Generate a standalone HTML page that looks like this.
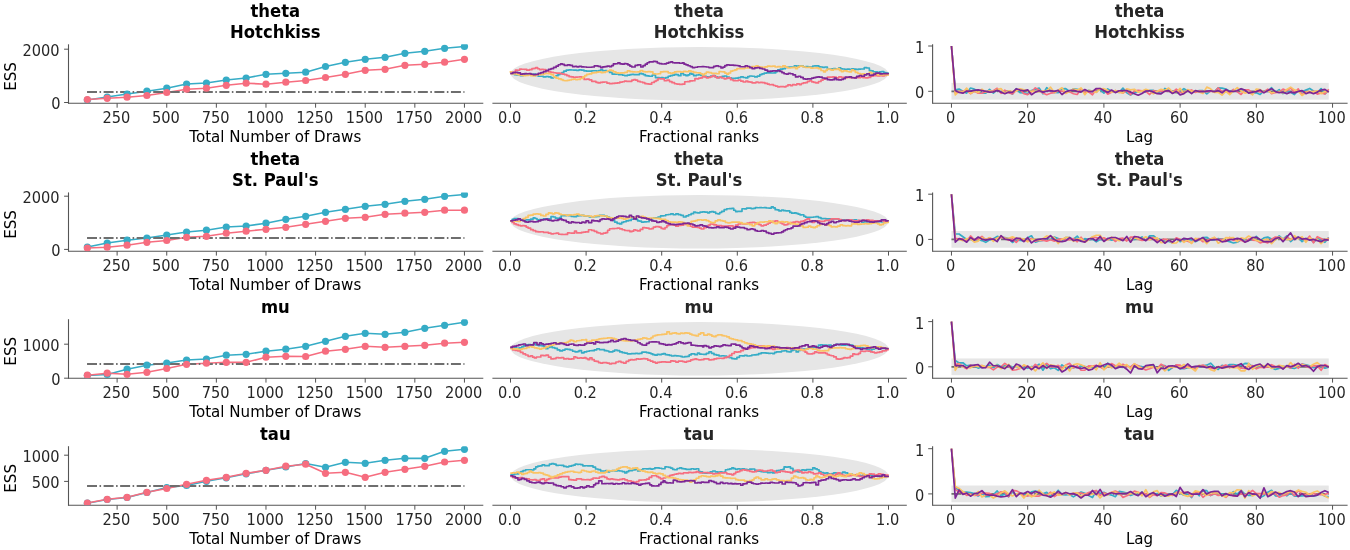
<!DOCTYPE html>
<html lang="en"><head><meta charset="utf-8"><title>ESS / rank / autocorrelation diagnostics</title>
<style>html,body{margin:0;padding:0;background:#fff;}body{width:1350px;height:550px;overflow:hidden;}svg{display:block;}</style>
</head><body>
<svg width="1350" height="550" viewBox="0 0 1350 550" font-family="'DejaVu Sans', 'Liberation Sans', sans-serif">
<rect width="1350" height="550" fill="#ffffff"/>
<defs>
<clipPath id="c00"><rect x="68.5" y="44.3" width="414.80" height="59.00"/></clipPath>
<clipPath id="c01"><rect x="492.4" y="44.3" width="414.40" height="59.00"/></clipPath>
<clipPath id="c02"><rect x="932.6" y="44.3" width="415.00" height="59.00"/></clipPath>
<clipPath id="c10"><rect x="68.5" y="192.4" width="414.80" height="58.80"/></clipPath>
<clipPath id="c11"><rect x="492.4" y="192.4" width="414.40" height="58.80"/></clipPath>
<clipPath id="c12"><rect x="932.6" y="192.4" width="415.00" height="58.80"/></clipPath>
<clipPath id="c20"><rect x="68.5" y="319.2" width="414.80" height="59.00"/></clipPath>
<clipPath id="c21"><rect x="492.4" y="319.2" width="414.40" height="59.00"/></clipPath>
<clipPath id="c22"><rect x="932.6" y="319.2" width="415.00" height="59.00"/></clipPath>
<clipPath id="c30"><rect x="68.5" y="446.2" width="414.80" height="59.10"/></clipPath>
<clipPath id="c31"><rect x="492.4" y="446.2" width="414.40" height="59.10"/></clipPath>
<clipPath id="c32"><rect x="932.6" y="446.2" width="415.00" height="59.10"/></clipPath>
</defs>
<text transform="translate(275.3,37.8) scale(1,1.06)" font-size="16.45" text-anchor="middle" font-weight="bold" fill="#000000">Hotchkiss</text>
<text transform="translate(275.3,16.7) scale(1,1.06)" font-size="16.45" text-anchor="middle" font-weight="bold" fill="#000000">theta</text>
<line x1="68.5" y1="103.3" x2="483.3" y2="103.3" stroke="#555555" stroke-width="1.1"/>
<text transform="translate(275.3,141.9) scale(1,1.03)" font-size="15.1" text-anchor="middle" fill="#000000">Total Number of Draws</text>
<text transform="translate(699,37.8) scale(1,1.06)" font-size="16.45" text-anchor="middle" font-weight="bold" fill="#262626">Hotchkiss</text>
<text transform="translate(699,16.7) scale(1,1.06)" font-size="16.45" text-anchor="middle" font-weight="bold" fill="#262626">theta</text>
<line x1="492.4" y1="103.3" x2="906.8" y2="103.3" stroke="#555555" stroke-width="1.1"/>
<text transform="translate(699,141.9) scale(1,1.03)" font-size="15.1" text-anchor="middle" fill="#000000">Fractional ranks</text>
<text transform="translate(1139.5,37.8) scale(1,1.06)" font-size="16.45" text-anchor="middle" font-weight="bold" fill="#262626">Hotchkiss</text>
<text transform="translate(1139.5,16.7) scale(1,1.06)" font-size="16.45" text-anchor="middle" font-weight="bold" fill="#262626">theta</text>
<line x1="932.6" y1="103.3" x2="1347.6" y2="103.3" stroke="#555555" stroke-width="1.1"/>
<text transform="translate(1139.5,141.9) scale(1,1.03)" font-size="15.1" text-anchor="middle" fill="#000000">Lag</text>
<text transform="translate(275.3,185.9) scale(1,1.06)" font-size="16.45" text-anchor="middle" font-weight="bold" fill="#000000">St. Paul's</text>
<text transform="translate(275.3,164.8) scale(1,1.06)" font-size="16.45" text-anchor="middle" font-weight="bold" fill="#000000">theta</text>
<line x1="68.5" y1="251.2" x2="483.3" y2="251.2" stroke="#555555" stroke-width="1.1"/>
<text transform="translate(275.3,289.8) scale(1,1.03)" font-size="15.1" text-anchor="middle" fill="#000000">Total Number of Draws</text>
<text transform="translate(699,185.9) scale(1,1.06)" font-size="16.45" text-anchor="middle" font-weight="bold" fill="#262626">St. Paul's</text>
<text transform="translate(699,164.8) scale(1,1.06)" font-size="16.45" text-anchor="middle" font-weight="bold" fill="#262626">theta</text>
<line x1="492.4" y1="251.2" x2="906.8" y2="251.2" stroke="#555555" stroke-width="1.1"/>
<text transform="translate(699,289.8) scale(1,1.03)" font-size="15.1" text-anchor="middle" fill="#000000">Fractional ranks</text>
<text transform="translate(1139.5,185.9) scale(1,1.06)" font-size="16.45" text-anchor="middle" font-weight="bold" fill="#262626">St. Paul's</text>
<text transform="translate(1139.5,164.8) scale(1,1.06)" font-size="16.45" text-anchor="middle" font-weight="bold" fill="#262626">theta</text>
<line x1="932.6" y1="251.2" x2="1347.6" y2="251.2" stroke="#555555" stroke-width="1.1"/>
<text transform="translate(1139.5,289.8) scale(1,1.03)" font-size="15.1" text-anchor="middle" fill="#000000">Lag</text>
<text transform="translate(275.3,312.7) scale(1,1.06)" font-size="16.45" text-anchor="middle" font-weight="bold" fill="#000000">mu</text>
<line x1="68.5" y1="378.2" x2="483.3" y2="378.2" stroke="#555555" stroke-width="1.1"/>
<text transform="translate(275.3,416.8) scale(1,1.03)" font-size="15.1" text-anchor="middle" fill="#000000">Total Number of Draws</text>
<text transform="translate(699,312.7) scale(1,1.06)" font-size="16.45" text-anchor="middle" font-weight="bold" fill="#262626">mu</text>
<line x1="492.4" y1="378.2" x2="906.8" y2="378.2" stroke="#555555" stroke-width="1.1"/>
<text transform="translate(699,416.8) scale(1,1.03)" font-size="15.1" text-anchor="middle" fill="#000000">Fractional ranks</text>
<text transform="translate(1139.5,312.7) scale(1,1.06)" font-size="16.45" text-anchor="middle" font-weight="bold" fill="#262626">mu</text>
<line x1="932.6" y1="378.2" x2="1347.6" y2="378.2" stroke="#555555" stroke-width="1.1"/>
<text transform="translate(1139.5,416.8) scale(1,1.03)" font-size="15.1" text-anchor="middle" fill="#000000">Lag</text>
<text transform="translate(275.3,439.7) scale(1,1.06)" font-size="16.45" text-anchor="middle" font-weight="bold" fill="#000000">tau</text>
<line x1="68.5" y1="505.3" x2="483.3" y2="505.3" stroke="#555555" stroke-width="1.1"/>
<text transform="translate(275.3,543.9) scale(1,1.03)" font-size="15.1" text-anchor="middle" fill="#000000">Total Number of Draws</text>
<text transform="translate(699,439.7) scale(1,1.06)" font-size="16.45" text-anchor="middle" font-weight="bold" fill="#262626">tau</text>
<line x1="492.4" y1="505.3" x2="906.8" y2="505.3" stroke="#555555" stroke-width="1.1"/>
<text transform="translate(699,543.9) scale(1,1.03)" font-size="15.1" text-anchor="middle" fill="#000000">Fractional ranks</text>
<text transform="translate(1139.5,439.7) scale(1,1.06)" font-size="16.45" text-anchor="middle" font-weight="bold" fill="#262626">tau</text>
<line x1="932.6" y1="505.3" x2="1347.6" y2="505.3" stroke="#555555" stroke-width="1.1"/>
<text transform="translate(1139.5,543.9) scale(1,1.03)" font-size="15.1" text-anchor="middle" fill="#000000">Lag</text>
<line x1="68.5" y1="44.3" x2="68.5" y2="103.85" stroke="#555555" stroke-width="1.1"/>
<line x1="117.12" y1="103.3" x2="117.12" y2="107.7" stroke="#4a4a4a" stroke-width="0.95"/>
<text transform="translate(116.32,122.8) scale(1,1.09)" font-size="14.6" text-anchor="middle" fill="#262626">250</text>
<line x1="166.74" y1="103.3" x2="166.74" y2="107.7" stroke="#4a4a4a" stroke-width="0.95"/>
<text transform="translate(165.94,122.8) scale(1,1.09)" font-size="14.6" text-anchor="middle" fill="#262626">500</text>
<line x1="216.36" y1="103.3" x2="216.36" y2="107.7" stroke="#4a4a4a" stroke-width="0.95"/>
<text transform="translate(215.56,122.8) scale(1,1.09)" font-size="14.6" text-anchor="middle" fill="#262626">750</text>
<line x1="265.98" y1="103.3" x2="265.98" y2="107.7" stroke="#4a4a4a" stroke-width="0.95"/>
<text transform="translate(265.18,122.8) scale(1,1.09)" font-size="14.6" text-anchor="middle" fill="#262626">1000</text>
<line x1="315.59" y1="103.3" x2="315.59" y2="107.7" stroke="#4a4a4a" stroke-width="0.95"/>
<text transform="translate(314.79,122.8) scale(1,1.09)" font-size="14.6" text-anchor="middle" fill="#262626">1250</text>
<line x1="365.21" y1="103.3" x2="365.21" y2="107.7" stroke="#4a4a4a" stroke-width="0.95"/>
<text transform="translate(364.41,122.8) scale(1,1.09)" font-size="14.6" text-anchor="middle" fill="#262626">1500</text>
<line x1="414.83" y1="103.3" x2="414.83" y2="107.7" stroke="#4a4a4a" stroke-width="0.95"/>
<text transform="translate(414.03,122.8) scale(1,1.09)" font-size="14.6" text-anchor="middle" fill="#262626">1750</text>
<line x1="464.45" y1="103.3" x2="464.45" y2="107.7" stroke="#4a4a4a" stroke-width="0.95"/>
<text transform="translate(463.65,122.8) scale(1,1.09)" font-size="14.6" text-anchor="middle" fill="#262626">2000</text>
<line x1="64.1" y1="49.2" x2="68.5" y2="49.2" stroke="#4a4a4a" stroke-width="0.95"/>
<text transform="translate(59.6,55.6) scale(1,1.09)" font-size="14.6" text-anchor="end" fill="#262626">2000</text>
<line x1="64.1" y1="102.5" x2="68.5" y2="102.5" stroke="#4a4a4a" stroke-width="0.95"/>
<text transform="translate(60.5,108.9) scale(1,1.09)" font-size="14.6" text-anchor="end" fill="#262626">0</text>
<text transform="translate(16,76.4) rotate(-90) scale(1,1.03)" font-size="15.1" text-anchor="middle" fill="#000000">ESS</text>
<g clip-path="url(#c00)">
<path d="M87.35 100 L107.2 97 L127.05 94 L146.9 91.2 L166.74 88.2 L186.59 84 L206.44 83 L226.28 80 L246.13 78 L265.98 74.3 L285.82 73.3 L305.67 72.2 L325.52 66.5 L345.36 62.3 L365.21 59.3 L385.06 57.3 L404.9 53.3 L424.75 51.3 L444.6 48.3 L464.45 46.5" fill="none" stroke="#36acc6" stroke-width="1.65" stroke-linejoin="round" stroke-linecap="butt"/>
<path d="M87.35 99.5 L107.2 98.3 L127.05 97.2 L146.9 95.5 L166.74 92.5 L186.59 89.2 L206.44 88.2 L226.28 85.3 L246.13 83.2 L265.98 84.2 L285.82 82.2 L305.67 80.5 L325.52 77.5 L345.36 74.3 L365.21 70.3 L385.06 69.3 L404.9 65.3 L424.75 64.3 L444.6 62.2 L464.45 59.3" fill="none" stroke="#f66d7f" stroke-width="1.65" stroke-linejoin="round" stroke-linecap="butt"/>
<line x1="87.05" y1="92.0" x2="464.45" y2="92.0" stroke="#6e6e6e" stroke-width="1.85" stroke-dasharray="9.98 2.50 1.56 2.50"/>
<circle cx="87.35" cy="100" r="3.6" fill="#36acc6"/>
<circle cx="107.2" cy="97" r="3.6" fill="#36acc6"/>
<circle cx="127.05" cy="94" r="3.6" fill="#36acc6"/>
<circle cx="146.9" cy="91.2" r="3.6" fill="#36acc6"/>
<circle cx="166.74" cy="88.2" r="3.6" fill="#36acc6"/>
<circle cx="186.59" cy="84" r="3.6" fill="#36acc6"/>
<circle cx="206.44" cy="83" r="3.6" fill="#36acc6"/>
<circle cx="226.28" cy="80" r="3.6" fill="#36acc6"/>
<circle cx="246.13" cy="78" r="3.6" fill="#36acc6"/>
<circle cx="265.98" cy="74.3" r="3.6" fill="#36acc6"/>
<circle cx="285.82" cy="73.3" r="3.6" fill="#36acc6"/>
<circle cx="305.67" cy="72.2" r="3.6" fill="#36acc6"/>
<circle cx="325.52" cy="66.5" r="3.6" fill="#36acc6"/>
<circle cx="345.36" cy="62.3" r="3.6" fill="#36acc6"/>
<circle cx="365.21" cy="59.3" r="3.6" fill="#36acc6"/>
<circle cx="385.06" cy="57.3" r="3.6" fill="#36acc6"/>
<circle cx="404.9" cy="53.3" r="3.6" fill="#36acc6"/>
<circle cx="424.75" cy="51.3" r="3.6" fill="#36acc6"/>
<circle cx="444.6" cy="48.3" r="3.6" fill="#36acc6"/>
<circle cx="464.45" cy="46.5" r="3.6" fill="#36acc6"/>
<circle cx="87.35" cy="99.5" r="3.6" fill="#f66d7f"/>
<circle cx="107.2" cy="98.3" r="3.6" fill="#f66d7f"/>
<circle cx="127.05" cy="97.2" r="3.6" fill="#f66d7f"/>
<circle cx="146.9" cy="95.5" r="3.6" fill="#f66d7f"/>
<circle cx="166.74" cy="92.5" r="3.6" fill="#f66d7f"/>
<circle cx="186.59" cy="89.2" r="3.6" fill="#f66d7f"/>
<circle cx="206.44" cy="88.2" r="3.6" fill="#f66d7f"/>
<circle cx="226.28" cy="85.3" r="3.6" fill="#f66d7f"/>
<circle cx="246.13" cy="83.2" r="3.6" fill="#f66d7f"/>
<circle cx="265.98" cy="84.2" r="3.6" fill="#f66d7f"/>
<circle cx="285.82" cy="82.2" r="3.6" fill="#f66d7f"/>
<circle cx="305.67" cy="80.5" r="3.6" fill="#f66d7f"/>
<circle cx="325.52" cy="77.5" r="3.6" fill="#f66d7f"/>
<circle cx="345.36" cy="74.3" r="3.6" fill="#f66d7f"/>
<circle cx="365.21" cy="70.3" r="3.6" fill="#f66d7f"/>
<circle cx="385.06" cy="69.3" r="3.6" fill="#f66d7f"/>
<circle cx="404.9" cy="65.3" r="3.6" fill="#f66d7f"/>
<circle cx="424.75" cy="64.3" r="3.6" fill="#f66d7f"/>
<circle cx="444.6" cy="62.2" r="3.6" fill="#f66d7f"/>
<circle cx="464.45" cy="59.3" r="3.6" fill="#f66d7f"/>
</g>
<line x1="68.5" y1="192.4" x2="68.5" y2="251.75" stroke="#555555" stroke-width="1.1"/>
<line x1="117.12" y1="251.2" x2="117.12" y2="255.6" stroke="#4a4a4a" stroke-width="0.95"/>
<text transform="translate(116.32,270.7) scale(1,1.09)" font-size="14.6" text-anchor="middle" fill="#262626">250</text>
<line x1="166.74" y1="251.2" x2="166.74" y2="255.6" stroke="#4a4a4a" stroke-width="0.95"/>
<text transform="translate(165.94,270.7) scale(1,1.09)" font-size="14.6" text-anchor="middle" fill="#262626">500</text>
<line x1="216.36" y1="251.2" x2="216.36" y2="255.6" stroke="#4a4a4a" stroke-width="0.95"/>
<text transform="translate(215.56,270.7) scale(1,1.09)" font-size="14.6" text-anchor="middle" fill="#262626">750</text>
<line x1="265.98" y1="251.2" x2="265.98" y2="255.6" stroke="#4a4a4a" stroke-width="0.95"/>
<text transform="translate(265.18,270.7) scale(1,1.09)" font-size="14.6" text-anchor="middle" fill="#262626">1000</text>
<line x1="315.59" y1="251.2" x2="315.59" y2="255.6" stroke="#4a4a4a" stroke-width="0.95"/>
<text transform="translate(314.79,270.7) scale(1,1.09)" font-size="14.6" text-anchor="middle" fill="#262626">1250</text>
<line x1="365.21" y1="251.2" x2="365.21" y2="255.6" stroke="#4a4a4a" stroke-width="0.95"/>
<text transform="translate(364.41,270.7) scale(1,1.09)" font-size="14.6" text-anchor="middle" fill="#262626">1500</text>
<line x1="414.83" y1="251.2" x2="414.83" y2="255.6" stroke="#4a4a4a" stroke-width="0.95"/>
<text transform="translate(414.03,270.7) scale(1,1.09)" font-size="14.6" text-anchor="middle" fill="#262626">1750</text>
<line x1="464.45" y1="251.2" x2="464.45" y2="255.6" stroke="#4a4a4a" stroke-width="0.95"/>
<text transform="translate(463.65,270.7) scale(1,1.09)" font-size="14.6" text-anchor="middle" fill="#262626">2000</text>
<line x1="64.1" y1="196.2" x2="68.5" y2="196.2" stroke="#4a4a4a" stroke-width="0.95"/>
<text transform="translate(59.6,202.6) scale(1,1.09)" font-size="14.6" text-anchor="end" fill="#262626">2000</text>
<line x1="64.1" y1="249.4" x2="68.5" y2="249.4" stroke="#4a4a4a" stroke-width="0.95"/>
<text transform="translate(60.5,255.8) scale(1,1.09)" font-size="14.6" text-anchor="end" fill="#262626">0</text>
<text transform="translate(16,224.4) rotate(-90) scale(1,1.03)" font-size="15.1" text-anchor="middle" fill="#000000">ESS</text>
<g clip-path="url(#c10)">
<path d="M87.35 247 L107.2 243 L127.05 240.2 L146.9 238 L166.74 235 L186.59 232 L206.44 230.2 L226.28 227 L246.13 226 L265.98 223.2 L285.82 219.3 L305.67 216.3 L325.52 212.3 L345.36 209.3 L365.21 206.3 L385.06 204.3 L404.9 201.3 L424.75 199.3 L444.6 196.3 L464.45 194.5" fill="none" stroke="#36acc6" stroke-width="1.65" stroke-linejoin="round" stroke-linecap="butt"/>
<path d="M87.35 248 L107.2 247.2 L127.05 245.2 L146.9 242.3 L166.74 240.5 L186.59 237.3 L206.44 236.3 L226.28 233.2 L246.13 231.2 L265.98 229.3 L285.82 227.3 L305.67 224.3 L325.52 221.3 L345.36 218.3 L365.21 217.3 L385.06 214.3 L404.9 213.2 L424.75 212.3 L444.6 210.2 L464.45 210.2" fill="none" stroke="#f66d7f" stroke-width="1.65" stroke-linejoin="round" stroke-linecap="butt"/>
<line x1="87.05" y1="238.0" x2="464.45" y2="238.0" stroke="#6e6e6e" stroke-width="1.85" stroke-dasharray="9.98 2.50 1.56 2.50"/>
<circle cx="87.35" cy="247" r="3.6" fill="#36acc6"/>
<circle cx="107.2" cy="243" r="3.6" fill="#36acc6"/>
<circle cx="127.05" cy="240.2" r="3.6" fill="#36acc6"/>
<circle cx="146.9" cy="238" r="3.6" fill="#36acc6"/>
<circle cx="166.74" cy="235" r="3.6" fill="#36acc6"/>
<circle cx="186.59" cy="232" r="3.6" fill="#36acc6"/>
<circle cx="206.44" cy="230.2" r="3.6" fill="#36acc6"/>
<circle cx="226.28" cy="227" r="3.6" fill="#36acc6"/>
<circle cx="246.13" cy="226" r="3.6" fill="#36acc6"/>
<circle cx="265.98" cy="223.2" r="3.6" fill="#36acc6"/>
<circle cx="285.82" cy="219.3" r="3.6" fill="#36acc6"/>
<circle cx="305.67" cy="216.3" r="3.6" fill="#36acc6"/>
<circle cx="325.52" cy="212.3" r="3.6" fill="#36acc6"/>
<circle cx="345.36" cy="209.3" r="3.6" fill="#36acc6"/>
<circle cx="365.21" cy="206.3" r="3.6" fill="#36acc6"/>
<circle cx="385.06" cy="204.3" r="3.6" fill="#36acc6"/>
<circle cx="404.9" cy="201.3" r="3.6" fill="#36acc6"/>
<circle cx="424.75" cy="199.3" r="3.6" fill="#36acc6"/>
<circle cx="444.6" cy="196.3" r="3.6" fill="#36acc6"/>
<circle cx="464.45" cy="194.5" r="3.6" fill="#36acc6"/>
<circle cx="87.35" cy="248" r="3.6" fill="#f66d7f"/>
<circle cx="107.2" cy="247.2" r="3.6" fill="#f66d7f"/>
<circle cx="127.05" cy="245.2" r="3.6" fill="#f66d7f"/>
<circle cx="146.9" cy="242.3" r="3.6" fill="#f66d7f"/>
<circle cx="166.74" cy="240.5" r="3.6" fill="#f66d7f"/>
<circle cx="186.59" cy="237.3" r="3.6" fill="#f66d7f"/>
<circle cx="206.44" cy="236.3" r="3.6" fill="#f66d7f"/>
<circle cx="226.28" cy="233.2" r="3.6" fill="#f66d7f"/>
<circle cx="246.13" cy="231.2" r="3.6" fill="#f66d7f"/>
<circle cx="265.98" cy="229.3" r="3.6" fill="#f66d7f"/>
<circle cx="285.82" cy="227.3" r="3.6" fill="#f66d7f"/>
<circle cx="305.67" cy="224.3" r="3.6" fill="#f66d7f"/>
<circle cx="325.52" cy="221.3" r="3.6" fill="#f66d7f"/>
<circle cx="345.36" cy="218.3" r="3.6" fill="#f66d7f"/>
<circle cx="365.21" cy="217.3" r="3.6" fill="#f66d7f"/>
<circle cx="385.06" cy="214.3" r="3.6" fill="#f66d7f"/>
<circle cx="404.9" cy="213.2" r="3.6" fill="#f66d7f"/>
<circle cx="424.75" cy="212.3" r="3.6" fill="#f66d7f"/>
<circle cx="444.6" cy="210.2" r="3.6" fill="#f66d7f"/>
<circle cx="464.45" cy="210.2" r="3.6" fill="#f66d7f"/>
</g>
<line x1="68.5" y1="319.2" x2="68.5" y2="378.75" stroke="#555555" stroke-width="1.1"/>
<line x1="117.12" y1="378.2" x2="117.12" y2="382.6" stroke="#4a4a4a" stroke-width="0.95"/>
<text transform="translate(116.32,397.7) scale(1,1.09)" font-size="14.6" text-anchor="middle" fill="#262626">250</text>
<line x1="166.74" y1="378.2" x2="166.74" y2="382.6" stroke="#4a4a4a" stroke-width="0.95"/>
<text transform="translate(165.94,397.7) scale(1,1.09)" font-size="14.6" text-anchor="middle" fill="#262626">500</text>
<line x1="216.36" y1="378.2" x2="216.36" y2="382.6" stroke="#4a4a4a" stroke-width="0.95"/>
<text transform="translate(215.56,397.7) scale(1,1.09)" font-size="14.6" text-anchor="middle" fill="#262626">750</text>
<line x1="265.98" y1="378.2" x2="265.98" y2="382.6" stroke="#4a4a4a" stroke-width="0.95"/>
<text transform="translate(265.18,397.7) scale(1,1.09)" font-size="14.6" text-anchor="middle" fill="#262626">1000</text>
<line x1="315.59" y1="378.2" x2="315.59" y2="382.6" stroke="#4a4a4a" stroke-width="0.95"/>
<text transform="translate(314.79,397.7) scale(1,1.09)" font-size="14.6" text-anchor="middle" fill="#262626">1250</text>
<line x1="365.21" y1="378.2" x2="365.21" y2="382.6" stroke="#4a4a4a" stroke-width="0.95"/>
<text transform="translate(364.41,397.7) scale(1,1.09)" font-size="14.6" text-anchor="middle" fill="#262626">1500</text>
<line x1="414.83" y1="378.2" x2="414.83" y2="382.6" stroke="#4a4a4a" stroke-width="0.95"/>
<text transform="translate(414.03,397.7) scale(1,1.09)" font-size="14.6" text-anchor="middle" fill="#262626">1750</text>
<line x1="464.45" y1="378.2" x2="464.45" y2="382.6" stroke="#4a4a4a" stroke-width="0.95"/>
<text transform="translate(463.65,397.7) scale(1,1.09)" font-size="14.6" text-anchor="middle" fill="#262626">2000</text>
<line x1="64.1" y1="344.2" x2="68.5" y2="344.2" stroke="#4a4a4a" stroke-width="0.95"/>
<text transform="translate(59.6,350.6) scale(1,1.09)" font-size="14.6" text-anchor="end" fill="#262626">1000</text>
<line x1="64.1" y1="378.2" x2="68.5" y2="378.2" stroke="#4a4a4a" stroke-width="0.95"/>
<text transform="translate(60.5,384.6) scale(1,1.09)" font-size="14.6" text-anchor="end" fill="#262626">0</text>
<text transform="translate(16,351.3) rotate(-90) scale(1,1.03)" font-size="15.1" text-anchor="middle" fill="#000000">ESS</text>
<g clip-path="url(#c20)">
<path d="M87.35 375.5 L107.2 374.5 L127.05 369.2 L146.9 365.2 L166.74 363 L186.59 360 L206.44 359 L226.28 355.2 L246.13 354.3 L265.98 351.2 L285.82 349.2 L305.67 346.3 L325.52 341.3 L345.36 336.3 L365.21 333.3 L385.06 334.3 L404.9 332.3 L424.75 328.3 L444.6 325.3 L464.45 322.3" fill="none" stroke="#36acc6" stroke-width="1.65" stroke-linejoin="round" stroke-linecap="butt"/>
<path d="M87.35 375.2 L107.2 373.2 L127.05 374.3 L146.9 372.3 L166.74 368.5 L186.59 364.3 L206.44 363.2 L226.28 362.3 L246.13 362.3 L265.98 357.2 L285.82 356.3 L305.67 356.5 L325.52 351.2 L345.36 349.3 L365.21 346.3 L385.06 347.3 L404.9 346.3 L424.75 345.3 L444.6 343.2 L464.45 342.3" fill="none" stroke="#f66d7f" stroke-width="1.65" stroke-linejoin="round" stroke-linecap="butt"/>
<line x1="87.05" y1="364.0" x2="464.45" y2="364.0" stroke="#6e6e6e" stroke-width="1.85" stroke-dasharray="9.98 2.50 1.56 2.50"/>
<circle cx="87.35" cy="375.5" r="3.6" fill="#36acc6"/>
<circle cx="107.2" cy="374.5" r="3.6" fill="#36acc6"/>
<circle cx="127.05" cy="369.2" r="3.6" fill="#36acc6"/>
<circle cx="146.9" cy="365.2" r="3.6" fill="#36acc6"/>
<circle cx="166.74" cy="363" r="3.6" fill="#36acc6"/>
<circle cx="186.59" cy="360" r="3.6" fill="#36acc6"/>
<circle cx="206.44" cy="359" r="3.6" fill="#36acc6"/>
<circle cx="226.28" cy="355.2" r="3.6" fill="#36acc6"/>
<circle cx="246.13" cy="354.3" r="3.6" fill="#36acc6"/>
<circle cx="265.98" cy="351.2" r="3.6" fill="#36acc6"/>
<circle cx="285.82" cy="349.2" r="3.6" fill="#36acc6"/>
<circle cx="305.67" cy="346.3" r="3.6" fill="#36acc6"/>
<circle cx="325.52" cy="341.3" r="3.6" fill="#36acc6"/>
<circle cx="345.36" cy="336.3" r="3.6" fill="#36acc6"/>
<circle cx="365.21" cy="333.3" r="3.6" fill="#36acc6"/>
<circle cx="385.06" cy="334.3" r="3.6" fill="#36acc6"/>
<circle cx="404.9" cy="332.3" r="3.6" fill="#36acc6"/>
<circle cx="424.75" cy="328.3" r="3.6" fill="#36acc6"/>
<circle cx="444.6" cy="325.3" r="3.6" fill="#36acc6"/>
<circle cx="464.45" cy="322.3" r="3.6" fill="#36acc6"/>
<circle cx="87.35" cy="375.2" r="3.6" fill="#f66d7f"/>
<circle cx="107.2" cy="373.2" r="3.6" fill="#f66d7f"/>
<circle cx="127.05" cy="374.3" r="3.6" fill="#f66d7f"/>
<circle cx="146.9" cy="372.3" r="3.6" fill="#f66d7f"/>
<circle cx="166.74" cy="368.5" r="3.6" fill="#f66d7f"/>
<circle cx="186.59" cy="364.3" r="3.6" fill="#f66d7f"/>
<circle cx="206.44" cy="363.2" r="3.6" fill="#f66d7f"/>
<circle cx="226.28" cy="362.3" r="3.6" fill="#f66d7f"/>
<circle cx="246.13" cy="362.3" r="3.6" fill="#f66d7f"/>
<circle cx="265.98" cy="357.2" r="3.6" fill="#f66d7f"/>
<circle cx="285.82" cy="356.3" r="3.6" fill="#f66d7f"/>
<circle cx="305.67" cy="356.5" r="3.6" fill="#f66d7f"/>
<circle cx="325.52" cy="351.2" r="3.6" fill="#f66d7f"/>
<circle cx="345.36" cy="349.3" r="3.6" fill="#f66d7f"/>
<circle cx="365.21" cy="346.3" r="3.6" fill="#f66d7f"/>
<circle cx="385.06" cy="347.3" r="3.6" fill="#f66d7f"/>
<circle cx="404.9" cy="346.3" r="3.6" fill="#f66d7f"/>
<circle cx="424.75" cy="345.3" r="3.6" fill="#f66d7f"/>
<circle cx="444.6" cy="343.2" r="3.6" fill="#f66d7f"/>
<circle cx="464.45" cy="342.3" r="3.6" fill="#f66d7f"/>
</g>
<line x1="68.5" y1="446.2" x2="68.5" y2="505.85" stroke="#555555" stroke-width="1.1"/>
<line x1="117.12" y1="505.3" x2="117.12" y2="509.7" stroke="#4a4a4a" stroke-width="0.95"/>
<text transform="translate(116.32,524.8) scale(1,1.09)" font-size="14.6" text-anchor="middle" fill="#262626">250</text>
<line x1="166.74" y1="505.3" x2="166.74" y2="509.7" stroke="#4a4a4a" stroke-width="0.95"/>
<text transform="translate(165.94,524.8) scale(1,1.09)" font-size="14.6" text-anchor="middle" fill="#262626">500</text>
<line x1="216.36" y1="505.3" x2="216.36" y2="509.7" stroke="#4a4a4a" stroke-width="0.95"/>
<text transform="translate(215.56,524.8) scale(1,1.09)" font-size="14.6" text-anchor="middle" fill="#262626">750</text>
<line x1="265.98" y1="505.3" x2="265.98" y2="509.7" stroke="#4a4a4a" stroke-width="0.95"/>
<text transform="translate(265.18,524.8) scale(1,1.09)" font-size="14.6" text-anchor="middle" fill="#262626">1000</text>
<line x1="315.59" y1="505.3" x2="315.59" y2="509.7" stroke="#4a4a4a" stroke-width="0.95"/>
<text transform="translate(314.79,524.8) scale(1,1.09)" font-size="14.6" text-anchor="middle" fill="#262626">1250</text>
<line x1="365.21" y1="505.3" x2="365.21" y2="509.7" stroke="#4a4a4a" stroke-width="0.95"/>
<text transform="translate(364.41,524.8) scale(1,1.09)" font-size="14.6" text-anchor="middle" fill="#262626">1500</text>
<line x1="414.83" y1="505.3" x2="414.83" y2="509.7" stroke="#4a4a4a" stroke-width="0.95"/>
<text transform="translate(414.03,524.8) scale(1,1.09)" font-size="14.6" text-anchor="middle" fill="#262626">1750</text>
<line x1="464.45" y1="505.3" x2="464.45" y2="509.7" stroke="#4a4a4a" stroke-width="0.95"/>
<text transform="translate(463.65,524.8) scale(1,1.09)" font-size="14.6" text-anchor="middle" fill="#262626">2000</text>
<line x1="64.1" y1="455.2" x2="68.5" y2="455.2" stroke="#4a4a4a" stroke-width="0.95"/>
<text transform="translate(59.6,461.6) scale(1,1.09)" font-size="14.6" text-anchor="end" fill="#262626">1000</text>
<line x1="64.1" y1="481.4" x2="68.5" y2="481.4" stroke="#4a4a4a" stroke-width="0.95"/>
<text transform="translate(59.6,487.8) scale(1,1.09)" font-size="14.6" text-anchor="end" fill="#262626">500</text>
<text transform="translate(16,478.35) rotate(-90) scale(1,1.03)" font-size="15.1" text-anchor="middle" fill="#000000">ESS</text>
<g clip-path="url(#c30)">
<path d="M87.35 503.2 L107.2 499.5 L127.05 497.5 L146.9 492.5 L166.74 487.5 L186.59 485.5 L206.44 481.3 L226.28 477.8 L246.13 473.8 L265.98 470.3 L285.82 467 L305.67 463.5 L325.52 467.3 L345.36 462.3 L365.21 463.3 L385.06 460.3 L404.9 458.3 L424.75 458.3 L444.6 451.3 L464.45 449.3" fill="none" stroke="#36acc6" stroke-width="1.65" stroke-linejoin="round" stroke-linecap="butt"/>
<path d="M87.35 503 L107.2 499.3 L127.05 497.3 L146.9 492.3 L166.74 488.5 L186.59 484.3 L206.44 480.3 L226.28 477.3 L246.13 473.3 L265.98 470.3 L285.82 466.2 L305.67 464.2 L325.52 473.3 L345.36 472.3 L365.21 477.3 L385.06 472.3 L404.9 469.3 L424.75 466.3 L444.6 462 L464.45 460.3" fill="none" stroke="#f66d7f" stroke-width="1.65" stroke-linejoin="round" stroke-linecap="butt"/>
<line x1="87.05" y1="486.0" x2="464.45" y2="486.0" stroke="#6e6e6e" stroke-width="1.85" stroke-dasharray="9.98 2.50 1.56 2.50"/>
<circle cx="87.35" cy="503.2" r="3.6" fill="#36acc6"/>
<circle cx="107.2" cy="499.5" r="3.6" fill="#36acc6"/>
<circle cx="127.05" cy="497.5" r="3.6" fill="#36acc6"/>
<circle cx="146.9" cy="492.5" r="3.6" fill="#36acc6"/>
<circle cx="166.74" cy="487.5" r="3.6" fill="#36acc6"/>
<circle cx="186.59" cy="485.5" r="3.6" fill="#36acc6"/>
<circle cx="206.44" cy="481.3" r="3.6" fill="#36acc6"/>
<circle cx="226.28" cy="477.8" r="3.6" fill="#36acc6"/>
<circle cx="246.13" cy="473.8" r="3.6" fill="#36acc6"/>
<circle cx="265.98" cy="470.3" r="3.6" fill="#36acc6"/>
<circle cx="285.82" cy="467" r="3.6" fill="#36acc6"/>
<circle cx="305.67" cy="463.5" r="3.6" fill="#36acc6"/>
<circle cx="325.52" cy="467.3" r="3.6" fill="#36acc6"/>
<circle cx="345.36" cy="462.3" r="3.6" fill="#36acc6"/>
<circle cx="365.21" cy="463.3" r="3.6" fill="#36acc6"/>
<circle cx="385.06" cy="460.3" r="3.6" fill="#36acc6"/>
<circle cx="404.9" cy="458.3" r="3.6" fill="#36acc6"/>
<circle cx="424.75" cy="458.3" r="3.6" fill="#36acc6"/>
<circle cx="444.6" cy="451.3" r="3.6" fill="#36acc6"/>
<circle cx="464.45" cy="449.3" r="3.6" fill="#36acc6"/>
<circle cx="87.35" cy="503" r="3.6" fill="#f66d7f"/>
<circle cx="107.2" cy="499.3" r="3.6" fill="#f66d7f"/>
<circle cx="127.05" cy="497.3" r="3.6" fill="#f66d7f"/>
<circle cx="146.9" cy="492.3" r="3.6" fill="#f66d7f"/>
<circle cx="166.74" cy="488.5" r="3.6" fill="#f66d7f"/>
<circle cx="186.59" cy="484.3" r="3.6" fill="#f66d7f"/>
<circle cx="206.44" cy="480.3" r="3.6" fill="#f66d7f"/>
<circle cx="226.28" cy="477.3" r="3.6" fill="#f66d7f"/>
<circle cx="246.13" cy="473.3" r="3.6" fill="#f66d7f"/>
<circle cx="265.98" cy="470.3" r="3.6" fill="#f66d7f"/>
<circle cx="285.82" cy="466.2" r="3.6" fill="#f66d7f"/>
<circle cx="305.67" cy="464.2" r="3.6" fill="#f66d7f"/>
<circle cx="325.52" cy="473.3" r="3.6" fill="#f66d7f"/>
<circle cx="345.36" cy="472.3" r="3.6" fill="#f66d7f"/>
<circle cx="365.21" cy="477.3" r="3.6" fill="#f66d7f"/>
<circle cx="385.06" cy="472.3" r="3.6" fill="#f66d7f"/>
<circle cx="404.9" cy="469.3" r="3.6" fill="#f66d7f"/>
<circle cx="424.75" cy="466.3" r="3.6" fill="#f66d7f"/>
<circle cx="444.6" cy="462" r="3.6" fill="#f66d7f"/>
<circle cx="464.45" cy="460.3" r="3.6" fill="#f66d7f"/>
</g>
<line x1="510.5" y1="103.3" x2="510.5" y2="107.7" stroke="#4a4a4a" stroke-width="0.95"/>
<text transform="translate(509.7,122.8) scale(1,1.09)" font-size="14.6" text-anchor="middle" fill="#262626">0.0</text>
<line x1="586.1" y1="103.3" x2="586.1" y2="107.7" stroke="#4a4a4a" stroke-width="0.95"/>
<text transform="translate(585.3,122.8) scale(1,1.09)" font-size="14.6" text-anchor="middle" fill="#262626">0.2</text>
<line x1="661.7" y1="103.3" x2="661.7" y2="107.7" stroke="#4a4a4a" stroke-width="0.95"/>
<text transform="translate(660.9,122.8) scale(1,1.09)" font-size="14.6" text-anchor="middle" fill="#262626">0.4</text>
<line x1="737.3" y1="103.3" x2="737.3" y2="107.7" stroke="#4a4a4a" stroke-width="0.95"/>
<text transform="translate(736.5,122.8) scale(1,1.09)" font-size="14.6" text-anchor="middle" fill="#262626">0.6</text>
<line x1="812.9" y1="103.3" x2="812.9" y2="107.7" stroke="#4a4a4a" stroke-width="0.95"/>
<text transform="translate(812.1,122.8) scale(1,1.09)" font-size="14.6" text-anchor="middle" fill="#262626">0.8</text>
<line x1="888.5" y1="103.3" x2="888.5" y2="107.7" stroke="#4a4a4a" stroke-width="0.95"/>
<text transform="translate(887.7,122.8) scale(1,1.09)" font-size="14.6" text-anchor="middle" fill="#262626">1.0</text>
<ellipse cx="699.5" cy="73.8" rx="189" ry="26.82" fill="#e6e6e6"/>
<path d="M510.27 73.35 L512.31 73.35 L512.31 73.47 L514.35 73.47 L514.35 74.57 L516.38 74.57 L516.38 74.96 L518.42 74.96 L518.42 74.96 L520.45 74.96 L520.45 75.64 L523 75.64 L523 74.87 L525.55 74.87 L525.55 74.11 L528.09 74.11 L528.09 74.06 L530.64 74.06 L530.64 74.25 L533.18 74.25 L533.18 74.11 L535.73 74.11 L535.73 75.45 L538.27 75.45 L538.27 76.27 L540.82 76.27 L540.82 76.23 L543.36 76.23 L543.36 76.91 L545.91 76.91 L545.91 76.48 L548.45 76.48 L548.45 76.91 L551 76.91 L551 77.8 L553.55 77.8 L553.55 77.02 L556.09 77.02 L556.09 75.64 L558 75.64 L558 74.62 L559.91 74.62 L559.91 73.73 L561.82 73.73 L561.82 72.69 L563.73 72.69 L563.73 71.18 L566.27 71.18 L566.27 70.1 L568.82 70.1 L568.82 69.91 L571.36 69.91 L571.36 69.99 L573.91 69.99 L573.91 70.16 L576.45 70.16 L576.45 70.36 L579 70.36 L579 69.92 L581.55 69.92 L581.55 70.16 L584.09 70.16 L584.09 70.9 L586.64 70.9 L586.64 71.2 L589.18 71.2 L589.18 71.18 L591.73 71.18 L591.73 70.76 L594.27 70.76 L594.27 70.75 L596.82 70.75 L596.82 71.18 L598.73 71.18 L598.73 70.58 L600.64 70.58 L600.64 69.91 L602.76 69.91 L602.76 70.73 L604.88 70.73 L604.88 70.65 L607 70.65 L607 71.18 L609.55 71.18 L609.55 72.39 L612.09 72.39 L612.09 74.11 L614.21 74.11 L614.21 74.21 L616.33 74.21 L616.33 74.02 L618.45 74.02 L618.45 74.62 L620.58 74.62 L620.58 74.71 L622.7 74.71 L622.7 75.24 L624.82 75.24 L624.82 75.64 L627.36 75.64 L627.36 75.12 L629.91 75.12 L629.91 74.62 L631.86 74.62 L631.86 74.38 L633.82 74.38 L633.82 74.62 L636.36 74.62 L636.36 74.62 L639.55 74.62 L639.55 73.35 L641.45 73.35 L641.45 73.87 L643.36 73.87 L643.36 74.62 L645.27 74.62 L645.27 75.64 L647.18 75.64 L647.18 75.92 L649.09 75.92 L649.09 76.27 L652.27 76.27 L652.27 75 L655.45 75 L655.45 77.55 L657.36 77.55 L657.36 77.55 L659.27 77.55 L659.27 77.93 L661.18 77.93 L661.18 77.62 L663.09 77.62 L663.09 78.18 L665.64 78.18 L665.64 77.53 L668.18 77.53 L668.18 76.27 L670.3 76.27 L670.3 75.69 L672.42 75.69 L672.42 75.13 L674.55 75.13 L674.55 74.36 L676.45 74.36 L676.45 74.72 L678.36 74.72 L678.36 75.64 L680.91 75.64 L680.91 73.35 L683.45 73.35 L683.45 74.93 L686 74.93 L686 75.64 L687.91 75.64 L687.91 74.81 L689.82 74.81 L689.82 73.35 L691.73 73.35 L691.73 74.15 L693.64 74.15 L693.64 75.64 L696.18 75.64 L696.18 74.98 L698.73 74.98 L698.73 74.62 L700.64 74.62 L700.64 75.33 L702.55 75.33 L702.55 75.64 L704.45 75.64 L704.45 76.46 L706.36 76.46 L706.36 76.91 L708.48 76.91 L708.48 76.88 L710.61 76.88 L710.61 75.99 L712.73 75.99 L712.73 75.64 L715.27 75.64 L715.27 76.89 L717.82 76.89 L717.82 77.55 L719.94 77.55 L719.94 77.19 L722.06 77.19 L722.06 76.35 L724.18 76.35 L724.18 76.02 L726.73 76.02 L726.73 77.05 L729.27 77.05 L729.27 77.93 L731.39 77.93 L731.39 78.36 L733.52 78.36 L733.52 78.41 L735.64 78.41 L735.64 78.18 L738.18 78.18 L738.18 77.55 L740.73 77.55 L740.73 76.91 L743.27 76.91 L743.27 77.5 L745.82 77.5 L745.82 77.93 L747.73 77.93 L747.73 76.55 L749.64 76.55 L749.64 76.02 L752.18 76.02 L752.18 76.23 L754.73 76.23 L754.73 76.91 L757.27 76.91 L757.27 76.03 L759.82 76.03 L759.82 74.62 L761.97 74.62 L761.97 73.95 L764.12 73.95 L764.12 73.14 L766.27 73.14 L766.27 72.84 L768.82 72.84 L768.82 72.88 L771.36 72.88 L771.36 73.02 L773.91 73.02 L773.91 72.84 L775.82 72.84 L775.82 71.53 L777.73 71.53 L777.73 69.91 L780.27 69.91 L780.27 69.16 L782.82 69.16 L782.82 68.64 L785.36 68.64 L785.36 67.36 L787.48 67.36 L787.48 67.18 L789.61 67.18 L789.61 67.12 L791.73 67.12 L791.73 66.98 L794.27 66.98 L794.27 65.84 L796.39 65.84 L796.39 66.09 L798.52 66.09 L798.52 65.86 L800.64 65.86 L800.64 65.84 L803.18 65.84 L803.18 66.73 L805.73 66.73 L805.73 66.72 L808.27 66.72 L808.27 66.89 L810.82 66.89 L810.82 66.98 L812.73 66.98 L812.73 65.99 L814.64 65.99 L814.64 65.84 L816.76 65.84 L816.76 65.81 L818.88 65.81 L818.88 66.78 L821 66.78 L821 66.98 L822.91 66.98 L822.91 67.42 L824.82 67.42 L824.82 66.98 L827.36 66.98 L827.36 69.02 L829.4 69.02 L829.4 69.1 L831.44 69.1 L831.44 68.92 L833.47 68.92 L833.47 68.72 L835.51 68.72 L835.51 69.02 L837.55 69.02 L837.55 69.02 L838.82 69.02 L838.82 67.75 L840.73 67.75 L840.73 68.82 L842.64 68.82 L842.64 69.02 L844.9 69.02 L844.9 69.26 L847.16 69.26 L847.16 69.05 L849.42 69.05 L849.42 69.34 L851.69 69.34 L851.69 68.78 L853.95 68.78 L853.95 69.03 L856.21 69.03 L856.21 69.43 L858.47 69.43 L858.47 69.09 L860.74 69.09 L860.74 68.98 L863 68.98 L863 69.02 L864.27 69.02 L864.27 67.62 L866.82 67.62 L866.82 68 L869.36 68 L869.36 70.55 L871.27 70.55 L871.27 70.97 L873.18 70.97 L873.18 71.82 L875.3 71.82 L875.3 71.86 L877.42 71.86 L877.42 72.23 L879.55 72.23 L879.55 71.82 L881.71 71.82 L881.71 71.69 L883.87 71.69 L883.87 72.71 L886.04 72.71 L886.04 73.06 L888.2 73.06 L888.2 73.09" fill="none" stroke="#36acc6" stroke-width="1.7" stroke-linejoin="round" stroke-linecap="butt"/>
<path d="M510.27 73.35 L512.82 73.35 L512.82 72.16 L515.36 72.16 L515.36 70.16 L517.48 70.16 L517.48 70.27 L519.61 70.27 L519.61 69.17 L521.73 69.17 L521.73 69.27 L524.27 69.27 L524.27 69.34 L526.82 69.34 L526.82 70.16 L529.36 70.16 L529.36 69.7 L531.91 69.7 L531.91 68.64 L533.82 68.64 L533.82 68.34 L535.73 68.34 L535.73 67.62 L537.64 67.62 L537.64 68.73 L539.55 68.73 L539.55 69.53 L541.45 69.53 L541.45 69.35 L543.36 69.35 L543.36 69.53 L545.91 69.53 L545.91 70.77 L548.45 70.77 L548.45 71.82 L551 71.82 L551 72.34 L553.55 72.34 L553.55 72.74 L556.09 72.74 L556.09 73.09 L558.21 73.09 L558.21 73.12 L560.33 73.12 L560.33 73.71 L562.45 73.71 L562.45 74.11 L564.68 74.11 L564.68 74.71 L566.91 74.71 L566.91 75.71 L569.14 75.71 L569.14 76.65 L571.36 76.65 L571.36 76.91 L573.4 76.91 L573.4 77.36 L575.44 77.36 L575.44 77.05 L577.47 77.05 L577.47 77.01 L579.51 77.01 L579.51 76.9 L581.55 76.9 L581.55 77.16 L584.09 77.16 L584.09 79.45 L586.64 79.45 L586.64 79.2 L589.18 79.2 L589.18 79.86 L591.73 79.86 L591.73 81.36 L593.85 81.36 L593.85 81.45 L595.97 81.45 L595.97 82.35 L598.09 82.35 L598.09 82.89 L600.21 82.89 L600.21 82.43 L602.33 82.43 L602.33 82.19 L604.45 82.19 L604.45 82 L607 82 L607 83.18 L609.55 83.18 L609.55 83.65 L612.09 83.65 L612.09 83.42 L614.64 83.42 L614.64 83.2 L617.18 83.2 L617.18 82.89 L619.73 82.89 L619.73 82.08 L622.27 82.08 L622.27 81.75 L624.39 81.75 L624.39 81.19 L626.52 81.19 L626.52 81.33 L628.64 81.33 L628.64 81.36 L631.82 81.36 L631.82 80.09 L633.82 80.09 L633.82 79.71 L635.73 79.71 L635.73 80.21 L637.64 80.21 L637.64 81.36 L640.18 81.36 L640.18 82.01 L642.73 82.01 L642.73 82.64 L644.85 82.64 L644.85 83.59 L646.97 83.59 L646.97 83.81 L649.09 83.81 L649.09 84.16 L651.64 84.16 L651.64 82.48 L654.18 82.48 L654.18 81.36 L656.09 81.36 L656.09 80.32 L658 80.32 L658 78.56 L660.55 78.56 L660.55 78.96 L663.09 78.96 L663.09 78.82 L664.36 78.82 L664.36 80.73 L666.91 80.73 L666.91 80.09 L669.45 80.09 L669.45 81.57 L672 81.57 L672 82.64 L674.55 82.64 L674.55 83.77 L677.09 83.77 L677.09 84.16 L679.64 84.16 L679.64 84.4 L682.18 84.4 L682.18 84.16 L684.73 84.16 L684.73 81.75 L687.27 81.75 L687.27 81.67 L689.82 81.67 L689.82 80.94 L692.36 80.94 L692.36 80.73 L694.91 80.73 L694.91 78.56 L696.82 78.56 L696.82 78.81 L698.73 78.81 L698.73 78.18 L700.64 78.18 L700.64 77.83 L702.55 77.83 L702.55 76.65 L704.45 76.65 L704.45 76.92 L706.36 76.92 L706.36 77.8 L708.48 77.8 L708.48 77.31 L710.61 77.31 L710.61 76.55 L712.73 76.55 L712.73 75.64 L714.64 75.64 L714.64 76.68 L716.55 76.68 L716.55 77.8 L719.09 77.8 L719.09 77.16 L721.64 77.16 L721.64 78.02 L724.18 78.02 L724.18 78.82 L726.09 78.82 L726.09 78.3 L728 78.3 L728 77.8 L730.55 77.8 L730.55 79.71 L733.09 79.71 L733.09 80.6 L735.64 80.6 L735.64 80.73 L738.18 80.73 L738.18 80.09 L740.73 80.09 L740.73 81.05 L743.27 81.05 L743.27 82 L745.82 82 L745.82 80.98 L747.94 80.98 L747.94 81.92 L750.06 81.92 L750.06 82.12 L752.18 82.12 L752.18 82.89 L754.09 82.89 L754.09 82.79 L756 82.79 L756 82 L758.12 82 L758.12 82.57 L760.24 82.57 L760.24 82.39 L762.36 82.39 L762.36 82.64 L764.95 82.64 L764.95 83.46 L767.55 83.46 L767.55 84.16 L769.45 84.16 L769.45 84.73 L771.36 84.73 L771.36 84.55 L773.48 84.55 L773.48 85.51 L775.61 85.51 L775.61 86.06 L777.73 86.06 L777.73 86.84 L779.85 86.84 L779.85 86.59 L781.97 86.59 L781.97 86.68 L784.09 86.68 L784.09 86.84 L786 86.84 L786 86 L787.91 86 L787.91 84.8 L790.45 84.8 L790.45 85.56 L792.58 85.56 L792.58 84.71 L794.7 84.71 L794.7 84.83 L796.82 84.83 L796.82 83.91 L799.36 83.91 L799.36 84.55 L801.27 84.55 L801.27 83.51 L803.18 83.51 L803.18 82.89 L805.3 82.89 L805.3 82.54 L807.42 82.54 L807.42 81.28 L809.55 81.28 L809.55 80.73 L811.67 80.73 L811.67 81.86 L813.79 81.86 L813.79 82.36 L815.91 82.36 L815.91 82.89 L818.45 82.89 L818.45 81.49 L821 81.49 L821 80.09 L823.12 80.09 L823.12 79.13 L825.24 79.13 L825.24 78.28 L827.36 78.28 L827.36 77.16 L829.91 77.16 L829.91 77.12 L832.45 77.12 L832.45 76.91 L834.36 76.91 L834.36 77.19 L836.27 77.19 L836.27 77.8 L838.82 77.8 L838.82 76.91 L841.36 76.91 L841.36 77.28 L843.91 77.28 L843.91 78.18 L845.82 78.18 L845.82 77.68 L847.73 77.68 L847.73 77.16 L849.85 77.16 L849.85 77.77 L851.97 77.77 L851.97 77.7 L854.09 77.7 L854.09 77.8 L856.21 77.8 L856.21 77.21 L858.33 77.21 L858.33 77.66 L860.45 77.66 L860.45 77.16 L863 77.16 L863 77.69 L865.55 77.69 L865.55 77.8 L868.09 77.8 L868.09 77.4 L870.64 77.4 L870.64 76.27 L873.18 76.27 L873.18 75.68 L875.73 75.68 L875.73 75.64 L877.85 75.64 L877.85 75.94 L879.97 75.94 L879.97 75.41 L882.09 75.41 L882.09 75.89 L884.13 75.89 L884.13 75.43 L886.16 75.43 L886.16 74.5 L888.2 74.5 L888.2 74.11" fill="none" stroke="#f66d7f" stroke-width="1.7" stroke-linejoin="round" stroke-linecap="butt"/>
<path d="M509.64 71.82 L511.55 71.82 L511.55 73.73 L514.09 73.73 L514.09 73.81 L516.64 73.81 L516.64 74.36 L518.76 74.36 L518.76 74.83 L520.88 74.83 L520.88 75.1 L523 75.1 L523 75.64 L525.55 75.64 L525.55 75.41 L528.09 75.41 L528.09 75 L530.64 75 L530.64 75.56 L533.18 75.56 L533.18 75.89 L535.3 75.89 L535.3 75.08 L537.42 75.08 L537.42 74.6 L539.55 74.6 L539.55 74.62 L541.67 74.62 L541.67 74.5 L543.79 74.5 L543.79 73.55 L545.91 73.55 L545.91 73.35 L548.45 73.35 L548.45 73.74 L551 73.74 L551 74.62 L553.55 74.62 L553.55 76.85 L556.09 76.85 L556.09 78.18 L558.64 78.18 L558.64 78.92 L561.18 78.92 L561.18 79.71 L563.09 79.71 L563.09 80.52 L565 80.52 L565 80.73 L567.12 80.73 L567.12 80.28 L569.24 80.28 L569.24 80 L571.36 80 L571.36 79.45 L573.48 79.45 L573.48 79.14 L575.61 79.14 L575.61 79.58 L577.73 79.58 L577.73 79.45 L580.27 79.45 L580.27 78.51 L582.82 78.51 L582.82 76.91 L584.73 76.91 L584.73 75.66 L586.64 75.66 L586.64 74.36 L589.18 74.36 L589.18 73.82 L591.73 73.82 L591.73 72.84 L594.27 72.84 L594.27 72.61 L596.82 72.61 L596.82 72.07 L598.94 72.07 L598.94 71.81 L601.06 71.81 L601.06 72.56 L603.18 72.56 L603.18 72.45 L605.3 72.45 L605.3 71.77 L607.42 71.77 L607.42 70.75 L609.55 70.75 L609.55 70.16 L611.45 70.16 L611.45 70.57 L613.36 70.57 L613.36 71.82 L615.91 71.82 L615.91 72.78 L618.45 72.78 L618.45 73.09 L620.58 73.09 L620.58 72.85 L622.7 72.85 L622.7 72.86 L624.82 72.86 L624.82 72.45 L627.36 72.45 L627.36 70.93 L629.95 70.93 L629.95 71.71 L632.55 71.71 L632.55 71.82 L635.09 71.82 L635.09 72.01 L637.64 72.01 L637.64 71.82 L640.18 71.82 L640.18 70.55 L642.73 70.55 L642.73 71.56 L645.27 71.56 L645.27 71.82 L647.82 71.82 L647.82 71.72 L650.36 71.72 L650.36 71.82 L652.91 71.82 L652.91 73.73 L655.45 73.73 L655.45 74 L658 74 L658 73.73 L660.55 73.73 L660.55 71.82 L663.09 71.82 L663.09 71.64 L665.64 71.64 L665.64 71.56 L668.18 71.56 L668.18 72.85 L670.73 72.85 L670.73 73.35 L672.64 73.35 L672.64 72.92 L674.55 72.92 L674.55 71.82 L676.67 71.82 L676.67 71.54 L678.79 71.54 L678.79 71.66 L680.91 71.66 L680.91 72.07 L683.45 72.07 L683.45 71.44 L686 71.44 L686 71.73 L688.55 71.73 L688.55 70.93 L691.09 70.93 L691.09 71.63 L693.64 71.63 L693.64 72.45 L696.18 72.45 L696.18 72.76 L698.73 72.76 L698.73 72.84 L700.64 72.84 L700.64 73.74 L702.55 73.74 L702.55 75 L704.45 75 L704.45 73.54 L706.36 73.54 L706.36 72.07 L708.91 72.07 L708.91 72.61 L711.45 72.61 L711.45 73.35 L714 73.35 L714 73.4 L716.55 73.4 L716.55 73.73 L719.09 73.73 L719.09 71.56 L721 71.56 L721 71.77 L722.91 71.77 L722.91 71.82 L724.82 71.82 L724.82 73.04 L726.73 73.04 L726.73 74.11 L728.64 74.11 L728.64 73.01 L730.55 73.01 L730.55 71.18 L732.67 71.18 L732.67 70.5 L734.79 70.5 L734.79 69.87 L736.91 69.87 L736.91 68.64 L739.45 68.64 L739.45 68.75 L742 68.75 L742 68.65 L744.55 68.65 L744.55 68 L747.09 68 L747.09 67.84 L749.64 67.84 L749.64 67.36 L751.76 67.36 L751.76 66.55 L753.88 66.55 L753.88 66.67 L756 66.67 L756 65.84 L758.12 65.84 L758.12 66.76 L760.24 66.76 L760.24 67.22 L762.36 67.22 L762.36 67.36 L764.95 67.36 L764.95 66.79 L767.55 66.79 L767.55 66.09 L770.09 66.09 L770.09 66.28 L772.64 66.28 L772.64 66.09 L775.18 66.09 L775.18 66.98 L777.73 66.98 L777.73 66.72 L780.27 66.72 L780.27 66.98 L782.82 66.98 L782.82 65.84 L785.36 65.84 L785.36 67.22 L787.91 67.22 L787.91 68 L790.45 68 L790.45 67.75 L793 67.75 L793 67.36 L795.55 67.36 L795.55 68.64 L797.45 68.64 L797.45 67.17 L799.36 67.17 L799.36 66.09 L801.27 66.09 L801.27 66.14 L803.18 66.14 L803.18 66.98 L805.73 66.98 L805.73 67.49 L808.27 67.49 L808.27 67.36 L810.82 67.36 L810.82 68.12 L813.36 68.12 L813.36 68 L815.91 68 L815.91 67.95 L818.45 67.95 L818.45 68.64 L821 68.64 L821 70.5 L823.55 70.5 L823.55 71.82 L825.45 71.82 L825.45 70.34 L827.36 70.34 L827.36 69.02 L829.27 69.02 L829.27 69.28 L831.18 69.28 L831.18 70.16 L833.3 70.16 L833.3 69.47 L835.42 69.47 L835.42 69.39 L837.55 69.39 L837.55 68.64 L839.45 68.64 L839.45 70.44 L841.36 70.44 L841.36 71.56 L843.27 71.56 L843.27 70.84 L845.18 70.84 L845.18 70.93 L847.09 70.93 L847.09 71.48 L849 71.48 L849 71.82 L851.55 71.82 L851.55 69.91 L853.45 69.91 L853.45 70.77 L855.36 70.77 L855.36 72.45 L857.91 72.45 L857.91 73.48 L860.45 73.48 L860.45 74.11 L862.58 74.11 L862.58 73.96 L864.7 73.96 L864.7 74.45 L866.82 74.45 L866.82 74.11 L869.36 74.11 L869.36 72.45 L871.48 72.45 L871.48 73.44 L873.61 73.44 L873.61 73.56 L875.73 73.56 L875.73 74.11 L877.64 74.11 L877.64 75 L879.55 75 L879.55 75 L881.67 75 L881.67 74.83 L883.79 74.83 L883.79 74.62 L885.91 74.62 L885.91 75 L888.2 75 L888.2 73.09" fill="none" stroke="#fac364" stroke-width="1.7" stroke-linejoin="round" stroke-linecap="butt"/>
<path d="M510.27 73.35 L512.82 73.35 L512.82 72.66 L515.36 72.66 L515.36 72.45 L517.91 72.45 L517.91 72.92 L520.45 72.92 L520.45 74.11 L522.58 74.11 L522.58 73.89 L524.7 73.89 L524.7 73.54 L526.82 73.54 L526.82 73.73 L528.94 73.73 L528.94 73.63 L531.06 73.63 L531.06 74.23 L533.18 74.23 L533.18 74.62 L535.73 74.62 L535.73 74.36 L538.27 74.36 L538.27 73.35 L540.82 73.35 L540.82 72.68 L543.36 72.68 L543.36 71.72 L545.91 71.72 L545.91 70.55 L548.45 70.55 L548.45 69.34 L551 69.34 L551 68.64 L553.55 68.64 L553.55 67.4 L556.09 67.4 L556.09 66.09 L558.32 66.09 L558.32 64.74 L560.55 64.74 L560.55 63.8 L562.45 63.8 L562.45 64.33 L564.36 64.33 L564.36 65.45 L567.55 65.45 L567.55 64.82 L570.09 64.82 L570.09 65.42 L572.64 65.42 L572.64 66.73 L574.76 66.73 L574.76 66.34 L576.88 66.34 L576.88 66.86 L579 66.86 L579 66.35 L581.55 66.35 L581.55 66.96 L584.09 66.96 L584.09 66.98 L586.64 66.98 L586.64 67.26 L589.18 67.26 L589.18 67.25 L591.73 67.25 L591.73 66.98 L594.27 66.98 L594.27 65.84 L596.18 65.84 L596.18 65.82 L598.09 65.82 L598.09 66.35 L600.64 66.35 L600.64 67.62 L602.76 67.62 L602.76 66.94 L604.88 66.94 L604.88 66.71 L607 66.71 L607 66.09 L609.55 66.09 L609.55 66.73 L611.45 66.73 L611.45 65.54 L613.36 65.54 L613.36 63.93 L615.59 63.93 L615.59 63.74 L617.82 63.74 L617.82 62.91 L620.05 62.91 L620.05 63.89 L622.27 63.89 L622.27 64.18 L624.18 64.18 L624.18 63.62 L626.09 63.62 L626.09 63.8 L628 63.8 L628 64.96 L629.91 64.96 L629.91 66.08 L631.82 66.08 L631.82 66.98 L635.09 66.98 L635.09 65.45 L637.64 65.45 L637.64 64.82 L640.82 64.82 L640.82 66.98 L643.05 66.98 L643.05 65.59 L645.27 65.59 L645.27 64.18 L647.18 64.18 L647.18 62.75 L649.09 62.75 L649.09 61.89 L651.21 61.89 L651.21 61.78 L653.33 61.78 L653.33 61.35 L655.45 61.35 L655.45 61.64 L657.36 61.64 L657.36 62.98 L659.27 62.98 L659.27 63.55 L661.82 63.55 L661.82 64 L664.36 64 L664.36 63.8 L666.48 63.8 L666.48 63.21 L668.61 63.21 L668.61 62.35 L670.73 62.35 L670.73 61.89 L672.64 61.89 L672.64 62.77 L674.55 62.77 L674.55 62.91 L677.09 62.91 L677.09 62.97 L679.64 62.97 L679.64 63.25 L682.18 63.25 L682.18 62.91 L684.09 62.91 L684.09 64.18 L686 64.18 L686 64.82 L688.12 64.82 L688.12 65.76 L690.24 65.76 L690.24 66.61 L692.36 66.61 L692.36 67.62 L694.91 67.62 L694.91 67.26 L697.45 67.26 L697.45 66.73 L699.68 66.73 L699.68 66.73 L701.91 66.73 L701.91 66.55 L704.14 66.55 L704.14 66.74 L706.36 66.74 L706.36 66.98 L708.91 66.98 L708.91 67.58 L711.45 67.58 L711.45 67.62 L713.68 67.62 L713.68 66.32 L715.91 66.32 L715.91 65.84 L718.45 65.84 L718.45 66.51 L721 66.51 L721 68 L722.91 68 L722.91 67.05 L724.82 67.05 L724.82 65.68 L726.73 65.68 L726.73 64.82 L729.27 64.82 L729.27 65.04 L731.82 65.04 L731.82 65.2 L733.94 65.2 L733.94 65.39 L736.06 65.39 L736.06 65.48 L738.18 65.48 L738.18 65.84 L740.09 65.84 L740.09 66.73 L742 66.73 L742 66.73 L745.18 66.73 L745.18 65.84 L747.52 65.84 L747.52 66.5 L749.85 66.5 L749.85 67.62 L752.18 67.62 L752.18 68.64 L754.73 68.64 L754.73 67.86 L757.27 67.86 L757.27 67.62 L759.82 67.62 L759.82 68.44 L762.36 68.44 L762.36 69.02 L764.95 69.02 L764.95 70.03 L767.55 70.03 L767.55 71.44 L770.09 71.44 L770.09 71.05 L772.64 71.05 L772.64 70.93 L775.18 70.93 L775.18 70.96 L777.73 70.96 L777.73 70.55 L779.85 70.55 L779.85 71.44 L781.97 71.44 L781.97 72.72 L784.09 72.72 L784.09 73.73 L786.21 73.73 L786.21 74.09 L788.33 74.09 L788.33 73.37 L790.45 73.37 L790.45 73.73 L793 73.73 L793 74.92 L795.55 74.92 L795.55 76.91 L798.09 76.91 L798.09 76.27 L800.64 76.27 L800.64 77.3 L803.18 77.3 L803.18 78.82 L805.3 78.82 L805.3 79.06 L807.42 79.06 L807.42 78.92 L809.55 78.92 L809.55 78.82 L811.67 78.82 L811.67 78.03 L813.79 78.03 L813.79 77.56 L815.91 77.56 L815.91 77.16 L817.82 77.16 L817.82 76.87 L819.73 76.87 L819.73 77.16 L822.27 77.16 L822.27 77.98 L824.82 77.98 L824.82 78.45 L827.36 78.45 L827.36 79.71 L829.91 79.71 L829.91 79.89 L832.45 79.89 L832.45 79.71 L834.36 79.71 L834.36 78.18 L836.27 78.18 L836.27 79.71 L838.82 79.71 L838.82 79.94 L841.36 79.94 L841.36 79.45 L843.27 79.45 L843.27 78.72 L845.18 78.72 L845.18 77.16 L847.09 77.16 L847.09 77.25 L849 77.25 L849 76.91 L851.55 76.91 L851.55 77.77 L854.09 77.77 L854.09 77.8 L856.64 77.8 L856.64 76.28 L859.18 76.28 L859.18 75.64 L861.73 75.64 L861.73 76.27 L864.27 76.27 L864.27 74.81 L866.82 74.81 L866.82 73.73 L869.36 73.73 L869.36 75.38 L871.48 75.38 L871.48 75.04 L873.61 75.04 L873.61 74.1 L875.73 74.1 L875.73 73.09 L877.85 73.09 L877.85 73.22 L879.97 73.22 L879.97 73.91 L882.09 73.91 L882.09 73.73 L884.13 73.73 L884.13 73.62 L886.16 73.62 L886.16 73.59 L888.2 73.59 L888.2 73.09" fill="none" stroke="#7c2695" stroke-width="1.7" stroke-linejoin="round" stroke-linecap="butt"/>
<line x1="510.5" y1="251.2" x2="510.5" y2="255.6" stroke="#4a4a4a" stroke-width="0.95"/>
<text transform="translate(509.7,270.7) scale(1,1.09)" font-size="14.6" text-anchor="middle" fill="#262626">0.0</text>
<line x1="586.1" y1="251.2" x2="586.1" y2="255.6" stroke="#4a4a4a" stroke-width="0.95"/>
<text transform="translate(585.3,270.7) scale(1,1.09)" font-size="14.6" text-anchor="middle" fill="#262626">0.2</text>
<line x1="661.7" y1="251.2" x2="661.7" y2="255.6" stroke="#4a4a4a" stroke-width="0.95"/>
<text transform="translate(660.9,270.7) scale(1,1.09)" font-size="14.6" text-anchor="middle" fill="#262626">0.4</text>
<line x1="737.3" y1="251.2" x2="737.3" y2="255.6" stroke="#4a4a4a" stroke-width="0.95"/>
<text transform="translate(736.5,270.7) scale(1,1.09)" font-size="14.6" text-anchor="middle" fill="#262626">0.6</text>
<line x1="812.9" y1="251.2" x2="812.9" y2="255.6" stroke="#4a4a4a" stroke-width="0.95"/>
<text transform="translate(812.1,270.7) scale(1,1.09)" font-size="14.6" text-anchor="middle" fill="#262626">0.8</text>
<line x1="888.5" y1="251.2" x2="888.5" y2="255.6" stroke="#4a4a4a" stroke-width="0.95"/>
<text transform="translate(887.7,270.7) scale(1,1.09)" font-size="14.6" text-anchor="middle" fill="#262626">1.0</text>
<ellipse cx="699.5" cy="221.8" rx="189" ry="26.73" fill="#e6e6e6"/>
<path d="M510.27 220.84 L512.18 220.84 L512.18 219.31 L514.09 219.31 L514.09 218.55 L516.21 218.55 L516.21 218.71 L518.33 218.71 L518.33 219.22 L520.45 219.22 L520.45 219.82 L523 219.82 L523 220.18 L525.55 220.18 L525.55 219.81 L528.09 219.81 L528.09 219.82 L530.64 219.82 L530.64 219.06 L533.18 219.06 L533.18 217.91 L535.09 217.91 L535.09 218.5 L537 218.5 L537 219.82 L539.12 219.82 L539.12 219.53 L541.24 219.53 L541.24 219.53 L543.36 219.53 L543.36 218.93 L545.91 218.93 L545.91 218.95 L548.45 218.95 L548.45 218.93 L551 218.93 L551 216.64 L553.55 216.64 L553.55 217.02 L555.45 217.02 L555.45 218.18 L557.36 218.18 L557.36 218.55 L559.27 218.55 L559.27 217.49 L561.18 217.49 L561.18 215.75 L563.73 215.75 L563.73 215.63 L566.27 215.63 L566.27 215.3 L568.82 215.3 L568.82 215.75 L571.36 215.75 L571.36 216.42 L573.91 216.42 L573.91 216.64 L576.45 216.64 L576.45 215.85 L579 215.85 L579 215.75 L581.55 215.75 L581.55 215.39 L584.09 215.39 L584.09 216.12 L586.64 216.12 L586.64 216 L589.18 216 L589.18 216.82 L591.73 216.82 L591.73 217.02 L594.27 217.02 L594.27 216.77 L596.82 216.77 L596.82 216.32 L599.36 216.32 L599.36 215.36 L601.91 215.36 L601.91 215.41 L604.45 215.41 L604.45 216 L607 216 L607 217.21 L609.55 217.21 L609.55 219.18 L612.09 219.18 L612.09 220.3 L614.64 220.3 L614.64 222.11 L617.18 222.11 L617.18 223.43 L619.73 223.43 L619.73 223.89 L621.64 223.89 L621.64 222.46 L623.55 222.46 L623.55 221.73 L626.09 221.73 L626.09 220.78 L628.64 220.78 L628.64 220.45 L631.23 220.45 L631.23 219.07 L633.82 219.07 L633.82 218.55 L635.73 218.55 L635.73 219.29 L637.64 219.29 L637.64 220.84 L639.55 220.84 L639.55 221.06 L641.45 221.06 L641.45 222.11 L644 222.11 L644 221.79 L646.55 221.79 L646.55 221.73 L649.09 221.73 L649.09 219.83 L651.64 219.83 L651.64 218.55 L653.76 218.55 L653.76 217.87 L655.88 217.87 L655.88 217.91 L658 217.91 L658 217.02 L660.55 217.02 L660.55 215.96 L663.09 215.96 L663.09 215.77 L665.64 215.77 L665.64 214.73 L668.18 214.73 L668.18 214.5 L670.73 214.5 L670.73 213.84 L673.27 213.84 L673.27 214.73 L675.82 214.73 L675.82 213.84 L678.36 213.84 L678.36 214.66 L680.91 214.66 L680.91 215.36 L683.45 215.36 L683.45 217.02 L686 217.02 L686 215.94 L688.55 215.94 L688.55 214.73 L691.09 214.73 L691.09 213.7 L693.64 213.7 L693.64 212.18 L695.55 212.18 L695.55 212.58 L697.45 212.58 L697.45 212.82 L700 212.82 L700 212.07 L702.55 212.07 L702.55 211.8 L705.09 211.8 L705.09 212.16 L707.64 212.16 L707.64 212.82 L709.55 212.82 L709.55 211.95 L711.45 211.95 L711.45 211.55 L713.58 211.55 L713.58 212.22 L715.7 212.22 L715.7 213.51 L717.82 213.51 L717.82 213.84 L719.73 213.84 L719.73 212.5 L721.64 212.5 L721.64 211.29 L724.18 211.29 L724.18 209.63 L726.73 209.63 L726.73 208.75 L729.27 208.75 L729.27 208.53 L731.82 208.53 L731.82 208.36 L733.73 208.36 L733.73 210.24 L735.64 210.24 L735.64 211.55 L737.55 211.55 L737.55 211.37 L739.45 211.37 L739.45 211.29 L742 211.29 L742 208.75 L744.29 208.75 L744.29 208.85 L746.58 208.85 L746.58 208.22 L748.87 208.22 L748.87 208.12 L751.16 208.12 L751.16 208.59 L753.45 208.59 L753.45 208.36 L755.36 208.36 L755.36 207.64 L757.27 207.64 L757.27 207.73 L759.52 207.73 L759.52 207.61 L761.77 207.61 L761.77 207.75 L764.02 207.75 L764.02 207.64 L766.27 207.64 L766.27 207.98 L768.82 207.98 L768.82 208.11 L771.36 208.11 L771.36 206.84 L773.27 206.84 L773.27 207.82 L775.18 207.82 L775.18 209.64 L777.09 209.64 L777.09 209.83 L779 209.83 L779 210.91 L781.55 210.91 L781.55 210.02 L783.67 210.02 L783.67 210.72 L785.79 210.72 L785.79 210.78 L787.91 210.78 L787.91 210.91 L789.82 210.91 L789.82 212.46 L791.73 212.46 L791.73 213.2 L794.27 213.2 L794.27 212.82 L796.18 212.82 L796.18 213.45 L798.09 213.45 L798.09 214.09 L800 214.09 L800 214.82 L801.91 214.82 L801.91 214.73 L803.82 214.73 L803.82 216.33 L805.73 216.33 L805.73 217.27 L808.27 217.27 L808.27 217.38 L810.82 217.38 L810.82 217.27 L813.36 217.27 L813.36 216.98 L815.91 216.98 L815.91 216.64 L818.45 216.64 L818.45 217.6 L821 217.6 L821 218.55 L823.55 218.55 L823.55 218.49 L826.09 218.49 L826.09 218.93 L828.64 218.93 L828.64 218.82 L831.18 218.82 L831.18 219.13 L833.73 219.13 L833.73 218.93 L836.27 218.93 L836.27 218.95 L838.82 218.95 L838.82 219.84 L841.36 219.84 L841.36 219.82 L843.91 219.82 L843.91 219.83 L846.45 219.83 L846.45 219.91 L849 219.91 L849 219.82 L851.55 219.82 L851.55 220.11 L854.09 220.11 L854.09 219.82 L856.64 219.82 L856.64 220.71 L859.18 220.71 L859.18 221.02 L861.73 221.02 L861.73 222.11 L864.27 222.11 L864.27 221.88 L866.82 221.88 L866.82 221.66 L869.36 221.66 L869.36 222.11 L871.91 222.11 L871.91 221.56 L874.45 221.56 L874.45 222.26 L877 222.26 L877 221.73 L879.24 221.73 L879.24 221.73 L881.48 221.73 L881.48 222 L883.72 222 L883.72 221.75 L885.96 221.75 L885.96 221.26 L888.2 221.26 L888.2 221.35" fill="none" stroke="#36acc6" stroke-width="1.7" stroke-linejoin="round" stroke-linecap="butt"/>
<path d="M510.27 220.84 L512.18 220.84 L512.18 222.43 L514.09 222.43 L514.09 223.89 L516.21 223.89 L516.21 224.65 L518.33 224.65 L518.33 225.45 L520.45 225.45 L520.45 225.8 L522.36 225.8 L522.36 225.6 L524.27 225.6 L524.27 225.8 L526.18 225.8 L526.18 227.08 L528.09 227.08 L528.09 228.09 L530.64 228.09 L530.64 229.72 L533.18 229.72 L533.18 230.64 L535.73 230.64 L535.73 231.64 L538.27 231.64 L538.27 231.91 L540.82 231.91 L540.82 231.75 L543.36 231.75 L543.36 232.3 L545.91 232.3 L545.91 232.29 L548.45 232.29 L548.45 233.16 L551 233.16 L551 233.82 L553.55 233.82 L553.55 233.5 L556.09 233.5 L556.09 233.18 L558.64 233.18 L558.64 234.24 L561.18 234.24 L561.18 234.45 L563.09 234.45 L563.09 234.48 L565 234.48 L565 234.45 L567.55 234.45 L567.55 232.93 L569.45 232.93 L569.45 233.01 L571.36 233.01 L571.36 233.18 L574.55 233.18 L574.55 231.02 L576.45 231.02 L576.45 232.8 L579 232.8 L579 232.94 L581.55 232.94 L581.55 232.29 L583.45 232.29 L583.45 232.22 L585.36 232.22 L585.36 231.91 L588.55 231.91 L588.55 229.75 L591.73 229.75 L591.73 230.38 L594.27 230.38 L594.27 231.28 L596.82 231.28 L596.82 232.55 L598.73 232.55 L598.73 233.01 L600.64 233.01 L600.64 233.82 L603.18 233.82 L603.18 233.18 L605.73 233.18 L605.73 232.55 L607.64 232.55 L607.64 230.23 L609.55 230.23 L609.55 228.73 L612.09 228.73 L612.09 228.61 L614.64 228.61 L614.64 228.52 L617.18 228.52 L617.18 228.09 L619.73 228.09 L619.73 228.85 L622.27 228.85 L622.27 229.75 L624.82 229.75 L624.82 230.5 L627.36 230.5 L627.36 230.64 L629.91 230.64 L629.91 231.65 L631.86 231.65 L631.86 231.09 L633.82 231.09 L633.82 229.75 L635.73 229.75 L635.73 230.37 L637.64 230.37 L637.64 230.89 L640.18 230.89 L640.18 229.46 L642.73 229.46 L642.73 227.71 L644.85 227.71 L644.85 227.79 L646.97 227.79 L646.97 228.16 L649.09 228.16 L649.09 228.98 L651.21 228.98 L651.21 228.61 L653.33 228.61 L653.33 227.18 L655.45 227.18 L655.45 226.56 L657.36 226.56 L657.36 226.62 L659.27 226.62 L659.27 227.2 L661.18 227.2 L661.18 228.45 L663.09 228.45 L663.09 228.98 L665 228.98 L665 227.49 L666.91 227.49 L666.91 225.55 L668.82 225.55 L668.82 224.76 L670.73 224.76 L670.73 224.65 L673.27 224.65 L673.27 225.26 L675.82 225.26 L675.82 226.18 L678.36 226.18 L678.36 225.44 L680.91 225.44 L680.91 225.16 L683.45 225.16 L683.45 224.51 L686 224.51 L686 224.27 L688.12 224.27 L688.12 224.8 L690.24 224.8 L690.24 226.25 L692.36 226.25 L692.36 227.2 L694.91 227.2 L694.91 227.15 L697.45 227.15 L697.45 227.45 L699.36 227.45 L699.36 228.12 L701.27 228.12 L701.27 228.98 L703.82 228.98 L703.82 227.62 L706.36 227.62 L706.36 226.82 L708.27 226.82 L708.27 225.07 L710.18 225.07 L710.18 224.02 L712.09 224.02 L712.09 224.04 L714 224.04 L714 224.91 L716.55 224.91 L716.55 225.56 L719.09 225.56 L719.09 225.55 L721.64 225.55 L721.64 226.09 L724.18 226.09 L724.18 226.18 L726.09 226.18 L726.09 226.04 L728 226.04 L728 225.8 L730.55 225.8 L730.55 225.97 L733.09 225.97 L733.09 226.82 L735.64 226.82 L735.64 225.1 L738.18 225.1 L738.18 224.02 L740.3 224.02 L740.3 223.68 L742.42 223.68 L742.42 223.85 L744.55 223.85 L744.55 224.02 L747.09 224.02 L747.09 223.07 L749.64 223.07 L749.64 222.71 L752.18 222.71 L752.18 222.36 L754.73 222.36 L754.73 222.92 L757.27 222.92 L757.27 224.02 L759.18 224.02 L759.18 224.63 L761.09 224.63 L761.09 225.8 L763.68 225.8 L763.68 225.17 L766.27 225.17 L766.27 224.27 L768.18 224.27 L768.18 223.15 L770.09 223.15 L770.09 222.11 L772.64 222.11 L772.64 221.45 L775.18 221.45 L775.18 220.84 L777.73 220.84 L777.73 221.79 L780.27 221.79 L780.27 223 L782.18 223 L782.18 223.99 L784.09 223.99 L784.09 224.91 L786 224.91 L786 224.53 L787.91 224.53 L787.91 223.64 L790.45 223.64 L790.45 222.7 L793 222.7 L793 222.11 L795.55 222.11 L795.55 221.72 L798.09 221.72 L798.09 222.11 L800.64 222.11 L800.64 221.46 L803.18 221.46 L803.18 220.84 L805.09 220.84 L805.09 219.77 L807 219.77 L807 218.93 L809.55 218.93 L809.55 220.9 L812.09 220.9 L812.09 222.36 L814.64 222.36 L814.64 221.25 L817.18 221.25 L817.18 220.84 L819.73 220.84 L819.73 221.43 L822.27 221.43 L822.27 221.35 L824.82 221.35 L824.82 220.46 L827.36 220.46 L827.36 220.45 L829.27 220.45 L829.27 219.73 L831.18 219.73 L831.18 218.93 L833.73 218.93 L833.73 218.88 L836.27 218.88 L836.27 218.93 L838.82 218.93 L838.82 219.52 L841.36 219.52 L841.36 220.45 L843.48 220.45 L843.48 220.59 L845.61 220.59 L845.61 220.21 L847.73 220.21 L847.73 219.82 L849.85 219.82 L849.85 219.85 L851.97 219.85 L851.97 220.49 L854.09 220.49 L854.09 220.84 L856.21 220.84 L856.21 220.94 L858.33 220.94 L858.33 220.42 L860.45 220.42 L860.45 220.84 L862.58 220.84 L862.58 220.13 L864.7 220.13 L864.7 220.25 L866.82 220.25 L866.82 219.82 L868.94 219.82 L868.94 220.36 L871.06 220.36 L871.06 220.46 L873.18 220.46 L873.18 220.84 L875.3 220.84 L875.3 220.77 L877.42 220.77 L877.42 220.84 L879.55 220.84 L879.55 220.84 L881.71 220.84 L881.71 220.75 L883.87 220.75 L883.87 221.43 L886.04 221.43 L886.04 221.63 L888.2 221.63 L888.2 221.35" fill="none" stroke="#f66d7f" stroke-width="1.7" stroke-linejoin="round" stroke-linecap="butt"/>
<path d="M510.27 220.84 L512.82 220.84 L512.82 221.03 L515.36 221.03 L515.36 221.25 L517.91 221.25 L517.91 221.35 L520.45 221.35 L520.45 220.25 L523 220.25 L523 218.55 L525.55 218.55 L525.55 217.31 L528.09 217.31 L528.09 215.36 L530.64 215.36 L530.64 215.07 L533.18 215.07 L533.18 214.09 L535.73 214.09 L535.73 213.97 L538.27 213.97 L538.27 214.09 L540.82 214.09 L540.82 215.45 L543.36 215.45 L543.36 216 L545.91 216 L545.91 214.34 L548.45 214.34 L548.45 212.82 L550.36 212.82 L550.36 213.15 L552.27 213.15 L552.27 213.84 L554.82 213.84 L554.82 212.82 L556.94 212.82 L556.94 213.09 L559.06 213.09 L559.06 214.1 L561.18 214.1 L561.18 214.73 L563.73 214.73 L563.73 214.73 L566.27 214.73 L566.27 215.36 L568.82 215.36 L568.82 214.97 L571.36 214.97 L571.36 214.98 L573.91 214.98 L573.91 214.64 L576.45 214.64 L576.45 214.09 L579 214.09 L579 214.98 L581.55 214.98 L581.55 215.36 L584.09 215.36 L584.09 215.91 L586.64 215.91 L586.64 216 L589.18 216 L589.18 216.14 L591.73 216.14 L591.73 217.02 L594.27 217.02 L594.27 215.92 L596.82 215.92 L596.82 215.62 L599.36 215.62 L599.36 215.53 L601.91 215.53 L601.91 215.92 L604.45 215.92 L604.45 216 L607 216 L607 217.26 L609.55 217.26 L609.55 217.91 L612.09 217.91 L612.09 218.18 L614.64 218.18 L614.64 217.91 L617.18 217.91 L617.18 218.11 L619.73 218.11 L619.73 217.53 L621.64 217.53 L621.64 218.43 L623.55 218.43 L623.55 219.18 L625.67 219.18 L625.67 218.67 L627.79 218.67 L627.79 217.72 L629.91 217.72 L629.91 217.27 L631.86 217.27 L631.86 217.42 L633.82 217.42 L633.82 217.91 L635.73 217.91 L635.73 217.01 L637.64 217.01 L637.64 216.64 L639.55 216.64 L639.55 216.48 L641.45 216.48 L641.45 216.25 L643.36 216.25 L643.36 217.18 L645.27 217.18 L645.27 217.91 L647.82 217.91 L647.82 218.06 L650.36 218.06 L650.36 217.98 L652.91 217.98 L652.91 218.16 L655.03 218.16 L655.03 218.35 L657.15 218.35 L657.15 218.45 L659.27 218.45 L659.27 218.93 L661.18 218.93 L661.18 219.47 L663.09 219.47 L663.09 219.44 L665.64 219.44 L665.64 220.65 L668.18 220.65 L668.18 221.73 L670.73 221.73 L670.73 222.14 L673.27 222.14 L673.27 222.11 L675.82 222.11 L675.82 222.39 L678.36 222.39 L678.36 221.91 L680.91 221.91 L680.91 222.11 L682.82 222.11 L682.82 222.53 L684.73 222.53 L684.73 223.64 L687.27 223.64 L687.27 225.8 L689.18 225.8 L689.18 223.38 L691.09 223.38 L691.09 221.35 L693.21 221.35 L693.21 221.2 L695.33 221.2 L695.33 220.59 L697.45 220.59 L697.45 219.82 L699.58 219.82 L699.58 219.73 L701.7 219.73 L701.7 220.07 L703.82 220.07 L703.82 219.82 L706.36 219.82 L706.36 220.63 L708.91 220.63 L708.91 221.73 L710.82 221.73 L710.82 222.5 L712.73 222.5 L712.73 222.62 L715.27 222.62 L715.27 220.85 L717.82 220.85 L717.82 219.82 L720.36 219.82 L720.36 220.67 L722.91 220.67 L722.91 221.09 L725.45 221.09 L725.45 222.48 L728 222.48 L728 223 L729.91 223 L729.91 222.48 L731.82 222.48 L731.82 222.11 L734.36 222.11 L734.36 222.07 L736.91 222.07 L736.91 222.11 L739.45 222.11 L739.45 222.54 L742 222.54 L742 223.64 L744.55 223.64 L744.55 223.63 L747.09 223.63 L747.09 224.02 L749.64 224.02 L749.64 224.67 L752.18 224.67 L752.18 225.8 L754.73 225.8 L754.73 224.03 L757.27 224.03 L757.27 222.62 L759.82 222.62 L759.82 221.98 L762.36 221.98 L762.36 222.11 L764.32 222.11 L764.32 221.74 L766.27 221.74 L766.27 221.73 L768.82 221.73 L768.82 220.84 L770.94 220.84 L770.94 221.41 L773.06 221.41 L773.06 222.73 L775.18 222.73 L775.18 223.64 L777.09 223.64 L777.09 222.6 L779 222.6 L779 221.73 L781.12 221.73 L781.12 221.48 L783.24 221.48 L783.24 222.13 L785.36 222.13 L785.36 221.73 L787.91 221.73 L787.91 222.51 L790.45 222.51 L790.45 223.64 L793 223.64 L793 223.79 L795.55 223.79 L795.55 224.25 L798.09 224.25 L798.09 224.02 L800.64 224.02 L800.64 225.97 L803.18 225.97 L803.18 227.45 L805.73 227.45 L805.73 227.24 L808.27 227.24 L808.27 226.18 L810.82 226.18 L810.82 227.04 L813.36 227.04 L813.36 227.71 L815.27 227.71 L815.27 226.96 L817.18 226.96 L817.18 225.55 L819.73 225.55 L819.73 224.52 L822.27 224.52 L822.27 224.27 L824.82 224.27 L824.82 224.8 L827.36 224.8 L827.36 224.91 L829.27 224.91 L829.27 225.72 L831.18 225.72 L831.18 226.82 L833.09 226.82 L833.09 226.66 L835 226.66 L835 226.82 L837.55 226.82 L837.55 226.11 L840.09 226.11 L840.09 224.91 L842.64 224.91 L842.64 225.57 L845.18 225.57 L845.18 225.8 L847.09 225.8 L847.09 225.66 L849 225.66 L849 225.8 L851.55 225.8 L851.55 224.02 L853.58 224.02 L853.58 223.9 L855.62 223.9 L855.62 223.82 L857.65 223.82 L857.65 224.41 L859.69 224.41 L859.69 224.12 L861.73 224.12 L861.73 224.02 L864.27 224.02 L864.27 223.67 L866.82 223.67 L866.82 223.79 L869.36 223.79 L869.36 223.64 L871.48 223.64 L871.48 223.03 L873.61 223.03 L873.61 223 L875.73 223 L875.73 223 L877.64 223 L877.64 223.96 L879.55 223.96 L879.55 224.91 L881.45 224.91 L881.45 224.38 L883.36 224.38 L883.36 223 L885.78 223 L885.78 222.5 L888.2 222.5 L888.2 221.35" fill="none" stroke="#fac364" stroke-width="1.7" stroke-linejoin="round" stroke-linecap="butt"/>
<path d="M510.27 220.84 L512.82 220.84 L512.82 220.24 L515.36 220.24 L515.36 219.79 L517.91 219.79 L517.91 218.93 L520.45 218.93 L520.45 220.1 L523 220.1 L523 220.84 L524.91 220.84 L524.91 221.8 L526.82 221.8 L526.82 222.11 L528.73 222.11 L528.73 221.53 L530.64 221.53 L530.64 221.35 L533.18 221.35 L533.18 221.96 L535.73 221.96 L535.73 221.73 L538.27 221.73 L538.27 220.83 L540.82 220.83 L540.82 219.82 L543.36 219.82 L543.36 219.72 L545.91 219.72 L545.91 219.18 L547.82 219.18 L547.82 220.05 L549.73 220.05 L549.73 220.45 L551.85 220.45 L551.85 220.84 L553.97 220.84 L553.97 220.25 L556.09 220.25 L556.09 220.45 L558 220.45 L558 219.57 L559.91 219.57 L559.91 218.93 L561.82 218.93 L561.82 219.89 L563.73 219.89 L563.73 220.45 L566.27 220.45 L566.27 221.8 L568.82 221.8 L568.82 223 L571.36 223 L571.36 221.73 L573.27 221.73 L573.27 222.4 L575.18 222.4 L575.18 222.62 L577.41 222.62 L577.41 222.5 L579.64 222.5 L579.64 223.03 L581.86 223.03 L581.86 222.18 L584.09 222.18 L584.09 222.62 L586 222.62 L586 220.84 L588.55 220.84 L588.55 222.62 L591.73 222.62 L591.73 220.45 L593.85 220.45 L593.85 220.95 L595.97 220.95 L595.97 220.94 L598.09 220.94 L598.09 221.35 L600 221.35 L600 219.71 L601.91 219.71 L601.91 218.93 L604.45 218.93 L604.45 219.08 L607 219.08 L607 218.93 L608.91 218.93 L608.91 219.29 L610.82 219.29 L610.82 220.45 L612.73 220.45 L612.73 218.94 L614.64 218.94 L614.64 217.91 L616.55 217.91 L616.55 216.8 L618.45 216.8 L618.45 216 L621 216 L621 216.03 L623.55 216.03 L623.55 216.38 L626.09 216.38 L626.09 217.02 L629.27 217.02 L629.27 215.36 L631.55 215.36 L631.55 216.76 L633.82 216.76 L633.82 218.93 L636.36 218.93 L636.36 216 L638.91 216 L638.91 217.27 L641.45 217.27 L641.45 217.91 L644 217.91 L644 218.04 L646.55 218.04 L646.55 218.93 L649.09 218.93 L649.09 219.58 L651.64 219.58 L651.64 220.84 L654.18 220.84 L654.18 221.22 L656.73 221.22 L656.73 222.36 L659.27 222.36 L659.27 221.97 L661.82 221.97 L661.82 220.84 L663.94 220.84 L663.94 221.81 L666.06 221.81 L666.06 222.99 L668.18 222.99 L668.18 223.64 L670.3 223.64 L670.3 224.4 L672.42 224.4 L672.42 224.31 L674.55 224.31 L674.55 224.65 L676.67 224.65 L676.67 224.35 L678.79 224.35 L678.79 224.13 L680.91 224.13 L680.91 224.02 L683.03 224.02 L683.03 223.47 L685.15 223.47 L685.15 223.42 L687.27 223.42 L687.27 223 L689.18 223 L689.18 223.93 L691.09 223.93 L691.09 224.02 L693 224.02 L693 224.91 L694.91 224.91 L694.91 225.8 L697.45 225.8 L697.45 225.59 L700 225.59 L700 224.91 L702.55 224.91 L702.55 225.9 L705.09 225.9 L705.09 226.18 L707 226.18 L707 227.24 L708.91 227.24 L708.91 227.71 L711.45 227.71 L711.45 227.86 L714 227.86 L714 227.71 L716.55 227.71 L716.55 226.82 L719.09 226.82 L719.09 227.71 L721.64 227.71 L721.64 227.67 L724.18 227.67 L724.18 227.18 L726.73 227.18 L726.73 227.45 L728.64 227.45 L728.64 228.11 L730.55 228.11 L730.55 228.98 L733.09 228.98 L733.09 228.22 L735.64 228.22 L735.64 226.82 L737.76 226.82 L737.76 227.06 L739.88 227.06 L739.88 227.57 L742 227.57 L742 227.71 L744.55 227.71 L744.55 228.51 L747.09 228.51 L747.09 229.75 L749 229.75 L749 229.31 L750.91 229.31 L750.91 228.73 L753.03 228.73 L753.03 229.32 L755.15 229.32 L755.15 230.68 L757.27 230.68 L757.27 231.27 L759.18 231.27 L759.18 231.24 L761.09 231.24 L761.09 230.64 L763.68 230.64 L763.68 231.16 L766.27 231.16 L766.27 232.55 L768.82 232.55 L768.82 233.46 L771.36 233.46 L771.36 234.07 L773.91 234.07 L773.91 233.07 L776.45 233.07 L776.45 232.8 L779 232.8 L779 232.76 L781.55 232.76 L781.55 231.91 L783.45 231.91 L783.45 230.54 L785.36 230.54 L785.36 229.75 L787.27 229.75 L787.27 228.9 L789.18 228.9 L789.18 228.73 L791.09 228.73 L791.09 227.81 L793 227.81 L793 226.18 L795.55 226.18 L795.55 226.09 L798.09 226.09 L798.09 225.8 L800 225.8 L800 224.28 L801.91 224.28 L801.91 223.64 L804.45 223.64 L804.45 222.65 L807 222.65 L807 221.73 L809.55 221.73 L809.55 221.58 L812.09 221.58 L812.09 220.84 L814 220.84 L814 220.79 L815.91 220.79 L815.91 221.35 L817.82 221.35 L817.82 222.72 L819.73 222.72 L819.73 223.64 L822.27 223.64 L822.27 224.09 L824.82 224.09 L824.82 224.91 L826.73 224.91 L826.73 223.58 L828.64 223.58 L828.64 222.36 L831.18 222.36 L831.18 221.35 L833.73 221.35 L833.73 222.62 L836.27 222.62 L836.27 221.76 L838.82 221.76 L838.82 221.09 L841.36 221.09 L841.36 220.48 L843.91 220.48 L843.91 220.57 L846.45 220.57 L846.45 220.45 L849 220.45 L849 221.11 L851.55 221.11 L851.55 221.73 L854.09 221.73 L854.09 222.03 L856.64 222.03 L856.64 222.11 L859.18 222.11 L859.18 221.32 L861.73 221.32 L861.73 220.45 L864.27 220.45 L864.27 220.6 L866.82 220.6 L866.82 221.35 L869.36 221.35 L869.36 221.82 L871.91 221.82 L871.91 222.11 L874.45 222.11 L874.45 221.54 L877 221.54 L877 221.35 L879.12 221.35 L879.12 221.2 L881.24 221.2 L881.24 219.97 L883.36 219.97 L883.36 219.82 L885.78 219.82 L885.78 220.83 L888.2 220.83 L888.2 221.35" fill="none" stroke="#7c2695" stroke-width="1.7" stroke-linejoin="round" stroke-linecap="butt"/>
<line x1="510.5" y1="378.2" x2="510.5" y2="382.6" stroke="#4a4a4a" stroke-width="0.95"/>
<text transform="translate(509.7,397.7) scale(1,1.09)" font-size="14.6" text-anchor="middle" fill="#262626">0.0</text>
<line x1="586.1" y1="378.2" x2="586.1" y2="382.6" stroke="#4a4a4a" stroke-width="0.95"/>
<text transform="translate(585.3,397.7) scale(1,1.09)" font-size="14.6" text-anchor="middle" fill="#262626">0.2</text>
<line x1="661.7" y1="378.2" x2="661.7" y2="382.6" stroke="#4a4a4a" stroke-width="0.95"/>
<text transform="translate(660.9,397.7) scale(1,1.09)" font-size="14.6" text-anchor="middle" fill="#262626">0.4</text>
<line x1="737.3" y1="378.2" x2="737.3" y2="382.6" stroke="#4a4a4a" stroke-width="0.95"/>
<text transform="translate(736.5,397.7) scale(1,1.09)" font-size="14.6" text-anchor="middle" fill="#262626">0.6</text>
<line x1="812.9" y1="378.2" x2="812.9" y2="382.6" stroke="#4a4a4a" stroke-width="0.95"/>
<text transform="translate(812.1,397.7) scale(1,1.09)" font-size="14.6" text-anchor="middle" fill="#262626">0.8</text>
<line x1="888.5" y1="378.2" x2="888.5" y2="382.6" stroke="#4a4a4a" stroke-width="0.95"/>
<text transform="translate(887.7,397.7) scale(1,1.09)" font-size="14.6" text-anchor="middle" fill="#262626">1.0</text>
<ellipse cx="699.5" cy="348.7" rx="189" ry="26.82" fill="#e6e6e6"/>
<path d="M510.27 347.45 L512.39 347.45 L512.39 347.7 L514.52 347.7 L514.52 347.86 L516.64 347.86 L516.64 348.35 L519.18 348.35 L519.18 347.95 L521.73 347.95 L521.73 346.82 L523.64 346.82 L523.64 345.85 L525.55 345.85 L525.55 344.91 L528.09 344.91 L528.09 344.54 L530.64 344.54 L530.64 344.91 L533.18 344.91 L533.18 344.02 L535.73 344.02 L535.73 345.01 L538.27 345.01 L538.27 345.55 L540.18 345.55 L540.18 345.35 L542.09 345.35 L542.09 345.93 L544 345.93 L544 347.06 L545.91 347.06 L545.91 348.73 L547.82 348.73 L547.82 347.39 L549.73 347.39 L549.73 346.82 L552.27 346.82 L552.27 347.7 L554.82 347.7 L554.82 348.35 L557.36 348.35 L557.36 349.93 L559.91 349.93 L559.91 350.89 L562.45 350.89 L562.45 350.1 L565 350.1 L565 349.11 L567.55 349.11 L567.55 349.3 L570.09 349.3 L570.09 350 L572.64 350 L572.64 351.27 L575.18 351.27 L575.18 351.91 L577.09 351.91 L577.09 351.61 L579 351.61 L579 350.64 L581.55 350.64 L581.55 352.8 L584.09 352.8 L584.09 351.88 L586.64 351.88 L586.64 351.27 L589.18 351.27 L589.18 350.75 L591.73 350.75 L591.73 350.64 L594.27 350.64 L594.27 349.84 L596.82 349.84 L596.82 348.73 L599.36 348.73 L599.36 349.6 L601.91 349.6 L601.91 349.62 L604.45 349.62 L604.45 350.69 L607 350.69 L607 351.02 L608.91 351.02 L608.91 351.8 L610.82 351.8 L610.82 351.91 L612.73 351.91 L612.73 351.15 L614.64 351.15 L614.64 350 L617.18 350 L617.18 350.71 L619.73 350.71 L619.73 351.91 L622.27 351.91 L622.27 352.65 L624.82 352.65 L624.82 353.12 L627.36 353.12 L627.36 353.82 L629.32 353.82 L629.32 353.82 L631.27 353.82 L631.27 353.56 L633.39 353.56 L633.39 353.55 L635.52 353.55 L635.52 353.3 L637.64 353.3 L637.64 353.56 L639.76 353.56 L639.76 353.46 L641.88 353.46 L641.88 352.21 L644 352.21 L644 352.16 L646.55 352.16 L646.55 352.53 L649.09 352.53 L649.09 353.18 L651 353.18 L651 353.79 L652.91 353.79 L652.91 354.71 L655.03 354.71 L655.03 355.13 L657.15 355.13 L657.15 354.36 L659.27 354.36 L659.27 354.71 L661.18 354.71 L661.18 354.21 L663.09 354.21 L663.09 353.56 L665.21 353.56 L665.21 354.6 L667.33 354.6 L667.33 354.94 L669.45 354.94 L669.45 355.47 L671.68 355.47 L671.68 355.98 L673.91 355.98 L673.91 355.63 L676.14 355.63 L676.14 355.8 L678.36 355.8 L678.36 355.98 L680.27 355.98 L680.27 356.37 L682.18 356.37 L682.18 357 L684.73 357 L684.73 356.56 L687.27 356.56 L687.27 356.36 L689.18 356.36 L689.18 354.95 L691.09 354.95 L691.09 353.82 L693 353.82 L693 353.88 L694.91 353.88 L694.91 354.71 L697.45 354.71 L697.45 353.18 L699.58 353.18 L699.58 354.04 L701.7 354.04 L701.7 354.24 L703.82 354.24 L703.82 354.45 L706.36 354.45 L706.36 353.34 L708.91 353.34 L708.91 351.91 L711.45 351.91 L711.45 353.34 L714 353.34 L714 354.71 L716.55 354.71 L716.55 355.08 L719.09 355.08 L719.09 355.98 L721.64 355.98 L721.64 355.73 L724.18 355.73 L724.18 355.98 L726.73 355.98 L726.73 357.23 L729.27 357.23 L729.27 357.64 L731.82 357.64 L731.82 358.56 L734.36 358.56 L734.36 358.91 L736.91 358.91 L736.91 357.28 L739.45 357.28 L739.45 355.73 L742 355.73 L742 355.82 L744.55 355.82 L744.55 355.47 L747.09 355.47 L747.09 356.01 L749.64 356.01 L749.64 355.73 L751.76 355.73 L751.76 354.98 L753.88 354.98 L753.88 354.93 L756 354.93 L756 354.71 L758.55 354.71 L758.55 353.67 L761.09 353.67 L761.09 352.8 L763.68 352.8 L763.68 352.85 L766.27 352.85 L766.27 353.18 L768.39 353.18 L768.39 353.34 L770.52 353.34 L770.52 353.25 L772.64 353.25 L772.64 353.56 L774.55 353.56 L774.55 352.4 L776.45 352.4 L776.45 351.91 L779 351.91 L779 351.82 L781.55 351.82 L781.55 350.99 L784.09 350.99 L784.09 350.64 L786.64 350.64 L786.64 351.54 L789.18 351.54 L789.18 351.91 L791.09 351.91 L791.09 350.62 L793 350.62 L793 350 L796.18 350 L796.18 351.91 L798.41 351.91 L798.41 350.46 L800.64 350.46 L800.64 349.36 L803.18 349.36 L803.18 349.04 L805.73 349.04 L805.73 348.73 L808.27 348.73 L808.27 347.86 L810.82 347.86 L810.82 347.84 L813.36 347.84 L813.36 347.25 L815.91 347.25 L815.91 346.82 L818.45 346.82 L818.45 345.16 L820.49 345.16 L820.49 344.87 L822.53 344.87 L822.53 345.07 L824.56 345.07 L824.56 344.98 L826.6 344.98 L826.6 345.41 L828.64 345.41 L828.64 345.16 L831.18 345.16 L831.18 345.93 L833.73 345.93 L833.73 345.11 L836.27 345.11 L836.27 344.27 L838.82 344.27 L838.82 344.49 L841.36 344.49 L841.36 345.16 L843.48 345.16 L843.48 345.16 L845.61 345.16 L845.61 344.97 L847.73 344.97 L847.73 344.91 L850.27 344.91 L850.27 345.17 L852.82 345.17 L852.82 345.93 L855.36 345.93 L855.36 346.94 L857.91 346.94 L857.91 347.45 L860.45 347.45 L860.45 347.97 L863 347.97 L863 348.35 L865.12 348.35 L865.12 348.46 L867.24 348.46 L867.24 349.49 L869.36 349.49 L869.36 350 L871.91 350 L871.91 349.08 L874.45 349.08 L874.45 348.35 L877 348.35 L877 347.72 L879.55 347.72 L879.55 347.84 L881.71 347.84 L881.71 348.48 L883.87 348.48 L883.87 348.39 L886.04 348.39 L886.04 348.95 L888.2 348.95 L888.2 348.73" fill="none" stroke="#36acc6" stroke-width="1.7" stroke-linejoin="round" stroke-linecap="butt"/>
<path d="M510.27 347.45 L512.82 347.45 L512.82 350 L515.36 350 L515.36 350.42 L517.91 350.42 L517.91 350.89 L520.45 350.89 L520.45 352.47 L523 352.47 L523 353.82 L525.55 353.82 L525.55 355 L528.09 355 L528.09 356.36 L530.64 356.36 L530.64 355.73 L532.55 355.73 L532.55 357.19 L534.45 357.19 L534.45 357.89 L536.36 357.89 L536.36 357.01 L538.27 357.01 L538.27 357 L540.82 357 L540.82 355.47 L543.36 355.47 L543.36 355.72 L545.91 355.72 L545.91 355.09 L548.45 355.09 L548.45 357.18 L551 357.18 L551 358.91 L553.55 358.91 L553.55 358.55 L556.09 358.55 L556.09 357.64 L558.64 357.64 L558.64 357.91 L561.18 357.91 L561.18 357.64 L563.73 357.64 L563.73 358.91 L566.27 358.91 L566.27 358.64 L568.82 358.64 L568.82 359.2 L571.36 359.2 L571.36 358.91 L573.91 358.91 L573.91 356.75 L575.82 356.75 L575.82 357.65 L577.73 357.65 L577.73 358.27 L579.85 358.27 L579.85 357.74 L581.97 357.74 L581.97 358.17 L584.09 358.17 L584.09 357.64 L586 357.64 L586 358.54 L587.91 358.54 L587.91 359.55 L589.82 359.55 L589.82 357.89 L592.05 357.89 L592.05 359.68 L594.27 359.68 L594.27 361.07 L596.39 361.07 L596.39 361.38 L598.52 361.38 L598.52 362.59 L600.64 362.59 L600.64 363.11 L602.76 363.11 L602.76 362.66 L604.88 362.66 L604.88 362.72 L607 362.72 L607 363.11 L609.55 363.11 L609.55 364 L611.45 364 L611.45 363.33 L613.36 363.33 L613.36 363.36 L615.91 363.36 L615.91 362 L618.45 362 L618.45 361.45 L621 361.45 L621 362.36 L623.55 362.36 L623.55 363.11 L626.09 363.11 L626.09 361.39 L628.64 361.39 L628.64 360.18 L630.59 360.18 L630.59 359.72 L632.55 359.72 L632.55 359.8 L634.45 359.8 L634.45 359.64 L636.36 359.64 L636.36 358.91 L638.59 358.91 L638.59 359.15 L640.82 359.15 L640.82 358.82 L643.05 358.82 L643.05 358.65 L645.27 358.65 L645.27 358.91 L647.82 358.91 L647.82 360.21 L650.36 360.21 L650.36 361.07 L652.91 361.07 L652.91 362.14 L655.45 362.14 L655.45 363.11 L657.36 363.11 L657.36 362.47 L659.27 362.47 L659.27 362.09 L661.5 362.09 L661.5 361.92 L663.73 361.92 L663.73 361.97 L665.95 361.97 L665.95 362.08 L668.18 362.08 L668.18 362.09 L670.73 362.09 L670.73 360.82 L673.27 360.82 L673.27 361.17 L675.82 361.17 L675.82 362.09 L678.36 362.09 L678.36 361.13 L680.91 361.13 L680.91 361.07 L682.82 361.07 L682.82 361.55 L684.73 361.55 L684.73 362.09 L686.64 362.09 L686.64 361.32 L688.55 361.32 L688.55 361.07 L690.67 361.07 L690.67 359.95 L692.79 359.95 L692.79 359.43 L694.91 359.43 L694.91 358.91 L696.82 358.91 L696.82 359.51 L698.73 359.51 L698.73 359.8 L701.27 359.8 L701.27 359.65 L703.82 359.65 L703.82 358.91 L706.36 358.91 L706.36 358.93 L708.91 358.93 L708.91 359.8 L711.45 359.8 L711.45 359.63 L714 359.63 L714 358.91 L716.55 358.91 L716.55 358.41 L719.09 358.41 L719.09 358.27 L721.64 358.27 L721.64 358.28 L724.18 358.28 L724.18 357.64 L726.73 357.64 L726.73 356.9 L729.27 356.9 L729.27 355.47 L731.82 355.47 L731.82 353.51 L734.36 353.51 L734.36 351.91 L736.27 351.91 L736.27 352.04 L738.18 352.04 L738.18 351.91 L740.73 351.91 L740.73 350.7 L743.27 350.7 L743.27 349.36 L745.39 349.36 L745.39 348.62 L747.52 348.62 L747.52 348.76 L749.64 348.76 L749.64 347.84 L751.76 347.84 L751.76 347.64 L753.88 347.64 L753.88 347.56 L756 347.56 L756 346.82 L758.12 346.82 L758.12 346.2 L760.24 346.2 L760.24 346.01 L762.36 346.01 L762.36 345.93 L764.32 345.93 L764.32 347.26 L766.27 347.26 L766.27 347.84 L768.39 347.84 L768.39 348.17 L770.52 348.17 L770.52 348.74 L772.64 348.74 L772.64 349.36 L775.18 349.36 L775.18 348.65 L777.73 348.65 L777.73 348.35 L779.85 348.35 L779.85 348.55 L781.97 348.55 L781.97 347.99 L784.09 347.99 L784.09 347.76 L786.21 347.76 L786.21 347.66 L788.33 347.66 L788.33 348.3 L790.45 348.3 L790.45 347.84 L793 347.84 L793 347.73 L795.55 347.73 L795.55 348.13 L798.09 348.13 L798.09 348.73 L800.64 348.73 L800.64 349.53 L803.18 349.53 L803.18 350.64 L805.09 350.64 L805.09 352.16 L807 352.16 L807 353.56 L808.91 353.56 L808.91 353.99 L810.82 353.99 L810.82 353.82 L812.73 353.82 L812.73 353.29 L814.64 353.29 L814.64 351.91 L816.55 351.91 L816.55 352.33 L818.45 352.33 L818.45 352.8 L821 352.8 L821 352.83 L823.55 352.83 L823.55 352.55 L825.45 352.55 L825.45 353.46 L827.36 353.46 L827.36 354.71 L829.27 354.71 L829.27 355.23 L831.18 355.23 L831.18 355.73 L833.73 355.73 L833.73 356.9 L836.27 356.9 L836.27 358.91 L838.18 358.91 L838.18 359.13 L840.09 359.13 L840.09 358.91 L842 358.91 L842 358.3 L843.91 358.3 L843.91 357.64 L845.82 357.64 L845.82 357.79 L847.73 357.79 L847.73 357.64 L850.27 357.64 L850.27 356.04 L852.82 356.04 L852.82 353.82 L854.73 353.82 L854.73 354.43 L856.64 354.43 L856.64 354.45 L858.55 354.45 L858.55 353.3 L860.45 353.3 L860.45 351.27 L863 351.27 L863 351.35 L865.55 351.35 L865.55 351.02 L868.09 351.02 L868.09 351.11 L870.64 351.11 L870.64 351.91 L872.55 351.91 L872.55 352.2 L874.45 352.2 L874.45 352.8 L877 352.8 L877 352.47 L879.55 352.47 L879.55 351.91 L882.09 351.91 L882.09 350.94 L884.64 350.94 L884.64 350.64 L886.42 350.64 L886.42 349.77 L888.2 349.77 L888.2 349.11" fill="none" stroke="#f66d7f" stroke-width="1.7" stroke-linejoin="round" stroke-linecap="butt"/>
<path d="M510.27 348.73 L512.82 348.73 L512.82 348.86 L515.36 348.86 L515.36 348.96 L517.91 348.96 L517.91 349.36 L520.03 349.36 L520.03 349.33 L522.15 349.33 L522.15 348.63 L524.27 348.63 L524.27 348.35 L526.82 348.35 L526.82 347.42 L529.36 347.42 L529.36 346.44 L531.91 346.44 L531.91 347.18 L534.45 347.18 L534.45 347.84 L537 347.84 L537 348.33 L539.55 348.33 L539.55 349.11 L541.67 349.11 L541.67 348.47 L543.79 348.47 L543.79 347.94 L545.91 347.94 L545.91 346.82 L548.45 346.82 L548.45 345.61 L551 345.61 L551 345.16 L553.55 345.16 L553.55 344.45 L556.09 344.45 L556.09 343.64 L558.64 343.64 L558.64 343.11 L561.18 343.11 L561.18 343 L563.73 343 L563.73 342.82 L566.27 342.82 L566.27 342.36 L568.18 342.36 L568.18 341.39 L570.09 341.39 L570.09 340.2 L572 340.2 L572 340.55 L573.91 340.55 L573.91 341.73 L576.45 341.73 L576.45 340.74 L579 340.74 L579 340.48 L581.55 340.48 L581.55 339.82 L583.45 339.82 L583.45 340.01 L585.36 340.01 L585.36 339.56 L586.64 339.56 L586.64 341.73 L589.18 341.73 L589.18 341.23 L591.73 341.23 L591.73 340.2 L594.27 340.2 L594.27 340.17 L596.82 340.17 L596.82 339.56 L598.94 339.56 L598.94 338.81 L601.06 338.81 L601.06 338.58 L603.18 338.58 L603.18 338.29 L605.3 338.29 L605.3 338.23 L607.42 338.23 L607.42 337.92 L609.55 337.92 L609.55 337.91 L612.09 337.91 L612.09 338.3 L614.64 338.3 L614.64 339.18 L616.76 339.18 L616.76 339.99 L618.88 339.99 L618.88 340.15 L621 340.15 L621 340.45 L622.91 340.45 L622.91 340.55 L624.82 340.55 L624.82 340.84 L627.41 340.84 L627.41 340.81 L630 340.81 L630 340.84 L632.55 340.84 L632.55 340.51 L635.09 340.51 L635.09 339.82 L637.64 339.82 L637.64 339.42 L640.18 339.42 L640.18 338.8 L642.73 338.8 L642.73 337.91 L644.85 337.91 L644.85 338.06 L646.97 338.06 L646.97 338.92 L649.09 338.92 L649.09 338.8 L651 338.8 L651 337.64 L652.91 337.64 L652.91 336 L655.03 336 L655.03 335.37 L657.15 335.37 L657.15 334.86 L659.27 334.86 L659.27 334.73 L661.82 334.73 L661.82 334.35 L664.36 334.35 L664.36 334.09 L666.91 334.09 L666.91 331.8 L669.45 331.8 L669.45 333.84 L672 333.84 L672 333.11 L674.55 333.11 L674.55 332.82 L676.45 332.82 L676.45 333.67 L678.36 333.67 L678.36 333.84 L680.48 333.84 L680.48 333.06 L682.61 333.06 L682.61 333.44 L684.73 333.44 L684.73 332.82 L687.27 332.82 L687.27 333.15 L689.82 333.15 L689.82 334.09 L691.94 334.09 L691.94 335.01 L694.06 335.01 L694.06 335.3 L696.18 335.3 L696.18 336 L698.41 336 L698.41 334.08 L700.64 334.08 L700.64 332.82 L703.82 332.82 L703.82 335.11 L705.73 335.11 L705.73 335.04 L707.64 335.04 L707.64 334.09 L709.76 334.09 L709.76 334.87 L711.88 334.87 L711.88 336.22 L714 336.22 L714 336.64 L715.91 336.64 L715.91 335.52 L717.82 335.52 L717.82 334.73 L719.94 334.73 L719.94 334.92 L722.06 334.92 L722.06 335.63 L724.18 335.63 L724.18 336 L726.73 336 L726.73 336.87 L729.27 336.87 L729.27 338.29 L731.39 338.29 L731.39 338.87 L733.52 338.87 L733.52 339.5 L735.64 339.5 L735.64 339.82 L737.76 339.82 L737.76 340.58 L739.88 340.58 L739.88 340.65 L742 340.65 L742 341.73 L744.55 341.73 L744.55 342.83 L747.09 342.83 L747.09 343.64 L749.21 343.64 L749.21 343.85 L751.33 343.85 L751.33 344.44 L753.45 344.44 L753.45 344.91 L755.58 344.91 L755.58 345.87 L757.7 345.87 L757.7 346.51 L759.82 346.51 L759.82 346.82 L762.41 346.82 L762.41 346.17 L765 346.17 L765 346.18 L767.55 346.18 L767.55 345.81 L770.09 345.81 L770.09 346.41 L772.64 346.41 L772.64 346.18 L774.55 346.18 L774.55 347.39 L776.45 347.39 L776.45 348.73 L778.58 348.73 L778.58 348.91 L780.7 348.91 L780.7 348.86 L782.82 348.86 L782.82 348.73 L785.36 348.73 L785.36 348.87 L787.91 348.87 L787.91 348.46 L790.45 348.46 L790.45 347.84 L793 347.84 L793 348.88 L795.55 348.88 L795.55 349.39 L798.09 349.39 L798.09 349.62 L800.64 349.62 L800.64 349.87 L803.18 349.87 L803.18 350 L805.73 350 L805.73 349.09 L808.27 349.09 L808.27 348.35 L810.39 348.35 L810.39 348.3 L812.52 348.3 L812.52 349.16 L814.64 349.16 L814.64 349.11 L817.18 349.11 L817.18 350.06 L819.73 350.06 L819.73 351.02 L821.85 351.02 L821.85 350.88 L823.97 350.88 L823.97 350.58 L826.09 350.58 L826.09 350.64 L828.64 350.64 L828.64 348.73 L830.55 348.73 L830.55 348.13 L832.45 348.13 L832.45 347.84 L834.68 347.84 L834.68 347.84 L836.91 347.84 L836.91 347.97 L839.14 347.97 L839.14 347.67 L841.36 347.67 L841.36 347.84 L843.48 347.84 L843.48 347.95 L845.61 347.95 L845.61 348.77 L847.73 348.77 L847.73 349.11 L849.64 349.11 L849.64 349.32 L851.55 349.32 L851.55 348.73 L854.09 348.73 L854.09 346.18 L856.21 346.18 L856.21 346.02 L858.33 346.02 L858.33 346.19 L860.45 346.19 L860.45 345.55 L863 345.55 L863 345.45 L865.55 345.45 L865.55 345.93 L868.09 345.93 L868.09 347.15 L870.64 347.15 L870.64 347.84 L872.76 347.84 L872.76 347.53 L874.88 347.53 L874.88 346.74 L877 346.74 L877 346.82 L879.12 346.82 L879.12 346.86 L881.24 346.86 L881.24 347.7 L883.36 347.7 L883.36 347.84 L885.78 347.84 L885.78 348.57 L888.2 348.57 L888.2 348.73" fill="none" stroke="#fac364" stroke-width="1.7" stroke-linejoin="round" stroke-linecap="butt"/>
<path d="M510.27 347.45 L512.39 347.45 L512.39 346.43 L514.52 346.43 L514.52 346.12 L516.64 346.12 L516.64 345.55 L518.76 345.55 L518.76 344.81 L520.88 344.81 L520.88 344.48 L523 344.48 L523 344.02 L525.55 344.02 L525.55 345.55 L528.09 345.55 L528.09 345.01 L530.64 345.01 L530.64 344.91 L533.82 344.91 L533.82 342.62 L537 342.62 L537 344.53 L539.55 344.53 L539.55 342.75 L541.45 342.75 L541.45 343.96 L543.36 343.96 L543.36 344.53 L545.91 344.53 L545.91 344.16 L548.45 344.16 L548.45 343.9 L551 343.9 L551 343.25 L553.55 343.25 L553.55 342.75 L556.09 342.75 L556.09 344.02 L558 344.02 L558 343.89 L559.91 343.89 L559.91 343 L562.03 343 L562.03 343.72 L564.15 343.72 L564.15 344.41 L566.27 344.41 L566.27 345.16 L568.82 345.16 L568.82 344.26 L571.36 344.26 L571.36 344.02 L573.91 344.02 L573.91 345.16 L576.14 345.16 L576.14 345.42 L578.36 345.42 L578.36 344.78 L580.59 344.78 L580.59 345.04 L582.82 345.04 L582.82 345.16 L584.73 345.16 L584.73 343.78 L586.64 343.78 L586.64 343 L589.18 343 L589.18 343.08 L591.73 343.08 L591.73 342.75 L593.64 342.75 L593.64 344.02 L595.55 344.02 L595.55 341.73 L597.45 341.73 L597.45 342.13 L599.36 342.13 L599.36 342.62 L601.48 342.62 L601.48 342.54 L603.61 342.54 L603.61 342.47 L605.73 342.47 L605.73 342.36 L608.27 342.36 L608.27 341.72 L610.82 341.72 L610.82 340.45 L613.36 340.45 L613.36 341.73 L615.91 341.73 L615.91 341.2 L618.45 341.2 L618.45 339.82 L621 339.82 L621 339.07 L623.55 339.07 L623.55 338.55 L626.09 338.55 L626.09 339.52 L628.64 339.52 L628.64 339.82 L630.59 339.82 L630.59 340.33 L632.55 340.33 L632.55 340.45 L635.09 340.45 L635.09 341.09 L637.64 341.09 L637.64 342.73 L640.18 342.73 L640.18 344.02 L642.09 344.02 L642.09 345.02 L644 345.02 L644 345.16 L646.55 345.16 L646.55 343.31 L649.09 343.31 L649.09 341.98 L651.64 341.98 L651.64 341.82 L654.18 341.82 L654.18 341.97 L656.73 341.97 L656.73 341.98 L659.27 341.98 L659.27 343.64 L661.39 343.64 L661.39 343.97 L663.52 343.97 L663.52 344.47 L665.64 344.47 L665.64 345.16 L667.76 345.16 L667.76 344.6 L669.88 344.6 L669.88 344.95 L672 344.95 L672 344.27 L674.12 344.27 L674.12 343.85 L676.24 343.85 L676.24 342.91 L678.36 342.91 L678.36 341.73 L680.91 341.73 L680.91 342.95 L683.45 342.95 L683.45 343.64 L685.68 343.64 L685.68 343.04 L687.91 343.04 L687.91 342.62 L691.09 342.62 L691.09 345.16 L693.21 345.16 L693.21 345.25 L695.33 345.25 L695.33 345.59 L697.45 345.59 L697.45 345.93 L700 345.93 L700 345.94 L702.55 345.94 L702.55 346.82 L703.82 346.82 L703.82 345.55 L706.36 345.55 L706.36 346.35 L708.91 346.35 L708.91 347.84 L711.45 347.84 L711.45 346.86 L714 346.86 L714 345.93 L716.55 345.93 L716.55 346.17 L719.09 346.17 L719.09 346.56 L721 346.56 L721 345.87 L722.91 345.87 L722.91 344.91 L725.45 344.91 L725.45 345.28 L728 345.28 L728 345.55 L731.18 345.55 L731.18 344.02 L733.52 344.02 L733.52 344.04 L735.85 344.04 L735.85 345.1 L738.18 345.1 L738.18 345.16 L740.09 345.16 L740.09 346.43 L742 346.43 L742 347.84 L743.91 347.84 L743.91 348.45 L745.82 348.45 L745.82 349.11 L747.73 349.11 L747.73 347.4 L749.64 347.4 L749.64 345.93 L751.76 345.93 L751.76 346.1 L753.88 346.1 L753.88 346.9 L756 346.9 L756 346.82 L757.91 346.82 L757.91 347.75 L759.82 347.75 L759.82 347.84 L762.41 347.84 L762.41 348 L765 348 L765 348.73 L767.12 348.73 L767.12 348.47 L769.24 348.47 L769.24 347.73 L771.36 347.73 L771.36 346.82 L773.48 346.82 L773.48 347.32 L775.61 347.32 L775.61 347.05 L777.73 347.05 L777.73 347.45 L779.85 347.45 L779.85 347.94 L781.97 347.94 L781.97 347.78 L784.09 347.78 L784.09 347.84 L786.21 347.84 L786.21 348.1 L788.33 348.1 L788.33 348.01 L790.45 348.01 L790.45 348.73 L792.58 348.73 L792.58 348.45 L794.7 348.45 L794.7 347.84 L796.82 347.84 L796.82 347.84 L799.36 347.84 L799.36 346.69 L801.91 346.69 L801.91 345.93 L805.09 345.93 L805.09 344.91 L808.27 344.91 L808.27 346.82 L810.18 346.82 L810.18 346.7 L812.09 346.7 L812.09 345.93 L814.21 345.93 L814.21 346.42 L816.33 346.42 L816.33 347.48 L818.45 347.48 L818.45 347.84 L820.58 347.84 L820.58 347.08 L822.7 347.08 L822.7 346.22 L824.82 346.22 L824.82 345.93 L827.36 345.93 L827.36 346.6 L829.91 346.6 L829.91 347.45 L831.82 347.45 L831.82 346.01 L833.73 346.01 L833.73 345.16 L835.85 345.16 L835.85 344.47 L837.97 344.47 L837.97 344.56 L840.09 344.56 L840.09 344.02 L842.64 344.02 L842.64 344.2 L845.18 344.2 L845.18 344.02 L847.3 344.02 L847.3 344.37 L849.42 344.37 L849.42 345.5 L851.55 345.5 L851.55 345.93 L853.45 345.93 L853.45 347.17 L855.36 347.17 L855.36 348.35 L857.91 348.35 L857.91 348.49 L860.45 348.49 L860.45 349.36 L862.58 349.36 L862.58 348.49 L864.7 348.49 L864.7 348.53 L866.82 348.53 L866.82 347.84 L868.94 347.84 L868.94 347.87 L871.06 347.87 L871.06 347.45 L873.18 347.45 L873.18 346.82 L875.73 346.82 L875.73 348.05 L878.27 348.05 L878.27 349.11 L880.82 349.11 L880.82 348.21 L883.36 348.21 L883.36 348.09 L885.78 348.09 L885.78 348.63 L888.2 348.63 L888.2 348.73" fill="none" stroke="#7c2695" stroke-width="1.7" stroke-linejoin="round" stroke-linecap="butt"/>
<line x1="510.5" y1="505.3" x2="510.5" y2="509.7" stroke="#4a4a4a" stroke-width="0.95"/>
<text transform="translate(509.7,524.8) scale(1,1.09)" font-size="14.6" text-anchor="middle" fill="#262626">0.0</text>
<line x1="586.1" y1="505.3" x2="586.1" y2="509.7" stroke="#4a4a4a" stroke-width="0.95"/>
<text transform="translate(585.3,524.8) scale(1,1.09)" font-size="14.6" text-anchor="middle" fill="#262626">0.2</text>
<line x1="661.7" y1="505.3" x2="661.7" y2="509.7" stroke="#4a4a4a" stroke-width="0.95"/>
<text transform="translate(660.9,524.8) scale(1,1.09)" font-size="14.6" text-anchor="middle" fill="#262626">0.4</text>
<line x1="737.3" y1="505.3" x2="737.3" y2="509.7" stroke="#4a4a4a" stroke-width="0.95"/>
<text transform="translate(736.5,524.8) scale(1,1.09)" font-size="14.6" text-anchor="middle" fill="#262626">0.6</text>
<line x1="812.9" y1="505.3" x2="812.9" y2="509.7" stroke="#4a4a4a" stroke-width="0.95"/>
<text transform="translate(812.1,524.8) scale(1,1.09)" font-size="14.6" text-anchor="middle" fill="#262626">0.8</text>
<line x1="888.5" y1="505.3" x2="888.5" y2="509.7" stroke="#4a4a4a" stroke-width="0.95"/>
<text transform="translate(887.7,524.8) scale(1,1.09)" font-size="14.6" text-anchor="middle" fill="#262626">1.0</text>
<ellipse cx="699.5" cy="475.75" rx="189" ry="26.86" fill="#e6e6e6"/>
<path d="M510.27 474.84 L512.39 474.84 L512.39 474.54 L514.52 474.54 L514.52 473.82 L516.64 473.82 L516.64 473.82 L518.76 473.82 L518.76 472.56 L520.88 472.56 L520.88 471.63 L523 471.63 L523 470.64 L525.55 470.64 L525.55 469.76 L528.09 469.76 L528.09 469.75 L530 469.75 L530 469.87 L531.91 469.87 L531.91 470 L533.82 470 L533.82 468.82 L535.73 468.82 L535.73 466.82 L537.85 466.82 L537.85 466.12 L539.97 466.12 L539.97 465.85 L542.09 465.85 L542.09 464.91 L544.64 464.91 L544.64 465.64 L547.18 465.64 L547.18 465.55 L549.41 465.55 L549.41 464.16 L551.64 464.16 L551.64 463.64 L553.86 463.64 L553.86 464.03 L556.09 464.03 L556.09 465.29 L558.64 465.29 L558.64 465.23 L561.18 465.23 L561.18 465.29 L563.73 465.29 L563.73 466.47 L566.27 466.47 L566.27 466.82 L568.82 466.82 L568.82 466.14 L571.36 466.14 L571.36 465.55 L573.27 465.55 L573.27 465.05 L575.18 465.05 L575.18 464.02 L577.09 464.02 L577.09 464.3 L579 464.3 L579 464.27 L580.91 464.27 L580.91 464.63 L582.82 464.63 L582.82 465.8 L585.36 465.8 L585.36 465.77 L587.91 465.77 L587.91 465.93 L590.45 465.93 L590.45 465.8 L593 465.8 L593 467.08 L595.55 467.08 L595.55 468.98 L598.09 468.98 L598.09 469.67 L600.64 469.67 L600.64 471.02 L603.18 471.02 L603.18 470.98 L605.73 470.98 L605.73 470.64 L607 470.64 L607 471.91 L609.55 471.91 L609.55 471.09 L612.09 471.09 L612.09 470.64 L614.64 470.64 L614.64 470.94 L617.18 470.94 L617.18 470.69 L619.73 470.69 L619.73 471.02 L622.27 471.02 L622.27 471.59 L624.82 471.59 L624.82 472.93 L626.73 472.93 L626.73 471.67 L628.64 471.67 L628.64 470.64 L630.59 470.64 L630.59 470.58 L632.55 470.58 L632.55 470 L635.09 470 L635.09 469.36 L637.64 469.36 L637.64 471.02 L640.18 471.02 L640.18 469.74 L642.73 469.74 L642.73 468.73 L644.76 468.73 L644.76 468.77 L646.8 468.77 L646.8 468.97 L648.84 468.97 L648.84 468.53 L650.87 468.53 L650.87 469.06 L652.91 469.06 L652.91 468.73 L654.82 468.73 L654.82 467.87 L656.73 467.87 L656.73 467.84 L659.27 467.84 L659.27 468.24 L661.82 468.24 L661.82 468.73 L665 468.73 L665 466.82 L666.91 466.82 L666.91 467.01 L668.82 467.01 L668.82 467.37 L670.73 467.37 L670.73 468.09 L672.64 468.09 L672.64 469.28 L674.55 469.28 L674.55 469.75 L677.09 469.75 L677.09 468.49 L679.64 468.49 L679.64 467.84 L681.76 467.84 L681.76 468.6 L683.88 468.6 L683.88 468.83 L686 468.83 L686 469.36 L688.55 469.36 L688.55 469.45 L691.09 469.45 L691.09 468.73 L693.64 468.73 L693.64 469.07 L696.18 469.07 L696.18 468.73 L698.73 468.73 L698.73 471.53 L700.64 471.53 L700.64 471.79 L702.55 471.79 L702.55 472.93 L705.09 472.93 L705.09 473.14 L707.64 473.14 L707.64 472.55 L710.18 472.55 L710.18 471.83 L712.73 471.83 L712.73 471.02 L715.27 471.02 L715.27 471.79 L717.82 471.79 L717.82 472.16 L719.94 472.16 L719.94 471.81 L722.06 471.81 L722.06 472.36 L724.18 472.36 L724.18 472.16 L725.45 472.16 L725.45 469.75 L727.58 469.75 L727.58 469.31 L729.7 469.31 L729.7 468.89 L731.82 468.89 L731.82 467.84 L733.73 467.84 L733.73 468.69 L735.64 468.69 L735.64 469.36 L737.76 469.36 L737.76 468.74 L739.88 468.74 L739.88 469.08 L742 469.08 L742 468.73 L744.55 468.73 L744.55 469.39 L747.09 469.39 L747.09 469.75 L749.64 469.75 L749.64 469.03 L752.18 469.03 L752.18 468.98 L754.73 468.98 L754.73 470.41 L757.27 470.41 L757.27 471.27 L759.2 471.27 L759.2 471.01 L761.14 471.01 L761.14 471.67 L763.07 471.67 L763.07 471.86 L765 471.86 L765 471.91 L767.55 471.91 L767.55 472.65 L770.09 472.65 L770.09 472.29 L772.64 472.29 L772.64 472.93 L774.55 472.93 L774.55 471.53 L776.45 471.53 L776.45 470.64 L778.58 470.64 L778.58 470.37 L780.7 470.37 L780.7 469.77 L782.82 469.77 L782.82 469.36 L784.09 469.36 L784.09 466.82 L786 466.82 L786 467.19 L787.91 467.19 L787.91 466.82 L790.45 466.82 L790.45 468.42 L793 468.42 L793 470.64 L795.55 470.64 L795.55 471.42 L798.09 471.42 L798.09 471.91 L800 471.91 L800 470.57 L801.91 470.57 L801.91 469.75 L804.14 469.75 L804.14 470.13 L806.36 470.13 L806.36 469.63 L808.59 469.63 L808.59 469.67 L810.82 469.67 L810.82 469.75 L812.73 469.75 L812.73 467.84 L814.95 467.84 L814.95 468.8 L817.18 468.8 L817.18 469.75 L819.09 469.75 L819.09 471.53 L821 471.53 L821 472.55 L823.55 472.55 L823.55 473.04 L826.09 473.04 L826.09 472.93 L828 472.93 L828 473.8 L829.91 473.8 L829.91 474.45 L831.82 474.45 L831.82 473.53 L833.73 473.53 L833.73 472.93 L836.27 472.93 L836.27 473.49 L838.82 473.49 L838.82 473.82 L840.73 473.82 L840.73 473.33 L842.64 473.33 L842.64 472.16 L845.18 472.16 L845.18 472.96 L847.73 472.96 L847.73 473.82 L849.85 473.82 L849.85 473.84 L851.97 473.84 L851.97 474.76 L854.09 474.76 L854.09 474.84 L856.21 474.84 L856.21 475.57 L858.33 475.57 L858.33 475.25 L860.45 475.25 L860.45 475.73 L862.58 475.73 L862.58 475.03 L864.7 475.03 L864.7 474.97 L866.82 474.97 L866.82 474.84 L868.94 474.84 L868.94 474.86 L871.06 474.86 L871.06 475.56 L873.18 475.56 L873.18 475.73 L875.3 475.73 L875.3 475.86 L877.42 475.86 L877.42 476.29 L879.55 476.29 L879.55 476.11 L881.71 476.11 L881.71 475.74 L883.87 475.74 L883.87 476.04 L886.04 476.04 L886.04 475.9 L888.2 475.9 L888.2 475.73" fill="none" stroke="#36acc6" stroke-width="1.7" stroke-linejoin="round" stroke-linecap="butt"/>
<path d="M510.27 476.36 L512.82 476.36 L512.82 477.36 L515.36 477.36 L515.36 477.89 L517.91 477.89 L517.91 477.78 L520.45 477.78 L520.45 477.64 L522.58 477.64 L522.58 478.51 L524.7 478.51 L524.7 478.52 L526.82 478.52 L526.82 478.91 L529.36 478.91 L529.36 479.75 L531.91 479.75 L531.91 479.8 L534.03 479.8 L534.03 479.72 L536.15 479.72 L536.15 480.3 L538.27 480.3 L538.27 480.56 L540.18 480.56 L540.18 479.41 L542.09 479.41 L542.09 478.91 L544.64 478.91 L544.64 480.82 L546.76 480.82 L546.76 479.45 L548.88 479.45 L548.88 478.58 L551 478.58 L551 478.02 L553.55 478.02 L553.55 477.82 L556.09 477.82 L556.09 478.02 L558.64 478.02 L558.64 477.04 L561.18 477.04 L561.18 476.62 L563.73 476.62 L563.73 476.68 L566.27 476.68 L566.27 476.62 L568.82 476.62 L568.82 479.55 L571.36 479.55 L571.36 479.89 L573.91 479.89 L573.91 480.18 L576.45 480.18 L576.45 478.91 L579 478.91 L579 478.95 L581.55 478.95 L581.55 479.55 L584.09 479.55 L584.09 479.76 L586.64 479.76 L586.64 479.59 L589.18 479.59 L589.18 479.8 L591.09 479.8 L591.09 479.13 L593 479.13 L593 478.02 L594.91 478.02 L594.91 478.04 L596.82 478.04 L596.82 478.27 L599.36 478.27 L599.36 477.01 L601.91 477.01 L601.91 476.36 L604.45 476.36 L604.45 477.35 L607 477.35 L607 478.91 L608.91 478.91 L608.91 479.32 L610.82 479.32 L610.82 478.91 L612.94 478.91 L612.94 479.31 L615.06 479.31 L615.06 479.59 L617.18 479.59 L617.18 479.8 L619.73 479.8 L619.73 479.44 L622.27 479.44 L622.27 478.91 L624.82 478.91 L624.82 479.87 L627.36 479.87 L627.36 480.82 L629.32 480.82 L629.32 480.96 L631.27 480.96 L631.27 481.71 L633.82 481.71 L633.82 482.47 L636.36 482.47 L636.36 481.54 L638.91 481.54 L638.91 480.18 L641.45 480.18 L641.45 480.01 L644 480.01 L644 479.84 L646.55 479.84 L646.55 479.16 L649.09 479.16 L649.09 477.42 L651.64 477.42 L651.64 475.73 L654.18 475.73 L654.18 475.74 L656.73 475.74 L656.73 476.62 L658.64 476.62 L658.64 477.65 L660.55 477.65 L660.55 478.91 L663.09 478.91 L663.09 477.98 L665.64 477.98 L665.64 477 L667.76 477 L667.76 476.36 L669.88 476.36 L669.88 475.38 L672 475.38 L672 474.84 L674.12 474.84 L674.12 474.25 L676.24 474.25 L676.24 473.84 L678.36 473.84 L678.36 473.44 L680.91 473.44 L680.91 473.63 L683.45 473.63 L683.45 472.76 L686 472.76 L686 472.93 L688.55 472.93 L688.55 472.41 L691.09 472.41 L691.09 472.55 L693.64 472.55 L693.64 472.43 L696.18 472.43 L696.18 471.53 L698.09 471.53 L698.09 472.28 L700 472.28 L700 472.93 L702.55 472.93 L702.55 472.49 L705.09 472.49 L705.09 472.67 L707.64 472.67 L707.64 472.93 L710.18 472.93 L710.18 473.27 L712.73 473.27 L712.73 473.82 L714.85 473.82 L714.85 473.54 L716.97 473.54 L716.97 473.52 L719.09 473.52 L719.09 472.93 L721.64 472.93 L721.64 472.88 L724.18 472.88 L724.18 472.55 L726.73 472.55 L726.73 473.82 L729.27 473.82 L729.27 474.03 L731.82 474.03 L731.82 474.84 L733.73 474.84 L733.73 473.66 L735.64 473.66 L735.64 472.16 L737.76 472.16 L737.76 471.54 L739.88 471.54 L739.88 470.67 L742 470.67 L742 469.75 L744.55 469.75 L744.55 470.14 L747.09 470.14 L747.09 470.64 L749.64 470.64 L749.64 471.34 L752.18 471.34 L752.18 471.91 L754.3 471.91 L754.3 471.71 L756.42 471.71 L756.42 470.59 L758.55 470.59 L758.55 470 L760.7 470 L760.7 470.3 L762.85 470.3 L762.85 471.05 L765 471.05 L765 471.02 L767.55 471.02 L767.55 470.58 L770.09 470.58 L770.09 470 L772.64 470 L772.64 471.09 L775.18 471.09 L775.18 472.55 L777.73 472.55 L777.73 472.19 L780.27 472.19 L780.27 471.02 L782.82 471.02 L782.82 471.47 L785.36 471.47 L785.36 471.91 L787.91 471.91 L787.91 472.22 L790.45 472.22 L790.45 472.93 L792.58 472.93 L792.58 471.71 L794.7 471.71 L794.7 470.63 L796.82 470.63 L796.82 470 L799.36 470 L799.36 471.51 L801.91 471.51 L801.91 472.93 L804.03 472.93 L804.03 472.36 L806.15 472.36 L806.15 472.6 L808.27 472.6 L808.27 471.91 L810.82 471.91 L810.82 472.59 L813.36 472.59 L813.36 473.82 L815.91 473.82 L815.91 473.61 L818.45 473.61 L818.45 472.93 L821 472.93 L821 474.25 L823.55 474.25 L823.55 475.35 L826.09 475.35 L826.09 475.22 L828.64 475.22 L828.64 474.45 L831.18 474.45 L831.18 474.98 L833.73 474.98 L833.73 475.73 L835.64 475.73 L835.64 474.14 L837.55 474.14 L837.55 472.93 L840.09 472.93 L840.09 474.38 L842.64 474.38 L842.64 475.35 L844.76 475.35 L844.76 475.68 L846.88 475.68 L846.88 475.89 L849 475.89 L849 475.73 L851.55 475.73 L851.55 475.03 L854.09 475.03 L854.09 474.84 L856.64 474.84 L856.64 475.63 L859.18 475.63 L859.18 476.36 L861.3 476.36 L861.3 476.24 L863.42 476.24 L863.42 476.16 L865.55 476.16 L865.55 475.73 L867.45 475.73 L867.45 474.81 L869.36 474.81 L869.36 473.82 L871.91 473.82 L871.91 474.15 L874.45 474.15 L874.45 475.35 L876.36 475.35 L876.36 474.76 L878.27 474.76 L878.27 473.82 L880.82 473.82 L880.82 474.26 L883.36 474.26 L883.36 474.84 L885.78 474.84 L885.78 475.21 L888.2 475.21 L888.2 475.73" fill="none" stroke="#f66d7f" stroke-width="1.7" stroke-linejoin="round" stroke-linecap="butt"/>
<path d="M510.27 473.18 L512.39 473.18 L512.39 472.73 L514.52 472.73 L514.52 472.87 L516.64 472.87 L516.64 472.16 L519.18 472.16 L519.18 473.22 L521.73 473.22 L521.73 474.45 L523.64 474.45 L523.64 473.68 L525.55 473.68 L525.55 473.44 L527.45 473.44 L527.45 472.51 L529.36 472.51 L529.36 471.02 L531.27 471.02 L531.27 472.21 L533.18 472.21 L533.18 472.93 L535.73 472.93 L535.73 472.91 L538.27 472.91 L538.27 472.55 L540.82 472.55 L540.82 473.07 L543.36 473.07 L543.36 474.45 L545.27 474.45 L545.27 474.82 L547.18 474.82 L547.18 475.35 L549.09 475.35 L549.09 476.32 L551 476.32 L551 477.64 L552.91 477.64 L552.91 476.65 L554.82 476.65 L554.82 476.11 L557.36 476.11 L557.36 474.82 L559.91 474.82 L559.91 473.82 L562.45 473.82 L562.45 472.79 L565 472.79 L565 472.16 L567.55 472.16 L567.55 471.72 L570.09 471.72 L570.09 471.27 L572 471.27 L572 471.28 L573.91 471.28 L573.91 472.16 L576.03 472.16 L576.03 472.23 L578.15 472.23 L578.15 472.6 L580.27 472.6 L580.27 472.16 L581.55 472.16 L581.55 470.25 L584.09 470.25 L584.09 471.02 L586.64 471.02 L586.64 471.58 L589.18 471.58 L589.18 472.16 L591.09 472.16 L591.09 471.43 L593 471.43 L593 471.02 L595.55 471.02 L595.55 472.14 L598.09 472.14 L598.09 472.93 L600.64 472.93 L600.64 472.79 L603.18 472.79 L603.18 472.93 L605.09 472.93 L605.09 472.15 L607 472.15 L607 470.64 L609.55 470.64 L609.55 470.85 L612.09 470.85 L612.09 470.65 L614.64 470.65 L614.64 470.25 L616.55 470.25 L616.55 469.18 L618.45 469.18 L618.45 468.09 L620.58 468.09 L620.58 467.24 L622.7 467.24 L622.7 466.85 L624.82 466.85 L624.82 466.82 L627.36 466.82 L627.36 467.84 L629.91 467.84 L629.91 468.98 L632.55 468.98 L632.55 468.22 L635.09 468.22 L635.09 467.84 L637.64 467.84 L637.64 469.53 L640.18 469.53 L640.18 470.64 L642.73 470.64 L642.73 471.16 L645.27 471.16 L645.27 471.91 L647.82 471.91 L647.82 472.47 L650.36 472.47 L650.36 472.16 L652.91 472.16 L652.91 473.07 L655.45 473.07 L655.45 473.82 L658 473.82 L658 473.47 L660.55 473.47 L660.55 473.82 L663.09 473.82 L663.09 475.46 L665.64 475.46 L665.64 477 L668.18 477 L668.18 477.75 L670.73 477.75 L670.73 477.64 L673.27 477.64 L673.27 478.1 L675.82 478.1 L675.82 478.91 L678.36 478.91 L678.36 479.65 L680.91 479.65 L680.91 479.8 L683.45 479.8 L683.45 480.13 L686 480.13 L686 480.18 L687.91 480.18 L687.91 480.91 L689.82 480.91 L689.82 482.09 L691.73 482.09 L691.73 481.22 L693.64 481.22 L693.64 479.8 L696.18 479.8 L696.18 478.27 L698.73 478.27 L698.73 476.72 L701.27 476.72 L701.27 475.73 L703.82 475.73 L703.82 476.11 L706.36 476.11 L706.36 476.62 L708.48 476.62 L708.48 476.78 L710.61 476.78 L710.61 476.04 L712.73 476.04 L712.73 476.36 L715.27 476.36 L715.27 475.93 L717.82 475.93 L717.82 474.84 L720.36 474.84 L720.36 476.11 L722.91 476.11 L722.91 477.64 L725.45 477.64 L725.45 477.96 L728 477.96 L728 478.02 L730.55 478.02 L730.55 478.28 L733.09 478.28 L733.09 478.27 L735.64 478.27 L735.64 479.66 L738.18 479.66 L738.18 480.18 L740.09 480.18 L740.09 480.1 L742 480.1 L742 480.18 L744.55 480.18 L744.55 481.03 L747.09 481.03 L747.09 481.45 L749.64 481.45 L749.64 480.71 L752.18 480.71 L752.18 479.8 L754.09 479.8 L754.09 478.13 L756 478.13 L756 477 L758.55 477 L758.55 478.37 L761.09 478.37 L761.09 479.8 L763.05 479.8 L763.05 479.79 L765 479.79 L765 478.91 L767.55 478.91 L767.55 479.73 L770.09 479.73 L770.09 479.8 L772 479.8 L772 479.1 L773.91 479.1 L773.91 478.91 L776.45 478.91 L776.45 479.8 L779 479.8 L779 480.56 L781.55 480.56 L781.55 480.71 L784.09 480.71 L784.09 481.2 L786.64 481.2 L786.64 480.64 L789.18 480.64 L789.18 480.56 L791.41 480.56 L791.41 478.04 L793.64 478.04 L793.64 476.11 L795.86 476.11 L795.86 477 L798.09 477 L798.09 478.02 L800 478.02 L800 477.82 L801.91 477.82 L801.91 477.64 L803.82 477.64 L803.82 478.42 L805.73 478.42 L805.73 479.8 L807.85 479.8 L807.85 480.23 L809.97 480.23 L809.97 479.35 L812.09 479.35 L812.09 479.8 L814 479.8 L814 477.73 L815.91 477.73 L815.91 475.73 L817.82 475.73 L817.82 476.82 L819.73 476.82 L819.73 477.64 L822.27 477.64 L822.27 477.24 L824.82 477.24 L824.82 476.36 L826.73 476.36 L826.73 475.87 L828.64 475.87 L828.64 474.84 L831.18 474.84 L831.18 476.08 L833.73 476.08 L833.73 477 L836.27 477 L836.27 476.03 L838.82 476.03 L838.82 475.35 L841.36 475.35 L841.36 476.19 L843.91 476.19 L843.91 476.62 L846.45 476.62 L846.45 474.83 L849 474.83 L849 473.82 L851.55 473.82 L851.55 474.56 L854.09 474.56 L854.09 475.73 L856.64 475.73 L856.64 474.07 L859.18 474.07 L859.18 472.93 L861.73 472.93 L861.73 473.59 L864.27 473.59 L864.27 474.84 L866.18 474.84 L866.18 475.38 L868.09 475.38 L868.09 476.62 L870.21 476.62 L870.21 477.24 L872.33 477.24 L872.33 478.39 L874.45 478.39 L874.45 478.91 L877 478.91 L877 478.62 L879.55 478.62 L879.55 478.02 L882.09 478.02 L882.09 477.14 L884.64 477.14 L884.64 477 L886.42 477 L886.42 476.56 L888.2 476.56 L888.2 475.73" fill="none" stroke="#fac364" stroke-width="1.7" stroke-linejoin="round" stroke-linecap="butt"/>
<path d="M510.27 475.73 L512.82 475.73 L512.82 476.53 L515.36 476.53 L515.36 477.89 L517.91 477.89 L517.91 479.8 L519.82 479.8 L519.82 479.31 L521.73 479.31 L521.73 478.27 L524.27 478.27 L524.27 479.43 L526.82 479.43 L526.82 480.82 L529.36 480.82 L529.36 482.08 L531.91 482.08 L531.91 482.73 L534.03 482.73 L534.03 482.78 L536.15 482.78 L536.15 482.37 L538.27 482.37 L538.27 482.09 L540.18 482.09 L540.18 482.97 L542.09 482.97 L542.09 483.75 L544 483.75 L544 482.82 L545.91 482.82 L545.91 482.73 L548.45 482.73 L548.45 483.2 L551 483.2 L551 482.98 L553.55 482.98 L553.55 484.64 L556.09 484.64 L556.09 485.56 L558.64 485.56 L558.64 485.91 L561.18 485.91 L561.18 486.74 L563.73 486.74 L563.73 487.82 L566.27 487.82 L566.27 486.48 L568.82 486.48 L568.82 485.91 L571.36 485.91 L571.36 486.94 L573.91 486.94 L573.91 488.07 L575.82 488.07 L575.82 488.1 L577.73 488.1 L577.73 487.82 L580.27 487.82 L580.27 486.8 L582.82 486.8 L582.82 487.82 L584.73 487.82 L584.73 487.15 L586.64 487.15 L586.64 485.91 L589.18 485.91 L589.18 486.8 L591.73 486.8 L591.73 486.8 L593.64 486.8 L593.64 484.85 L595.55 484.85 L595.55 483.36 L598.73 483.36 L598.73 480.82 L601.91 480.82 L601.91 483.75 L604.14 483.75 L604.14 483.57 L606.36 483.57 L606.36 483.52 L608.59 483.52 L608.59 483.67 L610.82 483.67 L610.82 483.46 L613.05 483.46 L613.05 484.07 L615.27 484.07 L615.27 483.51 L617.5 483.51 L617.5 483.79 L619.73 483.79 L619.73 483.75 L622.27 483.75 L622.27 482.73 L624.82 482.73 L624.82 483.75 L626.73 483.75 L626.73 483.35 L628.64 483.35 L628.64 483.75 L631.27 483.75 L631.27 482.73 L633.18 482.73 L633.18 483.46 L635.09 483.46 L635.09 483.75 L637 483.75 L637 484.16 L638.91 484.16 L638.91 485.27 L640.82 485.27 L640.82 484.12 L642.73 484.12 L642.73 483.75 L645.27 483.75 L645.27 483.39 L647.82 483.39 L647.82 482.98 L649.73 482.98 L649.73 484.81 L651.64 484.81 L651.64 485.91 L654.18 485.91 L654.18 486.02 L656.73 486.02 L656.73 485.91 L658.85 485.91 L658.85 484.43 L660.97 484.43 L660.97 482.47 L663.09 482.47 L663.09 480.82 L665 480.82 L665 482.33 L666.91 482.33 L666.91 482.98 L668.82 482.98 L668.82 482.75 L670.73 482.75 L670.73 482.98 L673.27 482.98 L673.27 480.18 L675.18 480.18 L675.18 480.51 L677.09 480.51 L677.09 481.71 L679.64 481.71 L679.64 481.78 L682.18 481.78 L682.18 481.71 L684.73 481.71 L684.73 480.82 L687.27 480.82 L687.27 480.82 L689.82 480.82 L689.82 480.55 L692.36 480.55 L692.36 480.82 L694.91 480.82 L694.91 482.98 L697.45 482.98 L697.45 482.6 L700 482.6 L700 482.98 L701.27 482.98 L701.27 482.09 L703.82 482.09 L703.82 482.37 L706.36 482.37 L706.36 482.47 L708.91 482.47 L708.91 480.56 L711.45 480.56 L711.45 481.39 L714 481.39 L714 482.36 L716.55 482.36 L716.55 483.75 L718.45 483.75 L718.45 483.54 L720.36 483.54 L720.36 482.47 L722.91 482.47 L722.91 483.33 L725.45 483.33 L725.45 483.01 L728 483.01 L728 483.75 L730.04 483.75 L730.04 483.3 L732.07 483.3 L732.07 483.96 L734.11 483.96 L734.11 483.72 L736.15 483.72 L736.15 483.97 L738.18 483.97 L738.18 483.75 L740.73 483.75 L740.73 485.27 L742.85 485.27 L742.85 483.81 L744.97 483.81 L744.97 483.53 L747.09 483.53 L747.09 482.09 L749.64 482.09 L749.64 482.09 L751.55 482.09 L751.55 483.13 L753.45 483.13 L753.45 483.75 L756 483.75 L756 484.09 L758.55 484.09 L758.55 483.75 L760.7 483.75 L760.7 483.08 L762.85 483.08 L762.85 483.26 L765 483.26 L765 482.98 L767.55 482.98 L767.55 483.2 L770.09 483.2 L770.09 482.41 L772.64 482.41 L772.64 482.73 L774.55 482.73 L774.55 483.01 L776.45 483.01 L776.45 482.98 L779 482.98 L779 482.09 L782.18 482.09 L782.18 484 L785.36 484 L785.36 482.09 L787.59 482.09 L787.59 482.29 L789.82 482.29 L789.82 482.47 L792.05 482.47 L792.05 482.61 L794.27 482.61 L794.27 482.73 L796.18 482.73 L796.18 484.24 L798.09 484.24 L798.09 485.91 L800 485.91 L800 485.52 L801.91 485.52 L801.91 484.64 L803.18 484.64 L803.18 482.73 L805.22 482.73 L805.22 482.62 L807.25 482.62 L807.25 482.73 L809.29 482.73 L809.29 482.83 L811.33 482.83 L811.33 482.62 L813.36 482.62 L813.36 482.47 L815.91 482.47 L815.91 484.89 L818.45 484.89 L818.45 480.82 L821 480.82 L821 480.11 L823.55 480.11 L823.55 479.8 L826.09 479.8 L826.09 478.75 L828.64 478.75 L828.64 477 L831.18 477 L831.18 478.39 L833.73 478.39 L833.73 478.91 L836.27 478.91 L836.27 479.63 L838.82 479.63 L838.82 480.82 L840.73 480.82 L840.73 480.03 L842.64 480.03 L842.64 479.8 L844.76 479.8 L844.76 479.74 L846.88 479.74 L846.88 480.06 L849 480.06 L849 480.18 L850.91 480.18 L850.91 479.55 L852.82 479.55 L852.82 478.91 L855.36 478.91 L855.36 479.8 L857.91 479.8 L857.91 479.8 L860.03 479.8 L860.03 478.92 L862.15 478.92 L862.15 477.75 L864.27 477.75 L864.27 476.62 L866.82 476.62 L866.82 475.73 L869.36 475.73 L869.36 477.64 L871.91 477.64 L871.91 476.61 L874.45 476.61 L874.45 476.11 L877 476.11 L877 476.22 L879.55 476.22 L879.55 476.36 L882.09 476.36 L882.09 474.84 L884.64 474.84 L884.64 476.36 L886.42 476.36 L886.42 476.39 L888.2 476.39 L888.2 475.73" fill="none" stroke="#7c2695" stroke-width="1.7" stroke-linejoin="round" stroke-linecap="butt"/>
<line x1="932.6" y1="44.3" x2="932.6" y2="103.85" stroke="#555555" stroke-width="1.1"/>
<line x1="951.46" y1="103.3" x2="951.46" y2="107.7" stroke="#4a4a4a" stroke-width="0.95"/>
<text transform="translate(950.66,122.8) scale(1,1.09)" font-size="14.6" text-anchor="middle" fill="#262626">0</text>
<line x1="1027.68" y1="103.3" x2="1027.68" y2="107.7" stroke="#4a4a4a" stroke-width="0.95"/>
<text transform="translate(1026.88,122.8) scale(1,1.09)" font-size="14.6" text-anchor="middle" fill="#262626">20</text>
<line x1="1103.9" y1="103.3" x2="1103.9" y2="107.7" stroke="#4a4a4a" stroke-width="0.95"/>
<text transform="translate(1103.1,122.8) scale(1,1.09)" font-size="14.6" text-anchor="middle" fill="#262626">40</text>
<line x1="1180.11" y1="103.3" x2="1180.11" y2="107.7" stroke="#4a4a4a" stroke-width="0.95"/>
<text transform="translate(1179.31,122.8) scale(1,1.09)" font-size="14.6" text-anchor="middle" fill="#262626">60</text>
<line x1="1256.33" y1="103.3" x2="1256.33" y2="107.7" stroke="#4a4a4a" stroke-width="0.95"/>
<text transform="translate(1255.53,122.8) scale(1,1.09)" font-size="14.6" text-anchor="middle" fill="#262626">80</text>
<line x1="1332.55" y1="103.3" x2="1332.55" y2="107.7" stroke="#4a4a4a" stroke-width="0.95"/>
<text transform="translate(1331.75,122.8) scale(1,1.09)" font-size="14.6" text-anchor="middle" fill="#262626">100</text>
<line x1="928.2" y1="91.3" x2="932.6" y2="91.3" stroke="#4a4a4a" stroke-width="0.95"/>
<text transform="translate(924.3,98.2) scale(1,1.09)" font-size="14.6" text-anchor="end" fill="#262626">0</text>
<line x1="928.2" y1="46" x2="932.6" y2="46" stroke="#4a4a4a" stroke-width="0.95"/>
<text transform="translate(924.3,52.9) scale(1,1.09)" font-size="14.6" text-anchor="end" fill="#262626">1</text>
<rect x="951.46" y="82.92" width="377.27" height="16.76" fill="#e6e6e6"/>
<line x1="951.46" y1="91.3" x2="1328.74" y2="91.3" stroke="#6e6e6e" stroke-width="1.85" stroke-dasharray="9.98 2.50 1.56 2.50"/>
<path d="M951.46 46 L955.27 89.94 L959.09 89.03 L962.9 91.3 L966.71 93.11 L970.52 88.02 L974.33 89.18 L978.14 90.89 L981.95 93.1 L985.76 93.15 L989.57 89.44 L993.38 93.22 L997.19 89.92 L1001 91.76 L1004.82 91.67 L1008.63 91.53 L1012.44 94.14 L1016.25 88.77 L1020.06 92.65 L1023.87 92.95 L1027.68 93.76 L1031.49 90.48 L1035.3 89.32 L1039.11 88.03 L1042.92 93.84 L1046.73 87.68 L1050.55 90.86 L1054.36 92.51 L1058.17 92.7 L1061.98 88.82 L1065.79 88.67 L1069.6 91.36 L1073.41 88.87 L1077.22 89.24 L1081.03 90.25 L1084.84 92.51 L1088.65 90.33 L1092.46 91.06 L1096.28 90.88 L1100.09 89.56 L1103.9 93.07 L1107.71 88.92 L1111.52 91.22 L1115.33 91.17 L1119.14 92.51 L1122.95 88.16 L1126.76 92.8 L1130.57 94.92 L1134.38 92.6 L1138.19 91.2 L1142.01 90.8 L1145.82 92.09 L1149.63 90.46 L1153.44 90.45 L1157.25 91.6 L1161.06 93.48 L1164.87 88.42 L1168.68 90.54 L1172.49 91.1 L1176.3 93 L1180.11 91.5 L1183.92 88.62 L1187.74 90.94 L1191.55 90.97 L1195.36 91.81 L1199.17 90.66 L1202.98 90.63 L1206.79 93.89 L1210.6 90.89 L1214.41 91.61 L1218.22 87.91 L1222.03 88.1 L1225.84 89.09 L1229.65 91.15 L1233.47 90.41 L1237.28 90.6 L1241.09 89.09 L1244.9 90.61 L1248.71 91.83 L1252.52 93 L1256.33 92.73 L1260.14 94.44 L1263.95 90.81 L1267.76 91.35 L1271.57 87.68 L1275.38 92.17 L1279.2 89.72 L1283.01 93.56 L1286.82 91.33 L1290.63 92.21 L1294.44 94.51 L1298.25 90.51 L1302.06 91.81 L1305.87 90.05 L1309.68 88.46 L1313.49 91.01 L1317.3 92.65 L1321.11 88.59 L1324.93 93.75 L1328.74 90.47" fill="none" stroke="#36acc6" stroke-width="1.7" stroke-linejoin="round" stroke-linecap="butt" clip-path="url(#c02)"/>
<path d="M951.46 46 L955.27 93.08 L959.09 91.54 L962.9 91.13 L966.71 90.41 L970.52 93.7 L974.33 91.06 L978.14 93.25 L981.95 93.16 L985.76 91.8 L989.57 91.09 L993.38 90.83 L997.19 88.3 L1001 93.25 L1004.82 90.24 L1008.63 92.59 L1012.44 93.89 L1016.25 90.29 L1020.06 89.66 L1023.87 93.61 L1027.68 94.59 L1031.49 92.01 L1035.3 87.86 L1039.11 90.08 L1042.92 93.01 L1046.73 94.74 L1050.55 93.21 L1054.36 92.62 L1058.17 90.78 L1061.98 91.07 L1065.79 92.06 L1069.6 91.78 L1073.41 93.73 L1077.22 94.46 L1081.03 88.73 L1084.84 92.07 L1088.65 91.93 L1092.46 94.74 L1096.28 89.17 L1100.09 88.6 L1103.9 89.7 L1107.71 94.23 L1111.52 92.23 L1115.33 90.67 L1119.14 91.64 L1122.95 93.07 L1126.76 90.43 L1130.57 94.58 L1134.38 91.15 L1138.19 90.3 L1142.01 90.89 L1145.82 91.28 L1149.63 94.49 L1153.44 90.58 L1157.25 91.54 L1161.06 91.18 L1164.87 91.52 L1168.68 90.98 L1172.49 92.51 L1176.3 89.18 L1180.11 92.51 L1183.92 92.29 L1187.74 91.13 L1191.55 89.97 L1195.36 92.39 L1199.17 90.92 L1202.98 91.44 L1206.79 91.74 L1210.6 91.09 L1214.41 91.97 L1218.22 87.86 L1222.03 91.57 L1225.84 90.85 L1229.65 93.22 L1233.47 89.39 L1237.28 91.91 L1241.09 94.42 L1244.9 89.77 L1248.71 89.92 L1252.52 92.9 L1256.33 90.46 L1260.14 91.95 L1263.95 91.76 L1267.76 89.15 L1271.57 93.7 L1275.38 92.54 L1279.2 92.07 L1283.01 89.09 L1286.82 90.86 L1290.63 87.86 L1294.44 92.56 L1298.25 88.87 L1302.06 94.74 L1305.87 91.72 L1309.68 92.7 L1313.49 91.19 L1317.3 94.11 L1321.11 92.82 L1324.93 94 L1328.74 89.17" fill="none" stroke="#f66d7f" stroke-width="1.7" stroke-linejoin="round" stroke-linecap="butt" clip-path="url(#c02)"/>
<path d="M951.46 46 L955.27 94.92 L959.09 91.3 L962.9 92.66 L966.71 88.13 L970.52 93.56 L974.33 91.16 L978.14 92.5 L981.95 89.26 L985.76 92.15 L989.57 91.03 L993.38 91.83 L997.19 89.48 L1001 88.59 L1004.82 93.21 L1008.63 90.87 L1012.44 91.62 L1016.25 90.95 L1020.06 88.73 L1023.87 89.91 L1027.68 90.74 L1031.49 91.38 L1035.3 91.33 L1039.11 91.71 L1042.92 90.97 L1046.73 91.04 L1050.55 87.13 L1054.36 92.55 L1058.17 90.22 L1061.98 87.82 L1065.79 93.47 L1069.6 91.37 L1073.41 89.1 L1077.22 90.15 L1081.03 87.95 L1084.84 94.73 L1088.65 90.29 L1092.46 91.27 L1096.28 92.41 L1100.09 89.05 L1103.9 88.71 L1107.71 90.39 L1111.52 92.25 L1115.33 90.42 L1119.14 92.39 L1122.95 92.91 L1126.76 88.8 L1130.57 89.82 L1134.38 89.29 L1138.19 92.17 L1142.01 90.93 L1145.82 89.24 L1149.63 90.49 L1153.44 93.78 L1157.25 91.34 L1161.06 89.26 L1164.87 90.43 L1168.68 88.06 L1172.49 91.76 L1176.3 92.73 L1180.11 88.43 L1183.92 93.45 L1187.74 89.65 L1191.55 91.2 L1195.36 91.2 L1199.17 91.9 L1202.98 93.54 L1206.79 87.13 L1210.6 88.81 L1214.41 92.36 L1218.22 92.39 L1222.03 95.06 L1225.84 91.4 L1229.65 94.54 L1233.47 90.88 L1237.28 87.56 L1241.09 91.12 L1244.9 93.06 L1248.71 92.15 L1252.52 94.9 L1256.33 89.05 L1260.14 89.65 L1263.95 91.93 L1267.76 90.42 L1271.57 92.94 L1275.38 92.01 L1279.2 91.46 L1283.01 92.89 L1286.82 89.47 L1290.63 87.13 L1294.44 89.82 L1298.25 91.04 L1302.06 95.47 L1305.87 92.64 L1309.68 91.35 L1313.49 91.87 L1317.3 90.75 L1321.11 93.65 L1324.93 91.4 L1328.74 91.69" fill="none" stroke="#fac364" stroke-width="1.7" stroke-linejoin="round" stroke-linecap="butt" clip-path="url(#c02)"/>
<path d="M951.46 46 L955.27 90.56 L959.09 92.42 L962.9 93.15 L966.71 91.07 L970.52 91.07 L974.33 90.35 L978.14 89.83 L981.95 90.56 L985.76 91.39 L989.57 92.11 L993.38 91.9 L997.19 90.35 L1001 92.11 L1004.82 93.67 L1008.63 92.11 L1012.44 92.42 L1016.25 88.79 L1020.06 90.04 L1023.87 90.76 L1027.68 89.83 L1031.49 94.7 L1035.3 92.11 L1039.11 90.76 L1042.92 92.11 L1046.73 91.07 L1050.55 90.56 L1054.36 91.39 L1058.17 90.35 L1061.98 94.5 L1065.79 91.59 L1069.6 90.56 L1073.41 90.24 L1077.22 91.39 L1081.03 92.11 L1084.84 89.52 L1088.65 91.39 L1092.46 91.59 L1096.28 88.48 L1100.09 88.48 L1103.9 90.56 L1107.71 92.42 L1111.52 90.04 L1115.33 92.63 L1119.14 90.76 L1122.95 90.56 L1126.76 90.56 L1130.57 92.11 L1134.38 93.67 L1138.19 95.22 L1142.01 93.46 L1145.82 91.07 L1149.63 90.76 L1153.44 92.11 L1157.25 93.67 L1161.06 93.87 L1164.87 91.07 L1168.68 90.56 L1172.49 93.46 L1176.3 91.39 L1180.11 94.91 L1183.92 93.67 L1187.74 90.56 L1191.55 93.67 L1195.36 90.56 L1199.17 91.59 L1202.98 91.59 L1206.79 91.07 L1210.6 90.76 L1214.41 91.59 L1218.22 90.56 L1222.03 92.84 L1225.84 89.52 L1229.65 91.39 L1233.47 91.39 L1237.28 90.76 L1241.09 88.69 L1244.9 90.04 L1248.71 93.15 L1252.52 92.11 L1256.33 91.59 L1260.14 90.04 L1263.95 92.84 L1267.76 90.56 L1271.57 88.69 L1275.38 91.59 L1279.2 92.63 L1283.01 92.11 L1286.82 93.67 L1290.63 92.11 L1294.44 92.84 L1298.25 91.39 L1302.06 90.56 L1305.87 93.67 L1309.68 92.11 L1313.49 93.67 L1317.3 92.11 L1321.11 90.04 L1324.93 89.31 L1328.74 92.11" fill="none" stroke="#7c2695" stroke-width="1.7" stroke-linejoin="round" stroke-linecap="butt" clip-path="url(#c02)"/>
<line x1="932.6" y1="192.4" x2="932.6" y2="251.75" stroke="#555555" stroke-width="1.1"/>
<line x1="951.46" y1="251.2" x2="951.46" y2="255.6" stroke="#4a4a4a" stroke-width="0.95"/>
<text transform="translate(950.66,270.7) scale(1,1.09)" font-size="14.6" text-anchor="middle" fill="#262626">0</text>
<line x1="1027.68" y1="251.2" x2="1027.68" y2="255.6" stroke="#4a4a4a" stroke-width="0.95"/>
<text transform="translate(1026.88,270.7) scale(1,1.09)" font-size="14.6" text-anchor="middle" fill="#262626">20</text>
<line x1="1103.9" y1="251.2" x2="1103.9" y2="255.6" stroke="#4a4a4a" stroke-width="0.95"/>
<text transform="translate(1103.1,270.7) scale(1,1.09)" font-size="14.6" text-anchor="middle" fill="#262626">40</text>
<line x1="1180.11" y1="251.2" x2="1180.11" y2="255.6" stroke="#4a4a4a" stroke-width="0.95"/>
<text transform="translate(1179.31,270.7) scale(1,1.09)" font-size="14.6" text-anchor="middle" fill="#262626">60</text>
<line x1="1256.33" y1="251.2" x2="1256.33" y2="255.6" stroke="#4a4a4a" stroke-width="0.95"/>
<text transform="translate(1255.53,270.7) scale(1,1.09)" font-size="14.6" text-anchor="middle" fill="#262626">80</text>
<line x1="1332.55" y1="251.2" x2="1332.55" y2="255.6" stroke="#4a4a4a" stroke-width="0.95"/>
<text transform="translate(1331.75,270.7) scale(1,1.09)" font-size="14.6" text-anchor="middle" fill="#262626">100</text>
<line x1="928.2" y1="239.4" x2="932.6" y2="239.4" stroke="#4a4a4a" stroke-width="0.95"/>
<text transform="translate(924.3,246.3) scale(1,1.09)" font-size="14.6" text-anchor="end" fill="#262626">0</text>
<line x1="928.2" y1="194.2" x2="932.6" y2="194.2" stroke="#4a4a4a" stroke-width="0.95"/>
<text transform="translate(924.3,201.1) scale(1,1.09)" font-size="14.6" text-anchor="end" fill="#262626">1</text>
<rect x="951.46" y="231.04" width="377.27" height="16.72" fill="#e6e6e6"/>
<line x1="951.46" y1="239.4" x2="1328.74" y2="239.4" stroke="#6e6e6e" stroke-width="1.85" stroke-dasharray="9.98 2.50 1.56 2.50"/>
<path d="M951.46 194.2 L955.27 233.98 L959.09 233.98 L962.9 236.69 L966.71 239.4 L970.52 239.04 L974.33 240.94 L978.14 239.5 L981.95 240.56 L985.76 242.35 L989.57 239.9 L993.38 238.77 L997.19 236.45 L1001 237.24 L1004.82 237.54 L1008.63 238.58 L1012.44 242.42 L1016.25 239.88 L1020.06 240.29 L1023.87 241.2 L1027.68 237.82 L1031.49 235.78 L1035.3 242.15 L1039.11 240.89 L1042.92 240.4 L1046.73 238.54 L1050.55 239.5 L1054.36 237.01 L1058.17 238.59 L1061.98 240.37 L1065.79 237.54 L1069.6 237.7 L1073.41 239.24 L1077.22 236.07 L1081.03 241.34 L1084.84 238.62 L1088.65 239.89 L1092.46 239.07 L1096.28 241.77 L1100.09 239.49 L1103.9 239.58 L1107.71 238.46 L1111.52 240.19 L1115.33 239.74 L1119.14 239.16 L1122.95 239.81 L1126.76 238.12 L1130.57 239.89 L1134.38 239.36 L1138.19 238.78 L1142.01 236.94 L1145.82 240.35 L1149.63 235.78 L1153.44 235.78 L1157.25 238.92 L1161.06 239.55 L1164.87 241.37 L1168.68 241.19 L1172.49 243.02 L1176.3 238.49 L1180.11 241.61 L1183.92 240.11 L1187.74 239.34 L1191.55 239.66 L1195.36 241.67 L1199.17 239.73 L1202.98 237.71 L1206.79 237.27 L1210.6 239.87 L1214.41 239.94 L1218.22 238.62 L1222.03 239.42 L1225.84 240.73 L1229.65 241.64 L1233.47 243.02 L1237.28 242.28 L1241.09 239.28 L1244.9 239.86 L1248.71 240.07 L1252.52 240.16 L1256.33 236.29 L1260.14 240.95 L1263.95 237.93 L1267.76 237.02 L1271.57 238.92 L1275.38 239.96 L1279.2 235.89 L1283.01 239.25 L1286.82 235.78 L1290.63 241.66 L1294.44 238.35 L1298.25 237.39 L1302.06 241.64 L1305.87 238.49 L1309.68 238.56 L1313.49 242.24 L1317.3 238.9 L1321.11 240.28 L1324.93 242.3 L1328.74 237.43" fill="none" stroke="#36acc6" stroke-width="1.7" stroke-linejoin="round" stroke-linecap="butt" clip-path="url(#c12)"/>
<path d="M951.46 194.2 L955.27 238.23 L959.09 239.15 L962.9 239.08 L966.71 241.24 L970.52 235.96 L974.33 239.87 L978.14 238.98 L981.95 236.39 L985.76 239.86 L989.57 237.8 L993.38 239.68 L997.19 238.2 L1001 237.42 L1004.82 237.88 L1008.63 240.32 L1012.44 238.81 L1016.25 242.34 L1020.06 238.33 L1023.87 240.51 L1027.68 241 L1031.49 238.37 L1035.3 241.12 L1039.11 240.29 L1042.92 240.07 L1046.73 241.11 L1050.55 239.7 L1054.36 241.24 L1058.17 239.37 L1061.98 238.8 L1065.79 239.93 L1069.6 239.61 L1073.41 238.63 L1077.22 241.78 L1081.03 237.22 L1084.84 242 L1088.65 239.51 L1092.46 237.16 L1096.28 237.63 L1100.09 238.6 L1103.9 237.8 L1107.71 239.86 L1111.52 237.54 L1115.33 241.48 L1119.14 238.58 L1122.95 238.2 L1126.76 241.03 L1130.57 237.12 L1134.38 237.16 L1138.19 239.24 L1142.01 240.36 L1145.82 239.96 L1149.63 239.32 L1153.44 237.46 L1157.25 240.87 L1161.06 239.86 L1164.87 239.2 L1168.68 239.73 L1172.49 242.83 L1176.3 237.82 L1180.11 239.55 L1183.92 241.27 L1187.74 241.17 L1191.55 242.84 L1195.36 238.83 L1199.17 238.51 L1202.98 241.75 L1206.79 240.56 L1210.6 238.85 L1214.41 238.11 L1218.22 239.56 L1222.03 239.26 L1225.84 241.39 L1229.65 237.39 L1233.47 240.33 L1237.28 240.48 L1241.09 240.18 L1244.9 242.02 L1248.71 239 L1252.52 240.03 L1256.33 240.34 L1260.14 242.84 L1263.95 241.69 L1267.76 242.84 L1271.57 239.23 L1275.38 237.03 L1279.2 237.29 L1283.01 239.86 L1286.82 236.6 L1290.63 239.78 L1294.44 237.78 L1298.25 238.5 L1302.06 238.06 L1305.87 240.55 L1309.68 236.07 L1313.49 242.84 L1317.3 236.75 L1321.11 238.49 L1324.93 240.63 L1328.74 237.89" fill="none" stroke="#f66d7f" stroke-width="1.7" stroke-linejoin="round" stroke-linecap="butt" clip-path="url(#c12)"/>
<path d="M951.46 194.2 L955.27 240.3 L959.09 239.4 L962.9 240.76 L966.71 238.67 L970.52 238.86 L974.33 242.17 L978.14 241.06 L981.95 237.5 L985.76 239.69 L989.57 237.64 L993.38 241.31 L997.19 238.18 L1001 236.1 L1004.82 238.44 L1008.63 238.29 L1012.44 236.87 L1016.25 238.55 L1020.06 238.55 L1023.87 238.91 L1027.68 241.89 L1031.49 239.41 L1035.3 239.41 L1039.11 240.43 L1042.92 238.62 L1046.73 236.06 L1050.55 236.62 L1054.36 237.67 L1058.17 243.56 L1061.98 239.17 L1065.79 237.41 L1069.6 237.57 L1073.41 241.26 L1077.22 239.09 L1081.03 238.56 L1084.84 242.18 L1088.65 239.79 L1092.46 236.73 L1096.28 235.24 L1100.09 235.24 L1103.9 240.8 L1107.71 239.63 L1111.52 237.26 L1115.33 239.26 L1119.14 240.61 L1122.95 239.71 L1126.76 238.44 L1130.57 240.53 L1134.38 237.93 L1138.19 238.62 L1142.01 238.75 L1145.82 236.78 L1149.63 239.81 L1153.44 238.43 L1157.25 237.82 L1161.06 242.77 L1164.87 242.28 L1168.68 239.52 L1172.49 243.09 L1176.3 243 L1180.11 239.44 L1183.92 242.41 L1187.74 239.77 L1191.55 243.51 L1195.36 238.33 L1199.17 239.85 L1202.98 239.42 L1206.79 243.56 L1210.6 239.27 L1214.41 237.16 L1218.22 243.23 L1222.03 240.88 L1225.84 237.72 L1229.65 237.95 L1233.47 237.49 L1237.28 241.73 L1241.09 237.83 L1244.9 238.83 L1248.71 236.04 L1252.52 238.16 L1256.33 240.38 L1260.14 241.47 L1263.95 239.86 L1267.76 239.45 L1271.57 243.56 L1275.38 239.69 L1279.2 237.02 L1283.01 239.06 L1286.82 239.3 L1290.63 239.76 L1294.44 235.61 L1298.25 238.62 L1302.06 236.74 L1305.87 242.25 L1309.68 237.82 L1313.49 239.76 L1317.3 239.37 L1321.11 243.56 L1324.93 239.42 L1328.74 239.33" fill="none" stroke="#fac364" stroke-width="1.7" stroke-linejoin="round" stroke-linecap="butt" clip-path="url(#c12)"/>
<path d="M951.46 194.2 L955.27 242.19 L959.09 238.56 L962.9 239.59 L966.71 242.19 L970.52 237.52 L974.33 240.11 L978.14 237 L981.95 239.07 L985.76 240.11 L989.57 239.07 L993.38 239.07 L997.19 241.67 L1001 235.65 L1004.82 239.07 L1008.63 239.59 L1012.44 241.15 L1016.25 238.04 L1020.06 238.56 L1023.87 241.67 L1027.68 237.52 L1031.49 242.91 L1035.3 240.11 L1039.11 239.39 L1042.92 238.76 L1046.73 238.76 L1050.55 235.65 L1054.36 239.59 L1058.17 241.46 L1061.98 241.67 L1065.79 240.84 L1069.6 237.52 L1073.41 240.63 L1077.22 239.59 L1081.03 241.15 L1084.84 242.19 L1088.65 238.76 L1092.46 238.56 L1096.28 240.63 L1100.09 236.48 L1103.9 241.46 L1107.71 238.56 L1111.52 237.52 L1115.33 237.52 L1119.14 239.07 L1122.95 240.63 L1126.76 236.48 L1130.57 242.19 L1134.38 236.48 L1138.19 237 L1142.01 238.76 L1145.82 240.63 L1149.63 237.31 L1153.44 239.39 L1157.25 242.7 L1161.06 239.59 L1164.87 243.22 L1168.68 240.11 L1172.49 242.19 L1176.3 239.07 L1180.11 240.42 L1183.92 238.35 L1187.74 239.07 L1191.55 238.04 L1195.36 241.15 L1199.17 239.39 L1202.98 237.52 L1206.79 241.67 L1210.6 239.8 L1214.41 239.59 L1218.22 239.59 L1222.03 241.87 L1225.84 241.15 L1229.65 239.59 L1233.47 239.39 L1237.28 238.35 L1241.09 239.07 L1244.9 242.19 L1248.71 240.63 L1252.52 237.52 L1256.33 237.31 L1260.14 239.59 L1263.95 241.67 L1267.76 241.67 L1271.57 241.67 L1275.38 238.56 L1279.2 237.52 L1283.01 241.67 L1286.82 237 L1290.63 232.85 L1294.44 239.59 L1298.25 237 L1302.06 239.07 L1305.87 238.56 L1309.68 240.11 L1313.49 239.39 L1317.3 240.63 L1321.11 241.67 L1324.93 239.59 L1328.74 240.11" fill="none" stroke="#7c2695" stroke-width="1.7" stroke-linejoin="round" stroke-linecap="butt" clip-path="url(#c12)"/>
<line x1="932.6" y1="319.2" x2="932.6" y2="378.75" stroke="#555555" stroke-width="1.1"/>
<line x1="951.46" y1="378.2" x2="951.46" y2="382.6" stroke="#4a4a4a" stroke-width="0.95"/>
<text transform="translate(950.66,397.7) scale(1,1.09)" font-size="14.6" text-anchor="middle" fill="#262626">0</text>
<line x1="1027.68" y1="378.2" x2="1027.68" y2="382.6" stroke="#4a4a4a" stroke-width="0.95"/>
<text transform="translate(1026.88,397.7) scale(1,1.09)" font-size="14.6" text-anchor="middle" fill="#262626">20</text>
<line x1="1103.9" y1="378.2" x2="1103.9" y2="382.6" stroke="#4a4a4a" stroke-width="0.95"/>
<text transform="translate(1103.1,397.7) scale(1,1.09)" font-size="14.6" text-anchor="middle" fill="#262626">40</text>
<line x1="1180.11" y1="378.2" x2="1180.11" y2="382.6" stroke="#4a4a4a" stroke-width="0.95"/>
<text transform="translate(1179.31,397.7) scale(1,1.09)" font-size="14.6" text-anchor="middle" fill="#262626">60</text>
<line x1="1256.33" y1="378.2" x2="1256.33" y2="382.6" stroke="#4a4a4a" stroke-width="0.95"/>
<text transform="translate(1255.53,397.7) scale(1,1.09)" font-size="14.6" text-anchor="middle" fill="#262626">80</text>
<line x1="1332.55" y1="378.2" x2="1332.55" y2="382.6" stroke="#4a4a4a" stroke-width="0.95"/>
<text transform="translate(1331.75,397.7) scale(1,1.09)" font-size="14.6" text-anchor="middle" fill="#262626">100</text>
<line x1="928.2" y1="366.8" x2="932.6" y2="366.8" stroke="#4a4a4a" stroke-width="0.95"/>
<text transform="translate(924.3,373.7) scale(1,1.09)" font-size="14.6" text-anchor="end" fill="#262626">0</text>
<line x1="928.2" y1="321.6" x2="932.6" y2="321.6" stroke="#4a4a4a" stroke-width="0.95"/>
<text transform="translate(924.3,328.5) scale(1,1.09)" font-size="14.6" text-anchor="end" fill="#262626">1</text>
<rect x="951.46" y="358.44" width="377.27" height="16.72" fill="#e6e6e6"/>
<line x1="951.46" y1="366.8" x2="1328.74" y2="366.8" stroke="#6e6e6e" stroke-width="1.85" stroke-dasharray="9.98 2.50 1.56 2.50"/>
<path d="M951.46 321.6 L955.27 360.47 L959.09 362.96 L962.9 362.73 L966.71 365.9 L970.52 365.21 L974.33 366.03 L978.14 368.1 L981.95 366.93 L985.76 366.68 L989.57 365.16 L993.38 367.59 L997.19 364.52 L1001 366.72 L1004.82 365.74 L1008.63 365.08 L1012.44 367.29 L1016.25 366.44 L1020.06 367.78 L1023.87 366.8 L1027.68 368.32 L1031.49 366.64 L1035.3 366.84 L1039.11 364.16 L1042.92 370.18 L1046.73 364.56 L1050.55 368.79 L1054.36 367.78 L1058.17 370.42 L1061.98 364.84 L1065.79 367.91 L1069.6 368.12 L1073.41 367.42 L1077.22 367.49 L1081.03 365.88 L1084.84 366.63 L1088.65 367.34 L1092.46 366.84 L1096.28 367.42 L1100.09 366.23 L1103.9 368.49 L1107.71 363.18 L1111.52 367.38 L1115.33 366.76 L1119.14 366.87 L1122.95 367.31 L1126.76 365.84 L1130.57 367 L1134.38 365.69 L1138.19 366.07 L1142.01 366.69 L1145.82 367.21 L1149.63 365.55 L1153.44 365.34 L1157.25 368.77 L1161.06 365.73 L1164.87 365.59 L1168.68 370.35 L1172.49 367.62 L1176.3 364.83 L1180.11 368.75 L1183.92 368.73 L1187.74 367.8 L1191.55 367.28 L1195.36 367.18 L1199.17 367 L1202.98 365.82 L1206.79 365.17 L1210.6 363.18 L1214.41 367 L1218.22 369.48 L1222.03 365.4 L1225.84 366.6 L1229.65 364.58 L1233.47 364.59 L1237.28 365.38 L1241.09 365.41 L1244.9 363.38 L1248.71 363.62 L1252.52 366.77 L1256.33 368.02 L1260.14 365.59 L1263.95 366.64 L1267.76 365.4 L1271.57 367.65 L1275.38 369.37 L1279.2 368.33 L1283.01 366.37 L1286.82 366.8 L1290.63 367.87 L1294.44 368.4 L1298.25 366.76 L1302.06 364.21 L1305.87 364.84 L1309.68 365.78 L1313.49 367.75 L1317.3 366.49 L1321.11 366.21 L1324.93 368.16 L1328.74 367.19" fill="none" stroke="#36acc6" stroke-width="1.7" stroke-linejoin="round" stroke-linecap="butt" clip-path="url(#c22)"/>
<path d="M951.46 321.6 L955.27 364.54 L959.09 363.64 L962.9 366.8 L966.71 368.83 L970.52 365.2 L974.33 366.41 L978.14 365.78 L981.95 365.55 L985.76 367.39 L989.57 367.36 L993.38 369.87 L997.19 367.06 L1001 366.85 L1004.82 363.36 L1008.63 365.96 L1012.44 370.24 L1016.25 369.73 L1020.06 368.43 L1023.87 365.46 L1027.68 366.24 L1031.49 369.06 L1035.3 364.41 L1039.11 366.86 L1042.92 365.81 L1046.73 363.36 L1050.55 366.57 L1054.36 366.94 L1058.17 365.4 L1061.98 368.06 L1065.79 365.06 L1069.6 363.36 L1073.41 367.9 L1077.22 365.9 L1081.03 370.24 L1084.84 370.24 L1088.65 365.82 L1092.46 366.06 L1096.28 365.39 L1100.09 367.03 L1103.9 369.12 L1107.71 366.79 L1111.52 363.56 L1115.33 365.8 L1119.14 365.68 L1122.95 364.28 L1126.76 366.41 L1130.57 366.99 L1134.38 363.91 L1138.19 365.77 L1142.01 368.16 L1145.82 369.88 L1149.63 368.78 L1153.44 367.2 L1157.25 368.59 L1161.06 364.21 L1164.87 366.3 L1168.68 366.96 L1172.49 367.54 L1176.3 364.91 L1180.11 365.14 L1183.92 368.47 L1187.74 366.36 L1191.55 367.1 L1195.36 368.93 L1199.17 366.03 L1202.98 365.12 L1206.79 366.75 L1210.6 368.25 L1214.41 368.61 L1218.22 366.98 L1222.03 366.37 L1225.84 364.98 L1229.65 367.8 L1233.47 365.43 L1237.28 366.92 L1241.09 368.08 L1244.9 368.45 L1248.71 366.32 L1252.52 365.59 L1256.33 368.81 L1260.14 367.27 L1263.95 367.62 L1267.76 367.03 L1271.57 364.69 L1275.38 366.53 L1279.2 367.41 L1283.01 368.51 L1286.82 366.1 L1290.63 368.06 L1294.44 364.38 L1298.25 368.26 L1302.06 363.94 L1305.87 366.48 L1309.68 367.82 L1313.49 365.86 L1317.3 365.66 L1321.11 370.24 L1324.93 364.58 L1328.74 366.44" fill="none" stroke="#f66d7f" stroke-width="1.7" stroke-linejoin="round" stroke-linecap="butt" clip-path="url(#c22)"/>
<path d="M951.46 321.6 L955.27 370.42 L959.09 364.09 L962.9 366.8 L966.71 367.34 L970.52 367.82 L974.33 365.44 L978.14 366.8 L981.95 365.66 L985.76 366.85 L989.57 366.84 L993.38 365.81 L997.19 365.39 L1001 368.64 L1004.82 367.19 L1008.63 364.39 L1012.44 369.19 L1016.25 365.82 L1020.06 368.28 L1023.87 364.76 L1027.68 366.74 L1031.49 367.06 L1035.3 370.96 L1039.11 366.67 L1042.92 362.82 L1046.73 368.66 L1050.55 364.93 L1054.36 365.47 L1058.17 367.52 L1061.98 370.06 L1065.79 365.04 L1069.6 370.96 L1073.41 364.89 L1077.22 363.8 L1081.03 364.77 L1084.84 366.49 L1088.65 368.76 L1092.46 365.89 L1096.28 369.97 L1100.09 362.64 L1103.9 369.93 L1107.71 365.84 L1111.52 367.7 L1115.33 366.79 L1119.14 363.09 L1122.95 366.3 L1126.76 364.5 L1130.57 368.94 L1134.38 363.72 L1138.19 366.83 L1142.01 368.56 L1145.82 367.09 L1149.63 366.82 L1153.44 366.61 L1157.25 368.45 L1161.06 366.76 L1164.87 370.96 L1168.68 367.7 L1172.49 366.78 L1176.3 366.84 L1180.11 366.89 L1183.92 364.51 L1187.74 367.64 L1191.55 368 L1195.36 370.96 L1199.17 365.18 L1202.98 366.57 L1206.79 366.62 L1210.6 369.7 L1214.41 370.96 L1218.22 366.37 L1222.03 368.11 L1225.84 367.57 L1229.65 367.01 L1233.47 367.86 L1237.28 367.41 L1241.09 370.79 L1244.9 370.96 L1248.71 363.35 L1252.52 369.27 L1256.33 366.2 L1260.14 364.96 L1263.95 365.86 L1267.76 365.53 L1271.57 368.5 L1275.38 367.47 L1279.2 365.3 L1283.01 366.09 L1286.82 367.25 L1290.63 362.64 L1294.44 366.89 L1298.25 365.1 L1302.06 364.92 L1305.87 365.36 L1309.68 366.75 L1313.49 364.24 L1317.3 362.64 L1321.11 365.96 L1324.93 366.21 L1328.74 366.57" fill="none" stroke="#fac364" stroke-width="1.7" stroke-linejoin="round" stroke-linecap="butt" clip-path="url(#c22)"/>
<path d="M951.46 321.6 L955.27 365.56 L959.09 365.56 L962.9 365.56 L966.71 368.15 L970.52 365.56 L974.33 365.04 L978.14 364.52 L981.95 367.84 L985.76 367.63 L989.57 362.24 L993.38 365.76 L997.19 365.76 L1001 367.11 L1004.82 368.67 L1008.63 365.04 L1012.44 369.19 L1016.25 364 L1020.06 365.56 L1023.87 369.7 L1027.68 366.07 L1031.49 369.7 L1035.3 366.59 L1039.11 368.67 L1042.92 365.56 L1046.73 368.15 L1050.55 365.56 L1054.36 366.07 L1058.17 367.11 L1061.98 371.99 L1065.79 369.7 L1069.6 366.07 L1073.41 366.07 L1077.22 367.63 L1081.03 368.46 L1084.84 367.63 L1088.65 370.22 L1092.46 369.19 L1096.28 365.56 L1100.09 366.59 L1103.9 365.04 L1107.71 363.48 L1111.52 365.04 L1115.33 368.67 L1119.14 367.11 L1122.95 366.59 L1126.76 369.19 L1130.57 373.02 L1134.38 365.56 L1138.19 368.67 L1142.01 369.19 L1145.82 365.56 L1149.63 365.04 L1153.44 364.52 L1157.25 372.81 L1161.06 368.15 L1164.87 368.67 L1168.68 366.07 L1172.49 365.76 L1176.3 366.59 L1180.11 368.67 L1183.92 367.42 L1187.74 364 L1191.55 367.11 L1195.36 366.39 L1199.17 366.07 L1202.98 366.59 L1206.79 367.63 L1210.6 366.39 L1214.41 368.46 L1218.22 366.8 L1222.03 368.15 L1225.84 367.11 L1229.65 366.39 L1233.47 367.11 L1237.28 365.56 L1241.09 363.69 L1244.9 367.63 L1248.71 369.5 L1252.52 366.59 L1256.33 365.04 L1260.14 364 L1263.95 367.63 L1267.76 363.69 L1271.57 366.59 L1275.38 366.8 L1279.2 366.39 L1283.01 369.19 L1286.82 365.56 L1290.63 366.59 L1294.44 365.56 L1298.25 363.27 L1302.06 366.07 L1305.87 365.56 L1309.68 367.11 L1313.49 371.26 L1317.3 366.59 L1321.11 365.35 L1324.93 365.56 L1328.74 367.11" fill="none" stroke="#7c2695" stroke-width="1.7" stroke-linejoin="round" stroke-linecap="butt" clip-path="url(#c22)"/>
<line x1="932.6" y1="446.2" x2="932.6" y2="505.85" stroke="#555555" stroke-width="1.1"/>
<line x1="951.46" y1="505.3" x2="951.46" y2="509.7" stroke="#4a4a4a" stroke-width="0.95"/>
<text transform="translate(950.66,524.8) scale(1,1.09)" font-size="14.6" text-anchor="middle" fill="#262626">0</text>
<line x1="1027.68" y1="505.3" x2="1027.68" y2="509.7" stroke="#4a4a4a" stroke-width="0.95"/>
<text transform="translate(1026.88,524.8) scale(1,1.09)" font-size="14.6" text-anchor="middle" fill="#262626">20</text>
<line x1="1103.9" y1="505.3" x2="1103.9" y2="509.7" stroke="#4a4a4a" stroke-width="0.95"/>
<text transform="translate(1103.1,524.8) scale(1,1.09)" font-size="14.6" text-anchor="middle" fill="#262626">40</text>
<line x1="1180.11" y1="505.3" x2="1180.11" y2="509.7" stroke="#4a4a4a" stroke-width="0.95"/>
<text transform="translate(1179.31,524.8) scale(1,1.09)" font-size="14.6" text-anchor="middle" fill="#262626">60</text>
<line x1="1256.33" y1="505.3" x2="1256.33" y2="509.7" stroke="#4a4a4a" stroke-width="0.95"/>
<text transform="translate(1255.53,524.8) scale(1,1.09)" font-size="14.6" text-anchor="middle" fill="#262626">80</text>
<line x1="1332.55" y1="505.3" x2="1332.55" y2="509.7" stroke="#4a4a4a" stroke-width="0.95"/>
<text transform="translate(1331.75,524.8) scale(1,1.09)" font-size="14.6" text-anchor="middle" fill="#262626">100</text>
<line x1="928.2" y1="493.9" x2="932.6" y2="493.9" stroke="#4a4a4a" stroke-width="0.95"/>
<text transform="translate(924.3,500.8) scale(1,1.09)" font-size="14.6" text-anchor="end" fill="#262626">0</text>
<line x1="928.2" y1="448.7" x2="932.6" y2="448.7" stroke="#4a4a4a" stroke-width="0.95"/>
<text transform="translate(924.3,455.6) scale(1,1.09)" font-size="14.6" text-anchor="end" fill="#262626">1</text>
<rect x="951.46" y="485.54" width="377.27" height="16.72" fill="#e6e6e6"/>
<line x1="951.46" y1="493.9" x2="1328.74" y2="493.9" stroke="#6e6e6e" stroke-width="1.85" stroke-dasharray="9.98 2.50 1.56 2.50"/>
<path d="M951.46 448.7 L955.27 488.02 L959.09 490.06 L962.9 492.09 L966.71 492.09 L970.52 492.54 L974.33 493.51 L978.14 495.92 L981.95 493.7 L985.76 496.73 L989.57 496.39 L993.38 494.75 L997.19 490.94 L1001 495.83 L1004.82 494.12 L1008.63 496.78 L1012.44 491.9 L1016.25 494.62 L1020.06 493.12 L1023.87 494.4 L1027.68 495.75 L1031.49 491.8 L1035.3 491.1 L1039.11 491.8 L1042.92 493.9 L1046.73 492.35 L1050.55 496.07 L1054.36 495.44 L1058.17 490.28 L1061.98 494.6 L1065.79 494.83 L1069.6 494.45 L1073.41 496.89 L1077.22 494.39 L1081.03 492.05 L1084.84 493.32 L1088.65 495.48 L1092.46 497.52 L1096.28 490.87 L1100.09 493.45 L1103.9 492.35 L1107.71 494.22 L1111.52 495.09 L1115.33 496.74 L1119.14 491.37 L1122.95 492.15 L1126.76 493.13 L1130.57 495.4 L1134.38 493.95 L1138.19 494.11 L1142.01 492.1 L1145.82 494.78 L1149.63 495.58 L1153.44 494.04 L1157.25 493.47 L1161.06 496 L1164.87 494.02 L1168.68 494.19 L1172.49 494.62 L1176.3 490.28 L1180.11 493.07 L1183.92 495.25 L1187.74 493.55 L1191.55 497.52 L1195.36 491.48 L1199.17 495.79 L1202.98 490.28 L1206.79 490.67 L1210.6 495.58 L1214.41 493.67 L1218.22 494.81 L1222.03 493.74 L1225.84 494.96 L1229.65 494.67 L1233.47 491.7 L1237.28 494.11 L1241.09 490.28 L1244.9 494.06 L1248.71 495.47 L1252.52 495.46 L1256.33 494.03 L1260.14 497.52 L1263.95 495.73 L1267.76 492.18 L1271.57 490.28 L1275.38 495.86 L1279.2 496.09 L1283.01 493.45 L1286.82 495.81 L1290.63 492.93 L1294.44 496.18 L1298.25 496.16 L1302.06 495.85 L1305.87 495.76 L1309.68 495.36 L1313.49 496.17 L1317.3 495.12 L1321.11 493.31 L1324.93 496.23 L1328.74 496.55" fill="none" stroke="#36acc6" stroke-width="1.7" stroke-linejoin="round" stroke-linecap="butt" clip-path="url(#c32)"/>
<path d="M951.46 448.7 L955.27 489.38 L959.09 492.09 L962.9 492.54 L966.71 495.32 L970.52 494.09 L974.33 495.48 L978.14 495.23 L981.95 493.15 L985.76 493.12 L989.57 493.43 L993.38 495.05 L997.19 493.89 L1001 491.84 L1004.82 492.5 L1008.63 496.66 L1012.44 490.46 L1016.25 490.79 L1020.06 492.7 L1023.87 496.02 L1027.68 495.94 L1031.49 495.15 L1035.3 496.08 L1039.11 496.05 L1042.92 494.16 L1046.73 495.39 L1050.55 492.15 L1054.36 496.54 L1058.17 494.04 L1061.98 493.76 L1065.79 493.09 L1069.6 494.3 L1073.41 493.32 L1077.22 493.18 L1081.03 493.06 L1084.84 494.18 L1088.65 492.47 L1092.46 491.32 L1096.28 490.46 L1100.09 495.41 L1103.9 492.84 L1107.71 493.95 L1111.52 492.22 L1115.33 491 L1119.14 492.85 L1122.95 497.34 L1126.76 495.8 L1130.57 493.9 L1134.38 491.16 L1138.19 492.42 L1142.01 493.86 L1145.82 493.7 L1149.63 497.34 L1153.44 494.63 L1157.25 495.58 L1161.06 492.56 L1164.87 492.9 L1168.68 494.64 L1172.49 495.41 L1176.3 492.46 L1180.11 492.62 L1183.92 492.39 L1187.74 492.07 L1191.55 496.73 L1195.36 492.26 L1199.17 492.18 L1202.98 497.34 L1206.79 494.17 L1210.6 495.35 L1214.41 493.61 L1218.22 495.46 L1222.03 494.83 L1225.84 497.34 L1229.65 493.76 L1233.47 495.92 L1237.28 496.1 L1241.09 493.62 L1244.9 494.8 L1248.71 492.92 L1252.52 490.46 L1256.33 493.56 L1260.14 493.71 L1263.95 493.86 L1267.76 493.74 L1271.57 493.26 L1275.38 493.96 L1279.2 497.21 L1283.01 495.56 L1286.82 494.8 L1290.63 491.21 L1294.44 495.7 L1298.25 490.46 L1302.06 494.21 L1305.87 494.66 L1309.68 493.76 L1313.49 493.46 L1317.3 494.47 L1321.11 494.53 L1324.93 494.4 L1328.74 493.25" fill="none" stroke="#f66d7f" stroke-width="1.7" stroke-linejoin="round" stroke-linecap="butt" clip-path="url(#c32)"/>
<path d="M951.46 448.7 L955.27 486.44 L959.09 488.48 L962.9 491.64 L966.71 493.45 L970.52 494.49 L974.33 495.03 L978.14 491.52 L981.95 496.9 L985.76 495.24 L989.57 494.97 L993.38 498.06 L997.19 496.07 L1001 492.89 L1004.82 490.85 L1008.63 493.97 L1012.44 495.97 L1016.25 494.11 L1020.06 493.55 L1023.87 498.06 L1027.68 493.62 L1031.49 496.77 L1035.3 495.33 L1039.11 490.26 L1042.92 493.91 L1046.73 495.67 L1050.55 493.58 L1054.36 491.95 L1058.17 495.04 L1061.98 494.81 L1065.79 492.35 L1069.6 495.12 L1073.41 493.26 L1077.22 492.94 L1081.03 496.52 L1084.84 494.15 L1088.65 494.99 L1092.46 494.17 L1096.28 493.19 L1100.09 497.95 L1103.9 494.19 L1107.71 494.98 L1111.52 492.41 L1115.33 491.99 L1119.14 494.76 L1122.95 493.26 L1126.76 493.57 L1130.57 493.69 L1134.38 493.53 L1138.19 492.3 L1142.01 495.81 L1145.82 489.74 L1149.63 496.82 L1153.44 491.92 L1157.25 490.67 L1161.06 495.73 L1164.87 495.62 L1168.68 496.11 L1172.49 494.26 L1176.3 493.38 L1180.11 492.33 L1183.92 495.08 L1187.74 496.33 L1191.55 494.95 L1195.36 490.83 L1199.17 491.8 L1202.98 493.5 L1206.79 495.38 L1210.6 492.78 L1214.41 492.75 L1218.22 493.02 L1222.03 495.95 L1225.84 496.74 L1229.65 492.51 L1233.47 492.76 L1237.28 489.74 L1241.09 490.17 L1244.9 498.06 L1248.71 490.62 L1252.52 495.9 L1256.33 494.14 L1260.14 496.22 L1263.95 491.8 L1267.76 494.98 L1271.57 491.5 L1275.38 492.81 L1279.2 492.44 L1283.01 494.45 L1286.82 492.63 L1290.63 491.35 L1294.44 492.2 L1298.25 490.14 L1302.06 491.43 L1305.87 492.22 L1309.68 494.83 L1313.49 492.21 L1317.3 491.03 L1321.11 493.6 L1324.93 495.9 L1328.74 498.06" fill="none" stroke="#fac364" stroke-width="1.7" stroke-linejoin="round" stroke-linecap="butt" clip-path="url(#c32)"/>
<path d="M951.46 448.7 L955.27 498.26 L959.09 489.96 L962.9 494.42 L966.71 493.07 L970.52 496.19 L974.33 493.59 L978.14 493.07 L981.95 490.69 L985.76 494.63 L989.57 495.15 L993.38 495.15 L997.19 496.19 L1001 496.91 L1004.82 496.5 L1008.63 495.46 L1012.44 489.65 L1016.25 496.7 L1020.06 493.07 L1023.87 493.59 L1027.68 491.52 L1031.49 493.59 L1035.3 491.52 L1039.11 492.56 L1042.92 495.15 L1046.73 495.67 L1050.55 497.22 L1054.36 494.63 L1058.17 491.31 L1061.98 494.11 L1065.79 492.56 L1069.6 493.8 L1073.41 493.59 L1077.22 495.15 L1081.03 497.95 L1084.84 495.15 L1088.65 495.15 L1092.46 490.48 L1096.28 494.63 L1100.09 489.44 L1103.9 495.87 L1107.71 494.11 L1111.52 492.76 L1115.33 493.8 L1119.14 493.59 L1122.95 493.59 L1126.76 493.59 L1130.57 491.52 L1134.38 494.11 L1138.19 495.67 L1142.01 492.04 L1145.82 496.7 L1149.63 494.11 L1153.44 492.56 L1157.25 495.46 L1161.06 493.59 L1164.87 496.19 L1168.68 494.63 L1172.49 493.8 L1176.3 496.5 L1180.11 487.37 L1183.92 493.07 L1187.74 492.04 L1191.55 494.11 L1195.36 494.11 L1199.17 494.11 L1202.98 489.65 L1206.79 494.11 L1210.6 492.04 L1214.41 491.31 L1218.22 491.31 L1222.03 495.87 L1225.84 493.59 L1229.65 495.15 L1233.47 495.67 L1237.28 496.19 L1241.09 490.69 L1244.9 496.91 L1248.71 492.56 L1252.52 494.11 L1256.33 494.11 L1260.14 498.26 L1263.95 487.89 L1267.76 496.7 L1271.57 494.63 L1275.38 492.04 L1279.2 494.11 L1283.01 493.59 L1286.82 491.52 L1290.63 490.69 L1294.44 492.04 L1298.25 496.7 L1302.06 493.59 L1305.87 496.7 L1309.68 496.19 L1313.49 495.87 L1317.3 495.15 L1321.11 492.56 L1324.93 490.69 L1328.74 492.56" fill="none" stroke="#7c2695" stroke-width="1.7" stroke-linejoin="round" stroke-linecap="butt" clip-path="url(#c32)"/>
</svg>
</body></html>
